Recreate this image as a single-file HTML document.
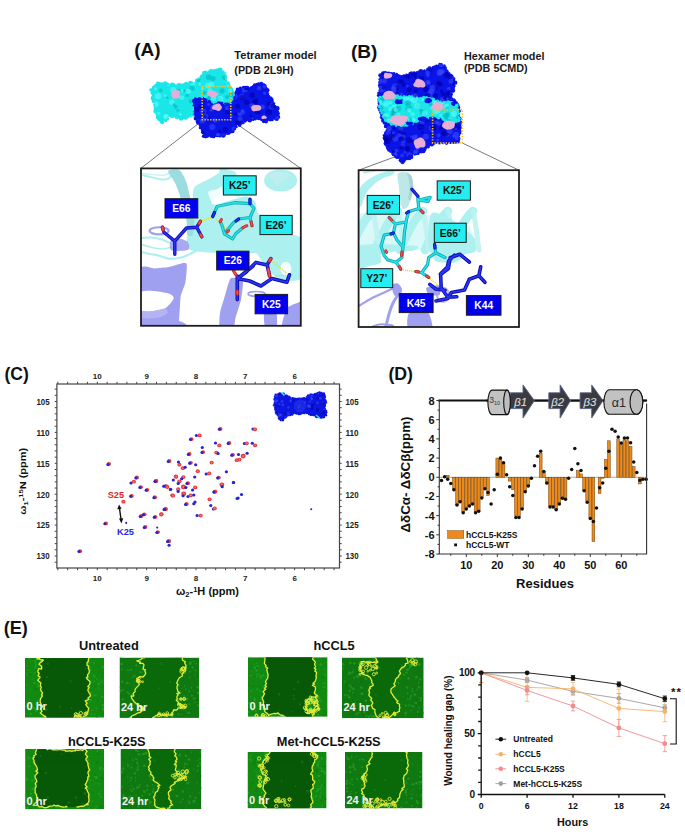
<!DOCTYPE html>
<html><head><meta charset="utf-8"><style>
html,body{margin:0;padding:0;background:#fff;}
body{width:685px;height:832px;overflow:hidden;}
svg{display:block;font-family:"Liberation Sans", sans-serif;}
</style></head><body>
<svg width="685" height="832" viewBox="0 0 685 832">
<text x="134.3" y="56.4" font-size="19" text-anchor="start" fill="#111" font-weight="bold" >(A)</text>
<text x="234.3" y="59.1" font-size="11.1" text-anchor="start" fill="#1a1a1a" font-weight="bold" >Tetramer model</text>
<text x="234.3" y="74.3" font-size="10.8" text-anchor="start" fill="#1a1a1a" font-weight="bold" >(PDB 2L9H)</text>
<text x="351" y="57.6" font-size="19" text-anchor="start" fill="#111" font-weight="bold" >(B)</text>
<text x="464" y="59.7" font-size="10.8" text-anchor="start" fill="#1a1a1a" font-weight="bold" >Hexamer model</text>
<text x="464" y="72.3" font-size="10.8" text-anchor="start" fill="#1a1a1a" font-weight="bold" >(PDB 5CMD)</text>
<path d="M203,120L140.8,168.4M231,120L300.8,168.4" stroke="#555" stroke-width="0.8" fill="none"/>
<path d="M432.6,143L358.6,170.2M462.3,143L518.9,170.2" stroke="#555" stroke-width="0.8" fill="none"/>
<g fill="#1ae6e8"><path d="M151.2,89.8C152.14,87.34 154.04,84.48 157.3,83.4C160.56,82.32 163.82,84 167.5,84.4C171.18,84.8 172.02,85.4 175.7,85.4C179.38,85.4 182.24,85 185.9,84.4C189.56,83.8 190.94,83.82 194,82.4C197.06,80.98 199.14,79.14 201.2,77.3C203.26,75.46 202.06,74.44 204.3,73.2C206.54,71.96 209.14,71.72 212.4,71.1C215.66,70.48 217.94,69.68 220.6,70.1C223.26,70.52 224.88,71.36 225.7,73.2C226.52,75.04 224.08,76.86 224.7,79.3C225.32,81.74 227.16,82.94 228.8,85.4C230.44,87.86 231.88,87.92 232.9,91.6C233.92,95.28 234.72,100.54 233.9,103.8C233.08,107.06 236.36,107.48 228.8,107.9C221.24,108.32 202.84,104.68 196.1,105.9C189.36,107.12 196.74,111.76 195.1,114C193.46,116.24 190.56,116.06 187.9,117.1C185.24,118.14 184.24,119.2 181.8,119.2C179.36,119.2 178.16,117.72 175.7,117.1C173.24,116.48 171.56,115.48 169.5,116.1C167.44,116.72 166.82,118.98 165.4,120.2C163.98,121.42 163.88,122.74 162.4,122.2C160.92,121.66 159.36,119.54 158,117.5C156.64,115.46 156.28,115.14 155.6,112C154.92,108.86 155.2,105.06 154.6,101.8C154,98.54 153.28,98.1 152.6,95.7C151.92,93.3 150.26,92.26 151.2,89.8Z" fill="#1ae6e8"/><circle cx="150.78" cy="89.87" r="1.54"/><circle cx="152.89" cy="88.4" r="1.18"/><circle cx="153.47" cy="87.14" r="1.41"/><circle cx="155.35" cy="85.79" r="1.66"/><circle cx="157.84" cy="83.36" r="1.87"/><circle cx="158.78" cy="83.82" r="2.14"/><circle cx="161.42" cy="84.19" r="1.91"/><circle cx="162.72" cy="84.41" r="1.81"/><circle cx="165.14" cy="83.45" r="2.14"/><circle cx="167.46" cy="84.75" r="2.15"/><circle cx="169.89" cy="85.32" r="1.57"/><circle cx="172.08" cy="84.81" r="2.22"/><circle cx="174.26" cy="84.51" r="1.26"/><circle cx="175.25" cy="86.14" r="1.62"/><circle cx="177.94" cy="84.88" r="1.71"/><circle cx="179.6" cy="84.76" r="1.8"/><circle cx="181.95" cy="85.45" r="1.92"/><circle cx="184.55" cy="85.17" r="2.29"/><circle cx="186.17" cy="83.86" r="2.13"/><circle cx="188.67" cy="84.55" r="1.78"/><circle cx="190.29" cy="82.94" r="2.1"/><circle cx="192.09" cy="82.56" r="1.18"/><circle cx="194.57" cy="83.18" r="1.21"/><circle cx="196.28" cy="80.98" r="1.28"/><circle cx="197.27" cy="80.28" r="2.15"/><circle cx="198.67" cy="78.76" r="1.15"/><circle cx="201.55" cy="77.03" r="2.16"/><circle cx="203.52" cy="75.26" r="2.3"/><circle cx="204" cy="72.52" r="1.82"/><circle cx="205.58" cy="72.19" r="1.59"/><circle cx="208.53" cy="71.6" r="1.15"/><circle cx="210.96" cy="71.33" r="2.25"/><circle cx="213.03" cy="70.9" r="1.65"/><circle cx="214.48" cy="71.08" r="1.81"/><circle cx="216.59" cy="70.79" r="2.23"/><circle cx="218.56" cy="70.24" r="1.96"/><circle cx="220.18" cy="69.78" r="2.27"/><circle cx="223.18" cy="71.73" r="1.11"/><circle cx="225.56" cy="73.33" r="1.12"/><circle cx="225.55" cy="75.44" r="1.17"/><circle cx="225.24" cy="77.21" r="1.92"/><circle cx="224.46" cy="79.63" r="1.99"/><circle cx="225.3" cy="80.63" r="1.91"/><circle cx="228.17" cy="82.97" r="1.65"/><circle cx="228.95" cy="85.11" r="1.54"/><circle cx="229.87" cy="87.26" r="1.81"/><circle cx="231.21" cy="89.34" r="2.03"/><circle cx="232.14" cy="91.71" r="1.98"/><circle cx="232.76" cy="93.19" r="2.06"/><circle cx="232.82" cy="95.17" r="1.62"/><circle cx="233.72" cy="97.06" r="1.49"/><circle cx="233.3" cy="100.27" r="1.63"/><circle cx="234.3" cy="101.24" r="1.5"/><circle cx="234.14" cy="104.42" r="1.64"/><circle cx="231.76" cy="104.56" r="1.74"/><circle cx="230.01" cy="107.02" r="2.11"/><circle cx="228.29" cy="107.55" r="2.07"/><circle cx="226.98" cy="108.27" r="1.51"/><circle cx="224.12" cy="107.32" r="2.05"/><circle cx="222.3" cy="107.28" r="1.6"/><circle cx="220.5" cy="107.26" r="2.2"/><circle cx="218.03" cy="106.48" r="2.23"/><circle cx="217.15" cy="107.93" r="1.62"/><circle cx="215.21" cy="107.71" r="1.37"/><circle cx="212.84" cy="107.44" r="1.9"/><circle cx="210.44" cy="106.44" r="1.51"/><circle cx="207.93" cy="105.96" r="1.81"/><circle cx="205.98" cy="107.02" r="1.15"/><circle cx="204.92" cy="106.71" r="2.21"/><circle cx="202.87" cy="106.91" r="1.79"/><circle cx="199.41" cy="106.54" r="1.31"/><circle cx="197.82" cy="106.29" r="1.73"/><circle cx="195.96" cy="106.6" r="1.83"/><circle cx="195.6" cy="107.53" r="2.13"/><circle cx="195.56" cy="110.4" r="1.52"/><circle cx="194.87" cy="112.03" r="2.08"/><circle cx="194.57" cy="114.47" r="2.21"/><circle cx="193.19" cy="115.55" r="1.11"/><circle cx="190.51" cy="116.65" r="1.16"/><circle cx="187.53" cy="116.73" r="1.73"/><circle cx="185.74" cy="117.76" r="2.03"/><circle cx="183.04" cy="117.79" r="1.25"/><circle cx="181.2" cy="118.51" r="2.27"/><circle cx="180.33" cy="117.84" r="1.7"/><circle cx="177.44" cy="117.5" r="1.52"/><circle cx="175.94" cy="117.24" r="1.53"/><circle cx="173.14" cy="116.49" r="1.25"/><circle cx="171.66" cy="116.78" r="1.56"/><circle cx="168.83" cy="115.59" r="1.55"/><circle cx="167.62" cy="118.6" r="1.56"/><circle cx="165.88" cy="120.4" r="1.62"/><circle cx="162.2" cy="122.19" r="1.94"/><circle cx="160.81" cy="120.94" r="1.65"/><circle cx="159.06" cy="119.12" r="1.93"/><circle cx="157.31" cy="117.38" r="1.61"/><circle cx="157.81" cy="116.37" r="1.55"/><circle cx="157.04" cy="114.3" r="1.41"/><circle cx="155.54" cy="111.4" r="2.08"/><circle cx="155.66" cy="110.58" r="2.05"/><circle cx="155.47" cy="108.29" r="1.78"/><circle cx="154.37" cy="106.02" r="1.11"/><circle cx="154.23" cy="104.28" r="1.15"/><circle cx="153.95" cy="101.16" r="2.16"/><circle cx="153.42" cy="99" r="2.11"/><circle cx="152.66" cy="98.28" r="1.91"/><circle cx="153.14" cy="96.42" r="1.79"/><circle cx="152.61" cy="92.99" r="2.02"/><circle cx="151.68" cy="92.11" r="1.23"/></g>
<clipPath id="cA"><path d="M151.2,89.8C152.14,87.34 154.04,84.48 157.3,83.4C160.56,82.32 163.82,84 167.5,84.4C171.18,84.8 172.02,85.4 175.7,85.4C179.38,85.4 182.24,85 185.9,84.4C189.56,83.8 190.94,83.82 194,82.4C197.06,80.98 199.14,79.14 201.2,77.3C203.26,75.46 202.06,74.44 204.3,73.2C206.54,71.96 209.14,71.72 212.4,71.1C215.66,70.48 217.94,69.68 220.6,70.1C223.26,70.52 224.88,71.36 225.7,73.2C226.52,75.04 224.08,76.86 224.7,79.3C225.32,81.74 227.16,82.94 228.8,85.4C230.44,87.86 231.88,87.92 232.9,91.6C233.92,95.28 234.72,100.54 233.9,103.8C233.08,107.06 236.36,107.48 228.8,107.9C221.24,108.32 202.84,104.68 196.1,105.9C189.36,107.12 196.74,111.76 195.1,114C193.46,116.24 190.56,116.06 187.9,117.1C185.24,118.14 184.24,119.2 181.8,119.2C179.36,119.2 178.16,117.72 175.7,117.1C173.24,116.48 171.56,115.48 169.5,116.1C167.44,116.72 166.82,118.98 165.4,120.2C163.98,121.42 163.88,122.74 162.4,122.2C160.92,121.66 159.36,119.54 158,117.5C156.64,115.46 156.28,115.14 155.6,112C154.92,108.86 155.2,105.06 154.6,101.8C154,98.54 153.28,98.1 152.6,95.7C151.92,93.3 150.26,92.26 151.2,89.8Z"/></clipPath>
<g clip-path="url(#cA)"><circle cx="213.14" cy="118.79" r="1.32" fill="#5afcfc" opacity="0.6"/><circle cx="197.84" cy="113.24" r="1.68" fill="#5afcfc" opacity="0.6"/><circle cx="171.87" cy="102.19" r="2.71" fill="#5afcfc" opacity="0.6"/><circle cx="181.59" cy="90.76" r="1.9" fill="#5afcfc" opacity="0.6"/><circle cx="158.09" cy="96.17" r="3.15" fill="#5afcfc" opacity="0.6"/><circle cx="213.01" cy="78.47" r="2.58" fill="#00b8bc" opacity="0.6"/><circle cx="206.93" cy="97.04" r="2.17" fill="#00b8bc" opacity="0.6"/><circle cx="225.42" cy="77.88" r="1.39" fill="#00b8bc" opacity="0.6"/><circle cx="227" cy="97.05" r="2.09" fill="#00b8bc" opacity="0.6"/><circle cx="166.59" cy="84.03" r="1.6" fill="#00b8bc" opacity="0.6"/><circle cx="177.24" cy="82.2" r="2.58" fill="#00b8bc" opacity="0.6"/><circle cx="175.67" cy="106.85" r="2.03" fill="#00b8bc" opacity="0.6"/><circle cx="199.55" cy="84.02" r="1.64" fill="#5afcfc" opacity="0.6"/><circle cx="190.85" cy="90.04" r="1.54" fill="#5afcfc" opacity="0.6"/><circle cx="177.83" cy="110.44" r="1.49" fill="#00b8bc" opacity="0.6"/><circle cx="190.86" cy="101.31" r="2.14" fill="#00b8bc" opacity="0.6"/><circle cx="219.15" cy="99.13" r="2.16" fill="#00b8bc" opacity="0.6"/><circle cx="222.04" cy="90.95" r="2.67" fill="#00b8bc" opacity="0.6"/><circle cx="189.85" cy="82.06" r="1.67" fill="#00b8bc" opacity="0.6"/><circle cx="207.05" cy="120.05" r="2.91" fill="#5afcfc" opacity="0.6"/><circle cx="166.88" cy="83.57" r="1.57" fill="#00b8bc" opacity="0.6"/><circle cx="222.21" cy="116.98" r="1.71" fill="#00b8bc" opacity="0.6"/><circle cx="177.12" cy="92.15" r="2.66" fill="#5afcfc" opacity="0.6"/><circle cx="158.86" cy="113.55" r="1.78" fill="#5afcfc" opacity="0.6"/><circle cx="199.19" cy="105.29" r="1.21" fill="#5afcfc" opacity="0.6"/><circle cx="187.28" cy="95.42" r="1.62" fill="#00b8bc" opacity="0.6"/><circle cx="230.21" cy="90.47" r="2.29" fill="#5afcfc" opacity="0.6"/><circle cx="173.92" cy="104.77" r="1.43" fill="#00b8bc" opacity="0.6"/><circle cx="226.35" cy="75.15" r="3.08" fill="#5afcfc" opacity="0.6"/><circle cx="215.08" cy="109.56" r="1.79" fill="#00b8bc" opacity="0.6"/><circle cx="205.29" cy="112.1" r="1.73" fill="#00b8bc" opacity="0.6"/><circle cx="230.7" cy="105.15" r="2.27" fill="#5afcfc" opacity="0.6"/><circle cx="192.04" cy="88.45" r="2.64" fill="#00b8bc" opacity="0.6"/><circle cx="198.04" cy="79.58" r="2.49" fill="#00b8bc" opacity="0.6"/><circle cx="166.01" cy="116.46" r="2.51" fill="#5afcfc" opacity="0.6"/><circle cx="228.26" cy="77.47" r="1.86" fill="#00b8bc" opacity="0.6"/><circle cx="200.61" cy="99.01" r="2.49" fill="#5afcfc" opacity="0.6"/><circle cx="177.04" cy="79.29" r="1.34" fill="#00b8bc" opacity="0.6"/><circle cx="213.6" cy="98.4" r="2.68" fill="#5afcfc" opacity="0.6"/><circle cx="173.19" cy="90.07" r="2.95" fill="#5afcfc" opacity="0.6"/><circle cx="192.94" cy="82.98" r="2.74" fill="#5afcfc" opacity="0.6"/><circle cx="178.73" cy="91.11" r="2.28" fill="#00b8bc" opacity="0.6"/><circle cx="180.38" cy="114.22" r="1.42" fill="#5afcfc" opacity="0.6"/><circle cx="159.44" cy="75.97" r="2.76" fill="#00b8bc" opacity="0.6"/><circle cx="166.49" cy="79.96" r="2.03" fill="#00b8bc" opacity="0.6"/><circle cx="218.66" cy="109.11" r="2.38" fill="#5afcfc" opacity="0.6"/><circle cx="184.15" cy="80.19" r="2.26" fill="#00b8bc" opacity="0.6"/><circle cx="167.91" cy="83.13" r="2.76" fill="#5afcfc" opacity="0.6"/><circle cx="217.62" cy="116.53" r="3.1" fill="#5afcfc" opacity="0.6"/><circle cx="196.9" cy="100.48" r="2.47" fill="#00b8bc" opacity="0.6"/><circle cx="207.98" cy="85.7" r="2.92" fill="#5afcfc" opacity="0.6"/><circle cx="200.93" cy="107.97" r="1.2" fill="#00b8bc" opacity="0.6"/><circle cx="205.94" cy="95.73" r="2.25" fill="#5afcfc" opacity="0.6"/><circle cx="167.2" cy="97.69" r="1.27" fill="#00b8bc" opacity="0.6"/><circle cx="204.62" cy="93.24" r="2.33" fill="#00b8bc" opacity="0.6"/><circle cx="224.97" cy="77.16" r="2.78" fill="#00b8bc" opacity="0.6"/><circle cx="155.39" cy="88.85" r="1.67" fill="#5afcfc" opacity="0.6"/><circle cx="195.77" cy="118.54" r="1.85" fill="#00b8bc" opacity="0.6"/><circle cx="208.65" cy="77.1" r="2.92" fill="#00b8bc" opacity="0.6"/><circle cx="227.86" cy="107.4" r="2.68" fill="#5afcfc" opacity="0.6"/><circle cx="217.91" cy="118.64" r="2.92" fill="#5afcfc" opacity="0.6"/><circle cx="213.79" cy="95.37" r="1.42" fill="#5afcfc" opacity="0.6"/><circle cx="157.65" cy="80.54" r="1.52" fill="#5afcfc" opacity="0.6"/><circle cx="209.03" cy="98.1" r="2.04" fill="#00b8bc" opacity="0.6"/><circle cx="176.39" cy="94.3" r="2.71" fill="#5afcfc" opacity="0.6"/><circle cx="166.13" cy="116.96" r="2.64" fill="#5afcfc" opacity="0.6"/><circle cx="181.88" cy="97.68" r="2.39" fill="#5afcfc" opacity="0.6"/><circle cx="151.42" cy="80.99" r="2.77" fill="#5afcfc" opacity="0.6"/><circle cx="189.24" cy="80.28" r="1.62" fill="#5afcfc" opacity="0.6"/><circle cx="184.59" cy="78.87" r="1.25" fill="#5afcfc" opacity="0.6"/><circle cx="165.11" cy="95.64" r="1.32" fill="#5afcfc" opacity="0.6"/><circle cx="188.25" cy="91.34" r="2.61" fill="#5afcfc" opacity="0.6"/><circle cx="184.55" cy="90.76" r="1.25" fill="#00b8bc" opacity="0.6"/><circle cx="169.3" cy="75.01" r="2.15" fill="#5afcfc" opacity="0.6"/><circle cx="202.68" cy="88.15" r="1.45" fill="#5afcfc" opacity="0.6"/><circle cx="211.38" cy="84.43" r="2.78" fill="#5afcfc" opacity="0.6"/><circle cx="228.35" cy="85.76" r="1.7" fill="#5afcfc" opacity="0.6"/><circle cx="218.57" cy="102.88" r="1.89" fill="#5afcfc" opacity="0.6"/><circle cx="207.63" cy="120.6" r="2.38" fill="#5afcfc" opacity="0.6"/><circle cx="153.71" cy="74.82" r="1.54" fill="#5afcfc" opacity="0.6"/><circle cx="155.66" cy="104.19" r="3" fill="#5afcfc" opacity="0.6"/><circle cx="231.74" cy="94.95" r="2.81" fill="#00b8bc" opacity="0.6"/><circle cx="228.95" cy="71.88" r="1.81" fill="#00b8bc" opacity="0.6"/><circle cx="229.48" cy="74.67" r="1.79" fill="#00b8bc" opacity="0.6"/><circle cx="160.68" cy="90.41" r="1.87" fill="#00b8bc" opacity="0.6"/><circle cx="227.99" cy="79.2" r="2.68" fill="#00b8bc" opacity="0.6"/><circle cx="220.31" cy="98.93" r="3.05" fill="#5afcfc" opacity="0.6"/><circle cx="185.5" cy="82.05" r="2.76" fill="#5afcfc" opacity="0.6"/><circle cx="173.48" cy="78.94" r="2.64" fill="#00b8bc" opacity="0.6"/><circle cx="209.97" cy="90.25" r="2.17" fill="#5afcfc" opacity="0.6"/></g>
<g fill="#0a14e6"><path d="M195.1,99.7C196.74,98.06 199.96,97.48 202.2,97.7C204.44,97.92 204.26,99.36 206.3,100.8C208.34,102.24 209.54,104.5 212.4,104.9C215.26,105.3 217.32,102.6 220.6,102.8C223.88,103 225.94,106.52 228.8,105.9C231.66,105.28 233.26,102.98 234.9,99.7C236.54,96.42 235.36,91.94 237,89.5C238.64,87.06 240.24,87.7 243.1,87.5C245.96,87.3 248.04,89.32 251.3,88.5C254.56,87.68 256.54,84.02 259.4,83.4C262.26,82.78 263.96,83.36 265.6,85.4C267.24,87.44 266.38,90.74 267.6,93.6C268.82,96.46 269.66,96.42 271.7,99.7C273.74,102.98 276.36,106.32 277.8,110C279.24,113.68 280.12,116.26 278.9,118.1C277.68,119.94 274.36,118.58 271.7,119.2C269.04,119.82 268.46,121.42 265.6,121.2C262.74,120.98 261.08,118.3 257.4,118.1C253.72,117.9 250.88,118.96 247.2,120.2C243.52,121.44 241.46,122.66 239,124.3C236.54,125.94 236.54,126.78 234.9,128.4C233.26,130.02 233.24,130.98 230.8,132.4C228.36,133.82 226.38,134.68 222.7,135.5C219.02,136.32 216.08,136.5 212.4,136.5C208.72,136.5 206.54,136.72 204.3,135.5C202.06,134.28 202.02,132.64 201.2,130.4C200.38,128.16 201.02,126.14 200.2,124.3C199.38,122.46 198.12,123.26 197.1,121.2C196.08,119.14 195.72,117.06 195.1,114C194.48,110.94 194,108.76 194,105.9C194,103.04 193.46,101.34 195.1,99.7Z" fill="#0a14e6"/><circle cx="195.44" cy="98.94" r="1.66"/><circle cx="197.88" cy="99.32" r="1.22"/><circle cx="199.41" cy="98.92" r="1.87"/><circle cx="202.81" cy="98.3" r="1.64"/><circle cx="204.89" cy="99.62" r="1.5"/><circle cx="206.09" cy="100.12" r="1.58"/><circle cx="209.06" cy="101.53" r="1.78"/><circle cx="209.74" cy="102.86" r="1.88"/><circle cx="211.99" cy="104.18" r="1.28"/><circle cx="214.68" cy="104.51" r="1.11"/><circle cx="216.07" cy="104.6" r="1.36"/><circle cx="218.65" cy="103.2" r="2.04"/><circle cx="220.77" cy="103.26" r="1.74"/><circle cx="222.15" cy="103.06" r="1.19"/><circle cx="225.22" cy="103.73" r="1.13"/><circle cx="227.5" cy="104.64" r="2.17"/><circle cx="228.14" cy="105.84" r="1.37"/><circle cx="230.85" cy="104.53" r="1.87"/><circle cx="232.27" cy="103.39" r="1.52"/><circle cx="233.54" cy="101.16" r="1.23"/><circle cx="235.44" cy="99.85" r="2.08"/><circle cx="234.85" cy="97.72" r="1.66"/><circle cx="236.1" cy="94.94" r="1.52"/><circle cx="236.14" cy="92.89" r="1.76"/><circle cx="236.96" cy="91.42" r="1.88"/><circle cx="237.17" cy="89.04" r="1.52"/><circle cx="239.83" cy="88.57" r="1.62"/><circle cx="240.4" cy="87.72" r="1.3"/><circle cx="243.79" cy="87.86" r="2.15"/><circle cx="245.93" cy="87.93" r="2.22"/><circle cx="247.26" cy="87.87" r="2.24"/><circle cx="249.89" cy="88.97" r="1.68"/><circle cx="251.74" cy="88.35" r="2.3"/><circle cx="254" cy="86.89" r="2.22"/><circle cx="254.85" cy="85.3" r="1.97"/><circle cx="257.05" cy="84.71" r="1.87"/><circle cx="258.66" cy="83.79" r="1.43"/><circle cx="261.36" cy="83.82" r="1.99"/><circle cx="263.93" cy="84.39" r="1.22"/><circle cx="265.28" cy="85.26" r="1.19"/><circle cx="265.55" cy="87.87" r="1.94"/><circle cx="267.36" cy="90.27" r="2.15"/><circle cx="266.9" cy="91.01" r="1.47"/><circle cx="267.54" cy="93.64" r="1.75"/><circle cx="268.74" cy="96.2" r="1.44"/><circle cx="270.27" cy="98.29" r="2.07"/><circle cx="271.38" cy="99.29" r="2.07"/><circle cx="272.14" cy="101.17" r="1.74"/><circle cx="274.2" cy="103.29" r="1.16"/><circle cx="274.89" cy="106.31" r="1.66"/><circle cx="277.35" cy="108.4" r="2.28"/><circle cx="277.06" cy="109.5" r="1.12"/><circle cx="277.97" cy="111.77" r="1.16"/><circle cx="278.42" cy="113.4" r="1.47"/><circle cx="278.22" cy="116.56" r="1.6"/><circle cx="278.52" cy="117.37" r="1.62"/><circle cx="276.7" cy="118.75" r="2.2"/><circle cx="274.59" cy="118.43" r="1.26"/><circle cx="272.11" cy="119.66" r="1.71"/><circle cx="270.2" cy="119.95" r="1.44"/><circle cx="267.1" cy="119.76" r="1.87"/><circle cx="266.24" cy="121.85" r="1.66"/><circle cx="263.81" cy="121.11" r="2.08"/><circle cx="261.66" cy="119.51" r="1.72"/><circle cx="258.92" cy="118.37" r="1.92"/><circle cx="258.19" cy="118.18" r="1.59"/><circle cx="255.12" cy="118.45" r="2.06"/><circle cx="253.24" cy="119.67" r="1.29"/><circle cx="250.98" cy="119.4" r="1.59"/><circle cx="249.8" cy="120.3" r="2.22"/><circle cx="247.38" cy="119.45" r="1.79"/><circle cx="245.23" cy="121.21" r="1.44"/><circle cx="243.44" cy="122.91" r="1.22"/><circle cx="241.32" cy="123.07" r="1.72"/><circle cx="239.63" cy="125.04" r="1.87"/><circle cx="236.46" cy="127.02" r="1.32"/><circle cx="234.71" cy="128.93" r="1.48"/><circle cx="232.48" cy="131.12" r="2.23"/><circle cx="230.51" cy="132.23" r="1.44"/><circle cx="228.19" cy="132.78" r="2.28"/><circle cx="226.08" cy="133.52" r="1.34"/><circle cx="224.05" cy="134.77" r="1.99"/><circle cx="223.24" cy="135.71" r="2.08"/><circle cx="219.85" cy="135.35" r="2.25"/><circle cx="217.89" cy="135.53" r="1.68"/><circle cx="216.15" cy="136.17" r="1.16"/><circle cx="214.04" cy="137.03" r="1.27"/><circle cx="213.05" cy="135.98" r="2.29"/><circle cx="210.65" cy="136.49" r="1.27"/><circle cx="207.64" cy="136.42" r="1.31"/><circle cx="205.83" cy="136.27" r="2.15"/><circle cx="203.58" cy="136.24" r="1.74"/><circle cx="202.56" cy="132.32" r="1.57"/><circle cx="201.98" cy="130.05" r="1.26"/><circle cx="200.3" cy="127.77" r="1.52"/><circle cx="201.2" cy="125.66" r="1.33"/><circle cx="200.9" cy="125.1" r="2.28"/><circle cx="198.24" cy="122.52" r="2.24"/><circle cx="197.08" cy="121.53" r="1.48"/><circle cx="195.67" cy="118.55" r="2"/><circle cx="196.22" cy="116.51" r="1.66"/><circle cx="195.16" cy="113.91" r="1.74"/><circle cx="195.36" cy="111.5" r="1.81"/><circle cx="195.24" cy="110.51" r="1.32"/><circle cx="195.02" cy="108.47" r="1.3"/><circle cx="193.63" cy="105.42" r="1.16"/><circle cx="195.13" cy="103.69" r="2.15"/><circle cx="194.12" cy="100.99" r="2.14"/></g>
<clipPath id="bA"><path d="M195.1,99.7C196.74,98.06 199.96,97.48 202.2,97.7C204.44,97.92 204.26,99.36 206.3,100.8C208.34,102.24 209.54,104.5 212.4,104.9C215.26,105.3 217.32,102.6 220.6,102.8C223.88,103 225.94,106.52 228.8,105.9C231.66,105.28 233.26,102.98 234.9,99.7C236.54,96.42 235.36,91.94 237,89.5C238.64,87.06 240.24,87.7 243.1,87.5C245.96,87.3 248.04,89.32 251.3,88.5C254.56,87.68 256.54,84.02 259.4,83.4C262.26,82.78 263.96,83.36 265.6,85.4C267.24,87.44 266.38,90.74 267.6,93.6C268.82,96.46 269.66,96.42 271.7,99.7C273.74,102.98 276.36,106.32 277.8,110C279.24,113.68 280.12,116.26 278.9,118.1C277.68,119.94 274.36,118.58 271.7,119.2C269.04,119.82 268.46,121.42 265.6,121.2C262.74,120.98 261.08,118.3 257.4,118.1C253.72,117.9 250.88,118.96 247.2,120.2C243.52,121.44 241.46,122.66 239,124.3C236.54,125.94 236.54,126.78 234.9,128.4C233.26,130.02 233.24,130.98 230.8,132.4C228.36,133.82 226.38,134.68 222.7,135.5C219.02,136.32 216.08,136.5 212.4,136.5C208.72,136.5 206.54,136.72 204.3,135.5C202.06,134.28 202.02,132.64 201.2,130.4C200.38,128.16 201.02,126.14 200.2,124.3C199.38,122.46 198.12,123.26 197.1,121.2C196.08,119.14 195.72,117.06 195.1,114C194.48,110.94 194,108.76 194,105.9C194,103.04 193.46,101.34 195.1,99.7Z"/></clipPath>
<g clip-path="url(#bA)"><circle cx="261.41" cy="136.05" r="2.57" fill="#0000a8" opacity="0.6"/><circle cx="259.04" cy="88.31" r="2.28" fill="#3848ff" opacity="0.6"/><circle cx="206.42" cy="115.28" r="1.85" fill="#0000a8" opacity="0.6"/><circle cx="225.71" cy="100.29" r="1.92" fill="#0000a8" opacity="0.6"/><circle cx="277.24" cy="133.11" r="2.92" fill="#0000a8" opacity="0.6"/><circle cx="218.35" cy="135.26" r="1.74" fill="#3848ff" opacity="0.6"/><circle cx="236.52" cy="122.28" r="1.88" fill="#0000a8" opacity="0.6"/><circle cx="217.98" cy="134.74" r="2.11" fill="#3848ff" opacity="0.6"/><circle cx="239.12" cy="129.86" r="3.17" fill="#0000a8" opacity="0.6"/><circle cx="231.49" cy="116.21" r="1.34" fill="#3848ff" opacity="0.6"/><circle cx="265.95" cy="124.68" r="1.32" fill="#0000a8" opacity="0.6"/><circle cx="226.6" cy="135.51" r="1.93" fill="#3848ff" opacity="0.6"/><circle cx="240.59" cy="130.33" r="2.06" fill="#0000a8" opacity="0.6"/><circle cx="254.39" cy="102.6" r="1.8" fill="#0000a8" opacity="0.6"/><circle cx="227.88" cy="103.18" r="2.5" fill="#0000a8" opacity="0.6"/><circle cx="243.62" cy="91.16" r="1.64" fill="#3848ff" opacity="0.6"/><circle cx="246.19" cy="90.81" r="1.36" fill="#3848ff" opacity="0.6"/><circle cx="218.02" cy="84.97" r="2.28" fill="#0000a8" opacity="0.6"/><circle cx="239.37" cy="122.56" r="2.86" fill="#0000a8" opacity="0.6"/><circle cx="271.52" cy="106.84" r="2.56" fill="#3848ff" opacity="0.6"/><circle cx="268.71" cy="103.48" r="2.15" fill="#0000a8" opacity="0.6"/><circle cx="218.35" cy="93.48" r="2.85" fill="#0000a8" opacity="0.6"/><circle cx="201.2" cy="84.89" r="1.9" fill="#3848ff" opacity="0.6"/><circle cx="264.67" cy="93.15" r="1.75" fill="#3848ff" opacity="0.6"/><circle cx="237.44" cy="106.36" r="2.46" fill="#0000a8" opacity="0.6"/><circle cx="231.03" cy="88.55" r="3.16" fill="#0000a8" opacity="0.6"/><circle cx="201.09" cy="106.85" r="2.71" fill="#0000a8" opacity="0.6"/><circle cx="199.6" cy="83.9" r="2.16" fill="#3848ff" opacity="0.6"/><circle cx="269.94" cy="127.29" r="1.86" fill="#3848ff" opacity="0.6"/><circle cx="243.48" cy="130.35" r="1.6" fill="#3848ff" opacity="0.6"/><circle cx="201.51" cy="117.45" r="1.25" fill="#0000a8" opacity="0.6"/><circle cx="238.46" cy="113.87" r="1.37" fill="#3848ff" opacity="0.6"/><circle cx="233.8" cy="128.93" r="2.28" fill="#3848ff" opacity="0.6"/><circle cx="277.38" cy="118.52" r="2.26" fill="#3848ff" opacity="0.6"/><circle cx="219.35" cy="131.18" r="1.47" fill="#0000a8" opacity="0.6"/><circle cx="246.63" cy="102.24" r="2.74" fill="#0000a8" opacity="0.6"/><circle cx="266.81" cy="122.59" r="1.61" fill="#3848ff" opacity="0.6"/><circle cx="230.75" cy="99.97" r="1.59" fill="#0000a8" opacity="0.6"/><circle cx="212.34" cy="127.09" r="3.08" fill="#3848ff" opacity="0.6"/><circle cx="271.56" cy="104.49" r="1.62" fill="#3848ff" opacity="0.6"/><circle cx="197.2" cy="109.88" r="1.97" fill="#0000a8" opacity="0.6"/><circle cx="264.72" cy="86.43" r="2" fill="#3848ff" opacity="0.6"/><circle cx="209.08" cy="96.71" r="1.73" fill="#0000a8" opacity="0.6"/><circle cx="222.88" cy="89.3" r="1.64" fill="#3848ff" opacity="0.6"/><circle cx="241.95" cy="96.44" r="2.6" fill="#3848ff" opacity="0.6"/><circle cx="250.95" cy="115.76" r="1.55" fill="#0000a8" opacity="0.6"/><circle cx="227.47" cy="112.05" r="2.4" fill="#0000a8" opacity="0.6"/><circle cx="231.55" cy="86.37" r="2.77" fill="#0000a8" opacity="0.6"/><circle cx="235.61" cy="114.14" r="1.74" fill="#0000a8" opacity="0.6"/><circle cx="252.21" cy="95.18" r="2.83" fill="#0000a8" opacity="0.6"/><circle cx="223.37" cy="136.26" r="2.17" fill="#3848ff" opacity="0.6"/><circle cx="254.86" cy="101.39" r="2.66" fill="#0000a8" opacity="0.6"/><circle cx="203.14" cy="111.44" r="2.9" fill="#3848ff" opacity="0.6"/><circle cx="239.79" cy="129.23" r="2.09" fill="#3848ff" opacity="0.6"/><circle cx="243.48" cy="127.15" r="1.61" fill="#3848ff" opacity="0.6"/><circle cx="258.63" cy="112.74" r="1.81" fill="#0000a8" opacity="0.6"/><circle cx="269.1" cy="112.15" r="3.18" fill="#0000a8" opacity="0.6"/><circle cx="257.51" cy="98.87" r="1.22" fill="#0000a8" opacity="0.6"/><circle cx="256.41" cy="102.02" r="2.16" fill="#0000a8" opacity="0.6"/><circle cx="215.21" cy="120.44" r="2.33" fill="#3848ff" opacity="0.6"/><circle cx="203.31" cy="112.81" r="1.84" fill="#0000a8" opacity="0.6"/><circle cx="208.65" cy="104.34" r="1.59" fill="#3848ff" opacity="0.6"/><circle cx="242.93" cy="89.08" r="1.31" fill="#3848ff" opacity="0.6"/><circle cx="211.11" cy="110.22" r="1.53" fill="#3848ff" opacity="0.6"/><circle cx="239.64" cy="132.42" r="2.94" fill="#0000a8" opacity="0.6"/><circle cx="227.73" cy="86.91" r="1.75" fill="#3848ff" opacity="0.6"/><circle cx="273.94" cy="89.62" r="3.1" fill="#3848ff" opacity="0.6"/><circle cx="230.85" cy="97.33" r="3.13" fill="#3848ff" opacity="0.6"/><circle cx="242.51" cy="110.52" r="1.6" fill="#3848ff" opacity="0.6"/><circle cx="277.66" cy="125.39" r="2.67" fill="#0000a8" opacity="0.6"/><circle cx="202.37" cy="120.76" r="2.7" fill="#3848ff" opacity="0.6"/><circle cx="232.8" cy="135.14" r="1.85" fill="#0000a8" opacity="0.6"/><circle cx="208.03" cy="118.83" r="1.74" fill="#0000a8" opacity="0.6"/><circle cx="225.61" cy="129.61" r="2.69" fill="#0000a8" opacity="0.6"/><circle cx="252.35" cy="106.11" r="2.81" fill="#3848ff" opacity="0.6"/><circle cx="240.2" cy="114.5" r="1.98" fill="#3848ff" opacity="0.6"/><circle cx="208.43" cy="117.41" r="1.62" fill="#0000a8" opacity="0.6"/><circle cx="236.87" cy="134.01" r="2.9" fill="#0000a8" opacity="0.6"/><circle cx="225.63" cy="85.71" r="2.31" fill="#0000a8" opacity="0.6"/><circle cx="272.2" cy="94.16" r="1.52" fill="#0000a8" opacity="0.6"/><circle cx="256.78" cy="109.13" r="2.68" fill="#3848ff" opacity="0.6"/><circle cx="240.19" cy="118.9" r="2.41" fill="#3848ff" opacity="0.6"/><circle cx="205.61" cy="116.58" r="2.97" fill="#3848ff" opacity="0.6"/><circle cx="194.6" cy="87.8" r="2.77" fill="#3848ff" opacity="0.6"/><circle cx="232.7" cy="136.18" r="2.42" fill="#3848ff" opacity="0.6"/><circle cx="253.51" cy="83.51" r="1.76" fill="#0000a8" opacity="0.6"/><circle cx="208.5" cy="85.14" r="2.24" fill="#3848ff" opacity="0.6"/><circle cx="276.45" cy="88.8" r="2.8" fill="#3848ff" opacity="0.6"/><circle cx="262.38" cy="107.03" r="2.53" fill="#3848ff" opacity="0.6"/><circle cx="213.07" cy="107.42" r="2.8" fill="#3848ff" opacity="0.6"/><circle cx="213.52" cy="105.48" r="1.39" fill="#3848ff" opacity="0.6"/><circle cx="242.63" cy="112.37" r="2.39" fill="#3848ff" opacity="0.6"/><circle cx="196.11" cy="84.81" r="1.88" fill="#3848ff" opacity="0.6"/><circle cx="242.31" cy="97.49" r="2.72" fill="#0000a8" opacity="0.6"/><circle cx="250.23" cy="122.46" r="2.24" fill="#3848ff" opacity="0.6"/><circle cx="220.19" cy="86.74" r="2.79" fill="#0000a8" opacity="0.6"/><circle cx="202.47" cy="132.6" r="2.36" fill="#0000a8" opacity="0.6"/><circle cx="231.24" cy="90.1" r="3.2" fill="#3848ff" opacity="0.6"/><circle cx="225.09" cy="136.46" r="1.44" fill="#3848ff" opacity="0.6"/><circle cx="234.72" cy="96.55" r="3.05" fill="#3848ff" opacity="0.6"/><circle cx="194.98" cy="108.55" r="1.21" fill="#0000a8" opacity="0.6"/><circle cx="267.78" cy="131.49" r="1.3" fill="#0000a8" opacity="0.6"/><circle cx="219.87" cy="108.5" r="1.8" fill="#3848ff" opacity="0.6"/><circle cx="205.27" cy="116.63" r="1.38" fill="#0000a8" opacity="0.6"/><circle cx="197.72" cy="134.59" r="1.58" fill="#3848ff" opacity="0.6"/><circle cx="257.23" cy="111.59" r="2.74" fill="#0000a8" opacity="0.6"/><circle cx="247.53" cy="87.79" r="2.55" fill="#0000a8" opacity="0.6"/><circle cx="275.69" cy="83.73" r="1.34" fill="#0000a8" opacity="0.6"/><circle cx="272.63" cy="105.79" r="2.62" fill="#0000a8" opacity="0.6"/><circle cx="227.19" cy="108.11" r="2.4" fill="#3848ff" opacity="0.6"/></g>
<path d="M179.65,94.8C179.55,96.49 180.36,96.85 179.44,97.82C178.52,98.79 177.86,98.28 176.2,98.44C174.55,98.59 174.43,99.02 173.23,98.39C172.03,97.76 172.17,97.37 171.7,96.06C171.24,94.75 171.13,94.85 171.49,93.47C171.84,92.09 171.72,91.77 173.03,90.89C174.34,90.01 174.58,90 176.4,90.16C178.21,90.32 178.96,90.25 179.83,91.48C180.7,92.72 179.76,93.11 179.65,94.8Z" fill="#e6aed6"/>
<path d="M218.14,94.2C218.15,95.3 217.49,95.36 216.25,96.28C215.01,97.2 215.05,97.51 213.49,97.64C211.94,97.77 211.88,97.38 210.42,96.76C208.96,96.15 208.9,96.38 208.02,95.33C207.14,94.29 206.68,94.07 207.12,92.85C207.55,91.62 207.96,91.23 209.64,90.73C211.33,90.22 211.7,90.56 213.45,90.94C215.2,91.32 214.96,91.28 216.21,92.15C217.46,93.02 218.12,93.1 218.14,94.2Z" fill="#e6aed6"/>
<path d="M221.8,107.2C221.87,108.25 221.85,108.25 221.01,109.25C220.18,110.25 220.11,110.72 218.67,110.94C217.23,111.17 217.33,110.67 215.61,110.09C213.88,109.5 212.91,109.88 212.2,108.75C211.49,107.62 212.07,107.08 212.95,105.86C213.83,104.64 213.98,104.78 215.5,104.17C217.02,103.57 217.24,103.28 218.64,103.59C220.04,103.89 219.91,104.36 220.75,105.32C221.59,106.28 221.72,106.15 221.8,107.2Z" fill="#e6aed6"/>
<path d="M261.18,107.8C261.26,109.07 261.18,109.43 259.91,110.26C258.64,111.09 258.3,110.7 256.41,110.92C254.52,111.14 254.14,111.63 252.82,111.08C251.49,110.52 251.77,109.97 251.44,108.83C251.1,107.69 251.03,107.75 251.56,106.8C252.09,105.85 252.17,105.75 253.44,105.26C254.71,104.76 254.69,104.89 256.34,104.96C257.99,105.02 258.34,104.74 259.63,105.5C260.93,106.26 261.11,106.53 261.18,107.8Z" fill="#e6aed6"/>
<path d="M266.78,117.3C266.92,117.91 266.86,118.21 266.22,118.59C265.57,118.97 265.35,118.59 264.36,118.72C263.38,118.85 263.27,119.28 262.53,119.07C261.79,118.85 261.8,118.53 261.58,117.91C261.36,117.28 261.41,117.3 261.71,116.72C262,116.14 261.97,116.04 262.7,115.74C263.43,115.44 263.64,115.43 264.44,115.59C265.23,115.74 265.07,115.86 265.69,116.32C266.32,116.77 266.64,116.69 266.78,117.3Z" fill="#e6aed6"/>
<rect x="202.2" y="86.5" width="28.6" height="33.3" fill="none" stroke="#f5c820" stroke-width="1.6" stroke-dasharray="1.4,1.4"/>
<g fill="#0a14e6"><path d="M380.44,75.07C381.47,72.89 381.72,73.21 384.45,72.99C387.18,72.76 390.56,73.44 394.09,73.95C397.62,74.46 398.59,75.75 402.12,75.56C405.65,75.36 407.9,73.72 411.75,72.99C415.61,72.25 417.21,72.95 421.39,71.86C425.56,70.77 429.1,69.04 432.63,67.53C436.16,66.02 436.74,64.64 439.05,64.31C441.37,63.99 442.52,64.31 444.19,65.92C445.86,67.53 445.48,69.77 447.4,72.34C449.33,74.91 452.35,76.13 453.83,78.77C455.31,81.4 455.34,82.81 454.79,85.51C454.25,88.21 452.16,89.69 451.1,92.26C450.04,94.83 448.69,96.5 449.49,98.36C450.3,100.22 453.41,100.29 455.11,101.57C456.82,102.86 457.3,101.89 458,104.78C458.71,107.67 458.2,112.49 458.65,116.02C459.1,119.56 460.16,118.59 460.25,122.45C460.35,126.3 459.58,131.44 459.13,135.3C458.68,139.15 460.41,140.18 458,141.72C455.59,143.26 451.19,142.94 447.08,143C442.97,143.07 440.92,141.59 437.45,142.04C433.98,142.49 432.57,143.33 429.74,145.25C426.91,147.18 426.85,149.75 423.32,151.68C419.78,153.6 415.29,153.35 412.07,154.89C408.86,156.43 409.25,157.91 407.26,159.38C405.27,160.86 403.85,162.6 402.12,162.27C400.38,161.95 400.58,159.64 398.59,157.78C396.59,155.92 394.73,155.53 392.16,152.96C389.59,150.39 387.34,148.14 385.74,144.93C384.13,141.72 383.81,140.11 384.13,136.9C384.45,133.69 387.6,132.08 387.34,128.87C387.09,125.66 384.45,125.02 382.85,120.84C381.24,116.67 380.12,112.81 379.31,108C378.51,103.18 378.83,101.57 378.83,96.75C378.83,91.94 378.99,88.24 379.31,83.91C379.64,79.57 379.41,77.26 380.44,75.07Z" fill="#0a14e6"/><circle cx="380.27" cy="75.31" r="1.96"/><circle cx="383.11" cy="73.54" r="2.17"/><circle cx="384.93" cy="73.33" r="2.28"/><circle cx="386.28" cy="73.67" r="2.18"/><circle cx="388.67" cy="73.62" r="2.24"/><circle cx="391.35" cy="74.28" r="2.19"/><circle cx="393.98" cy="73.38" r="1.36"/><circle cx="396.62" cy="74.23" r="1.48"/><circle cx="398.01" cy="75.44" r="1.4"/><circle cx="399.34" cy="75.87" r="1.48"/><circle cx="401.93" cy="76.32" r="1.44"/><circle cx="403.86" cy="75.53" r="1.39"/><circle cx="406.49" cy="74.97" r="1.38"/><circle cx="409.99" cy="73.36" r="1.46"/><circle cx="411.3" cy="73.05" r="1.77"/><circle cx="414" cy="72.72" r="1.46"/><circle cx="417.11" cy="73.12" r="2"/><circle cx="419.49" cy="71.46" r="1.4"/><circle cx="420.92" cy="71.31" r="2.26"/><circle cx="423.91" cy="71.8" r="1.77"/><circle cx="424.52" cy="70.3" r="1.17"/><circle cx="427.66" cy="69.32" r="1.45"/><circle cx="429.6" cy="68.49" r="2.21"/><circle cx="430.45" cy="68.51" r="1.23"/><circle cx="433.27" cy="67.36" r="1.51"/><circle cx="435.02" cy="66.6" r="1.4"/><circle cx="436.31" cy="65.51" r="1.13"/><circle cx="439.65" cy="64.06" r="1.3"/><circle cx="441.35" cy="64.5" r="1.48"/><circle cx="444.26" cy="65.77" r="1.5"/><circle cx="444.93" cy="68.04" r="2.03"/><circle cx="446.23" cy="70.63" r="1.68"/><circle cx="446.8" cy="71.82" r="2.12"/><circle cx="448.98" cy="73.76" r="1.72"/><circle cx="451.17" cy="75.36" r="1.53"/><circle cx="452.01" cy="76.38" r="1.75"/><circle cx="453.8" cy="78.76" r="1.64"/><circle cx="454.11" cy="81.36" r="1.32"/><circle cx="455.24" cy="82.65" r="2.14"/><circle cx="454.27" cy="85.98" r="1.41"/><circle cx="452.89" cy="87.83" r="2.11"/><circle cx="452.88" cy="90.61" r="2.28"/><circle cx="450.38" cy="92.06" r="1.23"/><circle cx="450.97" cy="94.21" r="1.99"/><circle cx="450.5" cy="97.12" r="1.91"/><circle cx="450.09" cy="98.44" r="1.2"/><circle cx="451.99" cy="98.78" r="1.2"/><circle cx="453.77" cy="100.15" r="1.89"/><circle cx="454.36" cy="101.11" r="1.96"/><circle cx="455.82" cy="103.19" r="2.22"/><circle cx="457.55" cy="105.11" r="1.99"/><circle cx="458.32" cy="107.46" r="1.94"/><circle cx="457.48" cy="108.79" r="1.74"/><circle cx="459.14" cy="111.08" r="1.8"/><circle cx="457.92" cy="114.33" r="1.63"/><circle cx="458.68" cy="116.3" r="1.26"/><circle cx="459.55" cy="118.65" r="2.13"/><circle cx="459.37" cy="119.88" r="1.3"/><circle cx="460.89" cy="122.35" r="1.57"/><circle cx="460.1" cy="124.91" r="1.48"/><circle cx="459.62" cy="127.16" r="2.03"/><circle cx="459.36" cy="128.19" r="2.21"/><circle cx="459.87" cy="131.16" r="1.59"/><circle cx="460.05" cy="133.04" r="1.36"/><circle cx="458.49" cy="135.06" r="1.82"/><circle cx="458.54" cy="138.15" r="1.88"/><circle cx="458.31" cy="139.83" r="1.82"/><circle cx="458.19" cy="141.71" r="1.73"/><circle cx="455.81" cy="142.51" r="1.33"/><circle cx="454.09" cy="141.91" r="2.12"/><circle cx="450.77" cy="142.47" r="1.63"/><circle cx="449.61" cy="142.27" r="1.41"/><circle cx="446.5" cy="143.1" r="1.79"/><circle cx="443.88" cy="142.25" r="1.34"/><circle cx="443" cy="142.45" r="1.78"/><circle cx="439.52" cy="142.54" r="2.08"/><circle cx="437.72" cy="141.24" r="1.63"/><circle cx="435.5" cy="142.11" r="2.05"/><circle cx="433.3" cy="143.32" r="1.85"/><circle cx="431.8" cy="144.44" r="2.13"/><circle cx="429.77" cy="145" r="1.18"/><circle cx="428.22" cy="146.64" r="1.74"/><circle cx="426.28" cy="147.67" r="1.15"/><circle cx="424.37" cy="149.42" r="2.12"/><circle cx="423.45" cy="151.26" r="1.95"/><circle cx="421.28" cy="151.62" r="2"/><circle cx="418.39" cy="153.76" r="1.27"/><circle cx="416.23" cy="153.2" r="2.13"/><circle cx="414.83" cy="154.37" r="1.28"/><circle cx="411.96" cy="155.21" r="1.17"/><circle cx="411.14" cy="156.93" r="2.22"/><circle cx="409.18" cy="158.07" r="2.27"/><circle cx="406.88" cy="159.07" r="1.25"/><circle cx="404.18" cy="161.31" r="1.21"/><circle cx="402.51" cy="162.11" r="2.15"/><circle cx="400.77" cy="160.33" r="2.11"/><circle cx="397.85" cy="157.4" r="1.54"/><circle cx="396.87" cy="156.85" r="2.16"/><circle cx="395.76" cy="156.06" r="1.94"/><circle cx="393.54" cy="154.18" r="2"/><circle cx="392.67" cy="152.75" r="1.53"/><circle cx="391.06" cy="150.92" r="2.16"/><circle cx="388.79" cy="149.99" r="1.68"/><circle cx="387.82" cy="148.26" r="1.67"/><circle cx="387.76" cy="147.15" r="1.8"/><circle cx="386.33" cy="145.54" r="1.3"/><circle cx="385.86" cy="143.46" r="2.29"/><circle cx="385.35" cy="140.74" r="1.35"/><circle cx="384.78" cy="138.45" r="2.01"/><circle cx="384.25" cy="137.42" r="1.53"/><circle cx="384.62" cy="135.54" r="1.9"/><circle cx="385.54" cy="132.98" r="1.62"/><circle cx="386.77" cy="130.91" r="1.44"/><circle cx="388.11" cy="129.49" r="2.01"/><circle cx="385.86" cy="126.38" r="1.98"/><circle cx="385.61" cy="125.1" r="1.36"/><circle cx="384.32" cy="122.89" r="1.55"/><circle cx="382.99" cy="120.76" r="1.88"/><circle cx="382.66" cy="119.47" r="1.23"/><circle cx="381.78" cy="117.27" r="1.89"/><circle cx="381.21" cy="114.98" r="1.14"/><circle cx="380.96" cy="112.47" r="1.8"/><circle cx="379.6" cy="110.33" r="1.25"/><circle cx="379.36" cy="107.61" r="2.22"/><circle cx="379.71" cy="105.7" r="2.01"/><circle cx="378.94" cy="103.54" r="1.29"/><circle cx="379.6" cy="101.67" r="2.01"/><circle cx="378.26" cy="99.51" r="1.11"/><circle cx="378.94" cy="96.73" r="1.17"/><circle cx="378.79" cy="95.23" r="1.85"/><circle cx="378.7" cy="92.97" r="1.53"/><circle cx="379.71" cy="90.17" r="1.19"/><circle cx="379.91" cy="87.5" r="1.4"/><circle cx="379.67" cy="85.43" r="1.75"/><circle cx="379.89" cy="84.05" r="1.52"/><circle cx="380.01" cy="82.22" r="1.8"/><circle cx="380.08" cy="79.21" r="1.59"/><circle cx="380.94" cy="78.04" r="1.1"/></g>
<clipPath id="bB1"><path d="M380.44,75.07C381.47,72.89 381.72,73.21 384.45,72.99C387.18,72.76 390.56,73.44 394.09,73.95C397.62,74.46 398.59,75.75 402.12,75.56C405.65,75.36 407.9,73.72 411.75,72.99C415.61,72.25 417.21,72.95 421.39,71.86C425.56,70.77 429.1,69.04 432.63,67.53C436.16,66.02 436.74,64.64 439.05,64.31C441.37,63.99 442.52,64.31 444.19,65.92C445.86,67.53 445.48,69.77 447.4,72.34C449.33,74.91 452.35,76.13 453.83,78.77C455.31,81.4 455.34,82.81 454.79,85.51C454.25,88.21 452.16,89.69 451.1,92.26C450.04,94.83 448.69,96.5 449.49,98.36C450.3,100.22 453.41,100.29 455.11,101.57C456.82,102.86 457.3,101.89 458,104.78C458.71,107.67 458.2,112.49 458.65,116.02C459.1,119.56 460.16,118.59 460.25,122.45C460.35,126.3 459.58,131.44 459.13,135.3C458.68,139.15 460.41,140.18 458,141.72C455.59,143.26 451.19,142.94 447.08,143C442.97,143.07 440.92,141.59 437.45,142.04C433.98,142.49 432.57,143.33 429.74,145.25C426.91,147.18 426.85,149.75 423.32,151.68C419.78,153.6 415.29,153.35 412.07,154.89C408.86,156.43 409.25,157.91 407.26,159.38C405.27,160.86 403.85,162.6 402.12,162.27C400.38,161.95 400.58,159.64 398.59,157.78C396.59,155.92 394.73,155.53 392.16,152.96C389.59,150.39 387.34,148.14 385.74,144.93C384.13,141.72 383.81,140.11 384.13,136.9C384.45,133.69 387.6,132.08 387.34,128.87C387.09,125.66 384.45,125.02 382.85,120.84C381.24,116.67 380.12,112.81 379.31,108C378.51,103.18 378.83,101.57 378.83,96.75C378.83,91.94 378.99,88.24 379.31,83.91C379.64,79.57 379.41,77.26 380.44,75.07Z"/></clipPath>
<g clip-path="url(#bB1)"><circle cx="394.81" cy="86.38" r="2.79" fill="#3848ff" opacity="0.6"/><circle cx="392.62" cy="139.34" r="1.54" fill="#0000a8" opacity="0.6"/><circle cx="415.91" cy="152.34" r="2.84" fill="#3848ff" opacity="0.6"/><circle cx="442.8" cy="104.96" r="1.64" fill="#3848ff" opacity="0.6"/><circle cx="436.09" cy="119.27" r="1.81" fill="#0000a8" opacity="0.6"/><circle cx="394.88" cy="107.88" r="1.37" fill="#3848ff" opacity="0.6"/><circle cx="450.86" cy="113.3" r="1.51" fill="#3848ff" opacity="0.6"/><circle cx="431.29" cy="91.52" r="2.97" fill="#3848ff" opacity="0.6"/><circle cx="449.58" cy="125.24" r="2.84" fill="#3848ff" opacity="0.6"/><circle cx="384.46" cy="81.18" r="2.45" fill="#3848ff" opacity="0.6"/><circle cx="387.8" cy="140.95" r="2.96" fill="#0000a8" opacity="0.6"/><circle cx="447.02" cy="118.69" r="2.95" fill="#0000a8" opacity="0.6"/><circle cx="424.22" cy="106.02" r="1.25" fill="#3848ff" opacity="0.6"/><circle cx="399.16" cy="109.46" r="1.44" fill="#0000a8" opacity="0.6"/><circle cx="425.77" cy="136.84" r="2.99" fill="#3848ff" opacity="0.6"/><circle cx="450.98" cy="158.17" r="1.73" fill="#3848ff" opacity="0.6"/><circle cx="443.97" cy="151.48" r="2.8" fill="#3848ff" opacity="0.6"/><circle cx="427.86" cy="75.47" r="1.67" fill="#3848ff" opacity="0.6"/><circle cx="439.47" cy="73.01" r="3.06" fill="#3848ff" opacity="0.6"/><circle cx="457.78" cy="87.53" r="2.84" fill="#0000a8" opacity="0.6"/><circle cx="456.54" cy="110.37" r="2.6" fill="#3848ff" opacity="0.6"/><circle cx="446.64" cy="74.98" r="2.97" fill="#0000a8" opacity="0.6"/><circle cx="383.87" cy="156.53" r="1.83" fill="#3848ff" opacity="0.6"/><circle cx="399.92" cy="66.99" r="1.76" fill="#0000a8" opacity="0.6"/><circle cx="459.32" cy="126.16" r="2.91" fill="#0000a8" opacity="0.6"/><circle cx="437.02" cy="101.97" r="1.7" fill="#3848ff" opacity="0.6"/><circle cx="423.37" cy="84.31" r="2.68" fill="#3848ff" opacity="0.6"/><circle cx="426" cy="117.85" r="2.46" fill="#3848ff" opacity="0.6"/><circle cx="399.7" cy="131.78" r="1.63" fill="#0000a8" opacity="0.6"/><circle cx="457.41" cy="102.43" r="3.12" fill="#0000a8" opacity="0.6"/><circle cx="455.72" cy="115.86" r="2.71" fill="#0000a8" opacity="0.6"/><circle cx="394.73" cy="115.05" r="2.36" fill="#3848ff" opacity="0.6"/><circle cx="432.57" cy="153.37" r="2.79" fill="#0000a8" opacity="0.6"/><circle cx="390.51" cy="133.2" r="2.45" fill="#0000a8" opacity="0.6"/><circle cx="379.04" cy="81.21" r="3.15" fill="#3848ff" opacity="0.6"/><circle cx="436.28" cy="122.28" r="2" fill="#3848ff" opacity="0.6"/><circle cx="424.6" cy="160.83" r="2.27" fill="#0000a8" opacity="0.6"/><circle cx="403.54" cy="134.04" r="2.41" fill="#0000a8" opacity="0.6"/><circle cx="450.44" cy="72.13" r="3.13" fill="#0000a8" opacity="0.6"/><circle cx="399.98" cy="109.8" r="1.39" fill="#3848ff" opacity="0.6"/><circle cx="447.04" cy="133.98" r="2.93" fill="#3848ff" opacity="0.6"/><circle cx="387.64" cy="101.48" r="2.19" fill="#0000a8" opacity="0.6"/><circle cx="403.12" cy="136.54" r="2.37" fill="#3848ff" opacity="0.6"/><circle cx="442.97" cy="71.53" r="2.38" fill="#3848ff" opacity="0.6"/><circle cx="382.3" cy="111.17" r="2.24" fill="#0000a8" opacity="0.6"/><circle cx="409.38" cy="155.37" r="2.77" fill="#3848ff" opacity="0.6"/><circle cx="379.22" cy="158.41" r="2.02" fill="#3848ff" opacity="0.6"/><circle cx="393.3" cy="132.9" r="1.55" fill="#3848ff" opacity="0.6"/><circle cx="433.94" cy="98.83" r="2.51" fill="#0000a8" opacity="0.6"/><circle cx="443.39" cy="125.85" r="2.45" fill="#3848ff" opacity="0.6"/><circle cx="430.97" cy="127.9" r="2.37" fill="#3848ff" opacity="0.6"/><circle cx="440.02" cy="84.34" r="2.63" fill="#0000a8" opacity="0.6"/><circle cx="381.76" cy="89.01" r="3.17" fill="#3848ff" opacity="0.6"/><circle cx="445.42" cy="121.23" r="1.34" fill="#0000a8" opacity="0.6"/><circle cx="379.45" cy="147.51" r="1.8" fill="#0000a8" opacity="0.6"/><circle cx="451.92" cy="77.69" r="2.01" fill="#3848ff" opacity="0.6"/><circle cx="440.53" cy="73.66" r="1.35" fill="#3848ff" opacity="0.6"/><circle cx="448.75" cy="88.52" r="1.85" fill="#3848ff" opacity="0.6"/><circle cx="423.76" cy="104.79" r="3.09" fill="#3848ff" opacity="0.6"/><circle cx="417.58" cy="148.77" r="1.69" fill="#3848ff" opacity="0.6"/><circle cx="446.92" cy="95.26" r="2.98" fill="#0000a8" opacity="0.6"/><circle cx="409.2" cy="96.92" r="1.4" fill="#0000a8" opacity="0.6"/><circle cx="414.86" cy="97.83" r="1.55" fill="#3848ff" opacity="0.6"/><circle cx="449.98" cy="77.11" r="2.31" fill="#0000a8" opacity="0.6"/><circle cx="421.2" cy="113.53" r="1.99" fill="#3848ff" opacity="0.6"/><circle cx="445.68" cy="152.17" r="2.33" fill="#3848ff" opacity="0.6"/><circle cx="453.11" cy="84.08" r="1.54" fill="#0000a8" opacity="0.6"/><circle cx="446.53" cy="120.37" r="1.42" fill="#0000a8" opacity="0.6"/><circle cx="391.55" cy="97.98" r="3.18" fill="#0000a8" opacity="0.6"/><circle cx="440.37" cy="71.74" r="2.9" fill="#3848ff" opacity="0.6"/><circle cx="379.7" cy="141.62" r="3.06" fill="#3848ff" opacity="0.6"/><circle cx="415.81" cy="152.63" r="1.86" fill="#3848ff" opacity="0.6"/><circle cx="442.25" cy="107.54" r="3.2" fill="#0000a8" opacity="0.6"/><circle cx="448.74" cy="133.57" r="1.59" fill="#0000a8" opacity="0.6"/><circle cx="425.94" cy="111.61" r="2.33" fill="#3848ff" opacity="0.6"/><circle cx="394.94" cy="153.67" r="1.93" fill="#3848ff" opacity="0.6"/><circle cx="458.33" cy="114.35" r="2.55" fill="#3848ff" opacity="0.6"/><circle cx="390.96" cy="96.88" r="2.87" fill="#3848ff" opacity="0.6"/><circle cx="453.11" cy="94.13" r="2.99" fill="#3848ff" opacity="0.6"/><circle cx="414.96" cy="76.94" r="1.5" fill="#0000a8" opacity="0.6"/><circle cx="408.55" cy="116.97" r="1.63" fill="#3848ff" opacity="0.6"/><circle cx="405.04" cy="152.31" r="1.36" fill="#3848ff" opacity="0.6"/><circle cx="448.4" cy="120.36" r="1.71" fill="#0000a8" opacity="0.6"/><circle cx="387.66" cy="77.73" r="1.23" fill="#3848ff" opacity="0.6"/><circle cx="448.75" cy="91.97" r="1.77" fill="#0000a8" opacity="0.6"/><circle cx="385.15" cy="66.01" r="2.53" fill="#3848ff" opacity="0.6"/><circle cx="421.77" cy="78.49" r="2.4" fill="#0000a8" opacity="0.6"/><circle cx="415.72" cy="91.09" r="2.45" fill="#0000a8" opacity="0.6"/><circle cx="383.47" cy="87.81" r="1.95" fill="#0000a8" opacity="0.6"/><circle cx="401.11" cy="128.79" r="1.71" fill="#0000a8" opacity="0.6"/><circle cx="407.47" cy="86.02" r="1.36" fill="#3848ff" opacity="0.6"/><circle cx="396.38" cy="150.78" r="2.03" fill="#3848ff" opacity="0.6"/><circle cx="456.97" cy="159" r="2.73" fill="#3848ff" opacity="0.6"/><circle cx="405.49" cy="113.79" r="1.72" fill="#3848ff" opacity="0.6"/><circle cx="396.14" cy="87.94" r="2.7" fill="#0000a8" opacity="0.6"/><circle cx="415.11" cy="110.52" r="2.43" fill="#0000a8" opacity="0.6"/><circle cx="380.69" cy="146.93" r="2.13" fill="#3848ff" opacity="0.6"/><circle cx="456.88" cy="138.44" r="1.9" fill="#3848ff" opacity="0.6"/><circle cx="414.43" cy="107.39" r="1.95" fill="#3848ff" opacity="0.6"/><circle cx="425.79" cy="89.27" r="2.72" fill="#0000a8" opacity="0.6"/><circle cx="402.67" cy="145.24" r="2.1" fill="#3848ff" opacity="0.6"/><circle cx="401.62" cy="69.47" r="2.06" fill="#0000a8" opacity="0.6"/><circle cx="455.4" cy="128.18" r="1.51" fill="#3848ff" opacity="0.6"/><circle cx="395.38" cy="100.83" r="2.48" fill="#3848ff" opacity="0.6"/><circle cx="418.68" cy="106.01" r="2.52" fill="#0000a8" opacity="0.6"/><circle cx="411.14" cy="123.36" r="1.74" fill="#3848ff" opacity="0.6"/><circle cx="430.54" cy="69.44" r="2.23" fill="#0000a8" opacity="0.6"/><circle cx="393.78" cy="88.68" r="2.85" fill="#3848ff" opacity="0.6"/><circle cx="394.5" cy="92.2" r="2.24" fill="#3848ff" opacity="0.6"/><circle cx="407.42" cy="95.92" r="1.63" fill="#0000a8" opacity="0.6"/><circle cx="427.68" cy="73.04" r="2.38" fill="#3848ff" opacity="0.6"/><circle cx="458.51" cy="156.2" r="1.46" fill="#0000a8" opacity="0.6"/><circle cx="406.94" cy="75.21" r="2.95" fill="#0000a8" opacity="0.6"/><circle cx="442.89" cy="126.68" r="3.16" fill="#0000a8" opacity="0.6"/><circle cx="433.87" cy="128.25" r="2.92" fill="#0000a8" opacity="0.6"/><circle cx="403.61" cy="84.67" r="2.29" fill="#0000a8" opacity="0.6"/><circle cx="407.59" cy="148.63" r="2.9" fill="#0000a8" opacity="0.6"/><circle cx="422.42" cy="132.43" r="1.59" fill="#0000a8" opacity="0.6"/><circle cx="389.19" cy="152.82" r="2.45" fill="#3848ff" opacity="0.6"/><circle cx="394.34" cy="123.07" r="2.13" fill="#0000a8" opacity="0.6"/><circle cx="386.8" cy="150.06" r="2.06" fill="#3848ff" opacity="0.6"/><circle cx="438.96" cy="123.71" r="2.09" fill="#3848ff" opacity="0.6"/><circle cx="416.76" cy="67.38" r="1.71" fill="#0000a8" opacity="0.6"/><circle cx="388.61" cy="72.74" r="2.9" fill="#3848ff" opacity="0.6"/><circle cx="421.98" cy="121.86" r="2.64" fill="#3848ff" opacity="0.6"/><circle cx="441.53" cy="64.37" r="2.89" fill="#3848ff" opacity="0.6"/><circle cx="429.75" cy="94.06" r="2.7" fill="#3848ff" opacity="0.6"/><circle cx="427.87" cy="95.73" r="2.86" fill="#0000a8" opacity="0.6"/><circle cx="395.21" cy="138.41" r="3.08" fill="#3848ff" opacity="0.6"/><circle cx="394.34" cy="155.52" r="3.13" fill="#3848ff" opacity="0.6"/><circle cx="441.98" cy="155.42" r="1.73" fill="#0000a8" opacity="0.6"/><circle cx="403.04" cy="141.43" r="2.22" fill="#3848ff" opacity="0.6"/><circle cx="388.99" cy="128.23" r="2.6" fill="#3848ff" opacity="0.6"/><circle cx="382.49" cy="73.18" r="1.72" fill="#0000a8" opacity="0.6"/><circle cx="439.39" cy="152.09" r="2.7" fill="#3848ff" opacity="0.6"/><circle cx="410.25" cy="157.37" r="2.9" fill="#0000a8" opacity="0.6"/><circle cx="445.59" cy="133.96" r="2.73" fill="#0000a8" opacity="0.6"/><circle cx="413.78" cy="67.58" r="1.82" fill="#3848ff" opacity="0.6"/><circle cx="401.03" cy="122.1" r="1.75" fill="#3848ff" opacity="0.6"/><circle cx="386.54" cy="99.4" r="2.23" fill="#0000a8" opacity="0.6"/><circle cx="455.61" cy="71.21" r="1.71" fill="#3848ff" opacity="0.6"/><circle cx="454.57" cy="126.22" r="2.51" fill="#0000a8" opacity="0.6"/><circle cx="379.04" cy="152.81" r="1.86" fill="#0000a8" opacity="0.6"/><circle cx="411.72" cy="137.36" r="1.8" fill="#3848ff" opacity="0.6"/><circle cx="399.17" cy="135.31" r="2.11" fill="#3848ff" opacity="0.6"/><circle cx="407.76" cy="119.95" r="1.94" fill="#0000a8" opacity="0.6"/><circle cx="447.47" cy="127.03" r="2.8" fill="#3848ff" opacity="0.6"/><circle cx="449.63" cy="156.47" r="2.26" fill="#3848ff" opacity="0.6"/><circle cx="385.83" cy="138.5" r="2.93" fill="#0000a8" opacity="0.6"/><circle cx="420.18" cy="117.23" r="1.43" fill="#0000a8" opacity="0.6"/><circle cx="460.25" cy="84.45" r="2.42" fill="#0000a8" opacity="0.6"/><circle cx="431.76" cy="98.66" r="1.68" fill="#0000a8" opacity="0.6"/><circle cx="454.35" cy="150.3" r="2" fill="#0000a8" opacity="0.6"/><circle cx="444.9" cy="101.09" r="2.71" fill="#3848ff" opacity="0.6"/><circle cx="395.16" cy="64.35" r="2.65" fill="#0000a8" opacity="0.6"/><circle cx="382.32" cy="70.39" r="1.84" fill="#3848ff" opacity="0.6"/><circle cx="438.41" cy="82.92" r="2.37" fill="#0000a8" opacity="0.6"/><circle cx="407.23" cy="148.05" r="2.07" fill="#0000a8" opacity="0.6"/><circle cx="433.07" cy="103.94" r="1.57" fill="#0000a8" opacity="0.6"/><circle cx="440.04" cy="117.75" r="2.19" fill="#0000a8" opacity="0.6"/><circle cx="402.86" cy="71.44" r="2.29" fill="#0000a8" opacity="0.6"/><circle cx="386.88" cy="160.42" r="1.95" fill="#0000a8" opacity="0.6"/><circle cx="441.48" cy="90.98" r="1.63" fill="#0000a8" opacity="0.6"/><circle cx="458.59" cy="143.18" r="2.37" fill="#0000a8" opacity="0.6"/><circle cx="442.53" cy="144.9" r="2.87" fill="#3848ff" opacity="0.6"/><circle cx="446.18" cy="157.72" r="2.35" fill="#3848ff" opacity="0.6"/><circle cx="394.18" cy="128.09" r="2.05" fill="#0000a8" opacity="0.6"/><circle cx="431.08" cy="132.83" r="1.5" fill="#0000a8" opacity="0.6"/><circle cx="436.67" cy="154.11" r="3" fill="#3848ff" opacity="0.6"/><circle cx="419.69" cy="160.21" r="1.38" fill="#3848ff" opacity="0.6"/><circle cx="393.62" cy="135.97" r="1.85" fill="#0000a8" opacity="0.6"/><circle cx="446.19" cy="143.5" r="1.28" fill="#0000a8" opacity="0.6"/><circle cx="443.82" cy="133.15" r="2.93" fill="#0000a8" opacity="0.6"/><circle cx="428.8" cy="149.15" r="2.29" fill="#3848ff" opacity="0.6"/><circle cx="402.04" cy="155.67" r="1.87" fill="#3848ff" opacity="0.6"/><circle cx="449.92" cy="131.46" r="2.78" fill="#3848ff" opacity="0.6"/><circle cx="420.18" cy="71.87" r="1.6" fill="#3848ff" opacity="0.6"/><circle cx="422.57" cy="115.87" r="1.34" fill="#0000a8" opacity="0.6"/><circle cx="387.1" cy="102.1" r="1.25" fill="#3848ff" opacity="0.6"/><circle cx="390.62" cy="156.44" r="1.92" fill="#0000a8" opacity="0.6"/><circle cx="414.84" cy="96.36" r="2.88" fill="#3848ff" opacity="0.6"/><circle cx="420.76" cy="126.94" r="3.19" fill="#0000a8" opacity="0.6"/><circle cx="383.02" cy="108.98" r="3.1" fill="#0000a8" opacity="0.6"/><circle cx="408.87" cy="76.89" r="1.74" fill="#0000a8" opacity="0.6"/><circle cx="393.52" cy="151.68" r="1.73" fill="#0000a8" opacity="0.6"/><circle cx="435.32" cy="88.05" r="2.24" fill="#0000a8" opacity="0.6"/><circle cx="400.75" cy="116.43" r="2.46" fill="#0000a8" opacity="0.6"/><circle cx="401.96" cy="81.34" r="2.21" fill="#0000a8" opacity="0.6"/><circle cx="418.5" cy="153.74" r="1.6" fill="#0000a8" opacity="0.6"/><circle cx="417.21" cy="83.72" r="2.11" fill="#3848ff" opacity="0.6"/><circle cx="409.4" cy="140.06" r="3.17" fill="#0000a8" opacity="0.6"/><circle cx="396.59" cy="100.75" r="3.1" fill="#3848ff" opacity="0.6"/><circle cx="386.12" cy="70.66" r="3.12" fill="#0000a8" opacity="0.6"/><circle cx="414.1" cy="73.95" r="2.97" fill="#0000a8" opacity="0.6"/><circle cx="434.83" cy="153.68" r="2.34" fill="#3848ff" opacity="0.6"/><circle cx="393.44" cy="94.07" r="1.5" fill="#3848ff" opacity="0.6"/><circle cx="382.69" cy="68.3" r="2.99" fill="#0000a8" opacity="0.6"/><circle cx="445.17" cy="98.79" r="2.1" fill="#0000a8" opacity="0.6"/><circle cx="442.94" cy="94.05" r="2.22" fill="#0000a8" opacity="0.6"/><circle cx="447.31" cy="98.53" r="1.21" fill="#3848ff" opacity="0.6"/><circle cx="450.79" cy="81.44" r="2.45" fill="#3848ff" opacity="0.6"/><circle cx="400.91" cy="125.51" r="1.41" fill="#3848ff" opacity="0.6"/><circle cx="426.61" cy="102.33" r="2.71" fill="#0000a8" opacity="0.6"/><circle cx="401.56" cy="138.84" r="2.71" fill="#0000a8" opacity="0.6"/><circle cx="426.97" cy="119.93" r="2.68" fill="#0000a8" opacity="0.6"/><circle cx="400.9" cy="127.99" r="2.62" fill="#3848ff" opacity="0.6"/><circle cx="451.79" cy="95.12" r="2.3" fill="#0000a8" opacity="0.6"/><circle cx="427.96" cy="82.34" r="2.54" fill="#3848ff" opacity="0.6"/><circle cx="422.25" cy="108.5" r="2.59" fill="#0000a8" opacity="0.6"/><circle cx="458.98" cy="86.81" r="3.02" fill="#3848ff" opacity="0.6"/><circle cx="419.9" cy="68.31" r="2.92" fill="#3848ff" opacity="0.6"/><circle cx="401.42" cy="94.21" r="1.67" fill="#3848ff" opacity="0.6"/><circle cx="402.29" cy="116.52" r="1.92" fill="#0000a8" opacity="0.6"/><circle cx="454.78" cy="155.6" r="1.95" fill="#0000a8" opacity="0.6"/><circle cx="438.48" cy="135.31" r="2" fill="#3848ff" opacity="0.6"/><circle cx="440.54" cy="128.6" r="1.9" fill="#0000a8" opacity="0.6"/><circle cx="384.3" cy="141.09" r="3" fill="#0000a8" opacity="0.6"/><circle cx="388.12" cy="132.03" r="2.76" fill="#3848ff" opacity="0.6"/><circle cx="428.5" cy="82.88" r="1.64" fill="#3848ff" opacity="0.6"/><circle cx="401.72" cy="147.53" r="2.37" fill="#0000a8" opacity="0.6"/><circle cx="457.85" cy="79.15" r="2.89" fill="#0000a8" opacity="0.6"/><circle cx="431.68" cy="97.01" r="1.55" fill="#3848ff" opacity="0.6"/><circle cx="409.16" cy="89.83" r="2.55" fill="#0000a8" opacity="0.6"/><circle cx="399.87" cy="81.22" r="2.2" fill="#0000a8" opacity="0.6"/><circle cx="433.01" cy="127.1" r="2.99" fill="#0000a8" opacity="0.6"/><circle cx="414.84" cy="137.37" r="2.53" fill="#3848ff" opacity="0.6"/><circle cx="392.45" cy="101.29" r="2.64" fill="#0000a8" opacity="0.6"/><circle cx="403.59" cy="117.37" r="1.35" fill="#0000a8" opacity="0.6"/><circle cx="415.39" cy="139.53" r="2.92" fill="#3848ff" opacity="0.6"/><circle cx="457.41" cy="81.13" r="3.13" fill="#0000a8" opacity="0.6"/><circle cx="396.9" cy="92.89" r="1.49" fill="#0000a8" opacity="0.6"/><circle cx="440.44" cy="158.97" r="2.81" fill="#3848ff" opacity="0.6"/><circle cx="441.85" cy="99.21" r="1.86" fill="#3848ff" opacity="0.6"/><circle cx="435.84" cy="95.31" r="2.32" fill="#0000a8" opacity="0.6"/><circle cx="443.52" cy="110.37" r="2.04" fill="#0000a8" opacity="0.6"/><circle cx="416.35" cy="135.97" r="1.41" fill="#3848ff" opacity="0.6"/><circle cx="381.96" cy="104.78" r="2.9" fill="#0000a8" opacity="0.6"/><circle cx="430.64" cy="155.96" r="2.84" fill="#3848ff" opacity="0.6"/><circle cx="396.92" cy="116.98" r="1.66" fill="#0000a8" opacity="0.6"/><circle cx="385.28" cy="102.6" r="2.64" fill="#3848ff" opacity="0.6"/><circle cx="390.98" cy="137.64" r="1.59" fill="#0000a8" opacity="0.6"/><circle cx="428.75" cy="151.39" r="2.26" fill="#3848ff" opacity="0.6"/><circle cx="399.83" cy="70" r="3.11" fill="#3848ff" opacity="0.6"/><circle cx="385.43" cy="155.66" r="2.27" fill="#0000a8" opacity="0.6"/><circle cx="453.66" cy="136.03" r="1.72" fill="#3848ff" opacity="0.6"/><circle cx="432.27" cy="130.97" r="1.65" fill="#3848ff" opacity="0.6"/><circle cx="420.28" cy="70.14" r="2.81" fill="#0000a8" opacity="0.6"/><circle cx="391.12" cy="121.09" r="2.38" fill="#3848ff" opacity="0.6"/><circle cx="413.83" cy="141.89" r="2.11" fill="#0000a8" opacity="0.6"/><circle cx="397.85" cy="162.1" r="2.54" fill="#0000a8" opacity="0.6"/><circle cx="379.73" cy="99.17" r="1.2" fill="#3848ff" opacity="0.6"/><circle cx="393.25" cy="88.26" r="1.81" fill="#3848ff" opacity="0.6"/><circle cx="401.91" cy="113.67" r="1.47" fill="#0000a8" opacity="0.6"/><circle cx="456.11" cy="134.96" r="3.11" fill="#3848ff" opacity="0.6"/><circle cx="432.64" cy="87.92" r="3.07" fill="#3848ff" opacity="0.6"/><circle cx="437.63" cy="140.34" r="1.47" fill="#3848ff" opacity="0.6"/><circle cx="444.83" cy="144.54" r="2.07" fill="#3848ff" opacity="0.6"/><circle cx="380.81" cy="142.78" r="2.59" fill="#3848ff" opacity="0.6"/><circle cx="434.01" cy="143.46" r="1.21" fill="#0000a8" opacity="0.6"/><circle cx="458.47" cy="149.46" r="2.97" fill="#3848ff" opacity="0.6"/></g>
<g fill="#1ae6e8"><path d="M379.96,98.36C381.11,96.43 383.55,97.52 386.06,97.07C388.56,96.63 389.27,96.11 392.48,96.11C395.69,96.11 398.59,96.88 402.12,97.07C405.65,97.27 406.94,96.82 410.15,97.07C413.36,97.33 414.97,98.23 418.18,98.36C421.39,98.49 423.32,97.33 426.21,97.72C429.1,98.1 430.06,99.45 432.63,100.29C435.2,101.12 436.48,101.44 439.05,101.89C441.62,102.34 443.23,102.47 445.48,102.53C447.73,102.6 448.05,101.7 450.3,102.21C452.54,102.73 455.24,103.31 456.72,105.1C458.2,106.9 457.43,109.02 457.68,111.21C457.94,113.39 457.81,114.03 458,116.02C458.2,118.02 459.55,119.75 458.65,121.16C457.75,122.58 455.5,123.09 453.51,123.09C451.52,123.09 450.62,122.06 448.69,121.16C446.76,120.26 445.8,119.43 443.87,118.59C441.94,117.76 440.98,117.63 439.05,116.99C437.13,116.35 436.16,115.45 434.24,115.38C432.31,115.32 431.67,116.09 429.42,116.67C427.17,117.25 425.24,117.44 423,118.27C420.75,119.11 420.43,119.94 418.18,120.84C415.93,121.74 414,121.93 411.75,122.77C409.51,123.6 408.86,124.44 406.94,125.02C405.01,125.6 404.69,125.79 402.12,125.66C399.55,125.53 396.98,125.21 394.09,124.38C391.2,123.54 389.78,123.22 387.67,121.48C385.55,119.75 384.97,118.66 383.49,115.7C382.01,112.75 380.98,110.18 380.28,106.71C379.57,103.24 378.8,100.29 379.96,98.36Z" fill="#1ae6e8"/><circle cx="380.13" cy="97.74" r="1.95"/><circle cx="382.25" cy="97.78" r="1.06"/><circle cx="383.51" cy="97.35" r="2.11"/><circle cx="386.01" cy="97.66" r="1.22"/><circle cx="387.81" cy="96.33" r="1.34"/><circle cx="390.81" cy="96.22" r="1.38"/><circle cx="392.77" cy="96.03" r="2.05"/><circle cx="395.2" cy="96.88" r="1.51"/><circle cx="397.13" cy="96.52" r="2.19"/><circle cx="400.42" cy="96.94" r="1.59"/><circle cx="401.43" cy="97.65" r="1.73"/><circle cx="403.98" cy="96.54" r="1.56"/><circle cx="406.47" cy="96.7" r="1.32"/><circle cx="408.16" cy="97.07" r="1.01"/><circle cx="409.45" cy="96.87" r="1.85"/><circle cx="411.97" cy="96.62" r="1.29"/><circle cx="413.67" cy="98.14" r="1.27"/><circle cx="416.94" cy="97.7" r="1.22"/><circle cx="417.41" cy="98.35" r="1.62"/><circle cx="420.63" cy="98.47" r="1.65"/><circle cx="421.48" cy="98.72" r="1.3"/><circle cx="423.77" cy="97.36" r="1.71"/><circle cx="426.45" cy="97.42" r="1.31"/><circle cx="427.57" cy="98.72" r="1.85"/><circle cx="429.88" cy="99.02" r="1.9"/><circle cx="432.97" cy="99.71" r="2.19"/><circle cx="435.12" cy="101.17" r="1.39"/><circle cx="437.66" cy="101.26" r="1.76"/><circle cx="439.83" cy="102.43" r="1.21"/><circle cx="440.6" cy="101.64" r="1.14"/><circle cx="443.95" cy="102.39" r="1.57"/><circle cx="445.27" cy="102.53" r="1.52"/><circle cx="448.25" cy="102.24" r="2.04"/><circle cx="450.85" cy="102.8" r="1.9"/><circle cx="451.91" cy="103.05" r="2.01"/><circle cx="454.35" cy="104.26" r="1.25"/><circle cx="457.24" cy="104.84" r="1.43"/><circle cx="457.55" cy="106.48" r="1.01"/><circle cx="457.24" cy="109.08" r="1.14"/><circle cx="457.51" cy="111.64" r="2.06"/><circle cx="458.52" cy="114.09" r="1.09"/><circle cx="457.79" cy="115.94" r="1.03"/><circle cx="458.77" cy="118.24" r="1.94"/><circle cx="458.93" cy="120.79" r="1.41"/><circle cx="456" cy="121.64" r="1.01"/><circle cx="453.38" cy="122.66" r="1.31"/><circle cx="451.56" cy="122.52" r="1.49"/><circle cx="447.93" cy="121.59" r="1.32"/><circle cx="445.64" cy="120.28" r="2.09"/><circle cx="443.48" cy="118.67" r="2.07"/><circle cx="441.49" cy="117.55" r="1.19"/><circle cx="438.3" cy="117.61" r="1.97"/><circle cx="436.14" cy="116.42" r="1.23"/><circle cx="434.63" cy="115.18" r="1.84"/><circle cx="431.88" cy="115.36" r="1.68"/><circle cx="429.67" cy="115.94" r="1.04"/><circle cx="426.91" cy="117.56" r="2.17"/><circle cx="425.05" cy="118.31" r="1.85"/><circle cx="422.63" cy="118.19" r="2.01"/><circle cx="420.56" cy="119.57" r="1.87"/><circle cx="417.61" cy="120.78" r="1.62"/><circle cx="416.14" cy="121.79" r="1.33"/><circle cx="413.85" cy="122.06" r="1.12"/><circle cx="412.21" cy="123.5" r="1.67"/><circle cx="409.2" cy="123.68" r="1.54"/><circle cx="406.73" cy="124.65" r="2.14"/><circle cx="404.31" cy="124.88" r="1.79"/><circle cx="401.33" cy="125.43" r="1.67"/><circle cx="400.62" cy="125.02" r="1.06"/><circle cx="398.85" cy="124.24" r="1.5"/><circle cx="396.11" cy="125.48" r="1.43"/><circle cx="393.68" cy="124.03" r="1.45"/><circle cx="391.38" cy="124.05" r="1.62"/><circle cx="390.18" cy="122.09" r="1.8"/><circle cx="388.32" cy="121.05" r="2.15"/><circle cx="385.93" cy="119.91" r="2.13"/><circle cx="384.82" cy="118.32" r="1.47"/><circle cx="383.39" cy="116.38" r="1.72"/><circle cx="381.97" cy="112.89" r="1.64"/><circle cx="381.63" cy="110.5" r="1.98"/><circle cx="380.8" cy="109.6" r="1.44"/><circle cx="379.77" cy="106.59" r="1.99"/><circle cx="380.84" cy="104.72" r="1.3"/><circle cx="380.16" cy="102.15" r="1.43"/><circle cx="379.25" cy="99.68" r="2.12"/></g>
<clipPath id="cB"><path d="M379.96,98.36C381.11,96.43 383.55,97.52 386.06,97.07C388.56,96.63 389.27,96.11 392.48,96.11C395.69,96.11 398.59,96.88 402.12,97.07C405.65,97.27 406.94,96.82 410.15,97.07C413.36,97.33 414.97,98.23 418.18,98.36C421.39,98.49 423.32,97.33 426.21,97.72C429.1,98.1 430.06,99.45 432.63,100.29C435.2,101.12 436.48,101.44 439.05,101.89C441.62,102.34 443.23,102.47 445.48,102.53C447.73,102.6 448.05,101.7 450.3,102.21C452.54,102.73 455.24,103.31 456.72,105.1C458.2,106.9 457.43,109.02 457.68,111.21C457.94,113.39 457.81,114.03 458,116.02C458.2,118.02 459.55,119.75 458.65,121.16C457.75,122.58 455.5,123.09 453.51,123.09C451.52,123.09 450.62,122.06 448.69,121.16C446.76,120.26 445.8,119.43 443.87,118.59C441.94,117.76 440.98,117.63 439.05,116.99C437.13,116.35 436.16,115.45 434.24,115.38C432.31,115.32 431.67,116.09 429.42,116.67C427.17,117.25 425.24,117.44 423,118.27C420.75,119.11 420.43,119.94 418.18,120.84C415.93,121.74 414,121.93 411.75,122.77C409.51,123.6 408.86,124.44 406.94,125.02C405.01,125.6 404.69,125.79 402.12,125.66C399.55,125.53 396.98,125.21 394.09,124.38C391.2,123.54 389.78,123.22 387.67,121.48C385.55,119.75 384.97,118.66 383.49,115.7C382.01,112.75 380.98,110.18 380.28,106.71C379.57,103.24 378.8,100.29 379.96,98.36Z"/></clipPath>
<g clip-path="url(#cB)"><circle cx="440.33" cy="103.31" r="2.43" fill="#5afcfc" opacity="0.6"/><circle cx="445.15" cy="114.22" r="2.64" fill="#5afcfc" opacity="0.6"/><circle cx="414.16" cy="120.22" r="1.84" fill="#5afcfc" opacity="0.6"/><circle cx="389.02" cy="123.22" r="1.76" fill="#5afcfc" opacity="0.6"/><circle cx="424.46" cy="99.94" r="2.05" fill="#00b8bc" opacity="0.6"/><circle cx="398.33" cy="108.58" r="3.06" fill="#00b8bc" opacity="0.6"/><circle cx="448.3" cy="97.19" r="3.15" fill="#00b8bc" opacity="0.6"/><circle cx="391.76" cy="125.24" r="1.45" fill="#00b8bc" opacity="0.6"/><circle cx="382.39" cy="98.42" r="2.15" fill="#00b8bc" opacity="0.6"/><circle cx="426.02" cy="120.26" r="1.42" fill="#00b8bc" opacity="0.6"/><circle cx="405.2" cy="124.32" r="2.45" fill="#00b8bc" opacity="0.6"/><circle cx="390.37" cy="123.12" r="1.78" fill="#5afcfc" opacity="0.6"/><circle cx="413.05" cy="119.22" r="1.85" fill="#5afcfc" opacity="0.6"/><circle cx="427.51" cy="103.41" r="1.44" fill="#5afcfc" opacity="0.6"/><circle cx="436.04" cy="116.15" r="1.62" fill="#00b8bc" opacity="0.6"/><circle cx="445.76" cy="116.9" r="1.57" fill="#5afcfc" opacity="0.6"/><circle cx="457.52" cy="117.08" r="1.75" fill="#00b8bc" opacity="0.6"/><circle cx="425.62" cy="114.73" r="1.92" fill="#00b8bc" opacity="0.6"/><circle cx="410.05" cy="107.47" r="1.85" fill="#00b8bc" opacity="0.6"/><circle cx="447.65" cy="104.73" r="1.35" fill="#5afcfc" opacity="0.6"/><circle cx="439.45" cy="106.63" r="1.22" fill="#00b8bc" opacity="0.6"/><circle cx="414.13" cy="98.1" r="2.69" fill="#00b8bc" opacity="0.6"/><circle cx="446.66" cy="120.78" r="2.85" fill="#00b8bc" opacity="0.6"/><circle cx="410.18" cy="120.01" r="2.19" fill="#00b8bc" opacity="0.6"/><circle cx="397.04" cy="114.59" r="1.35" fill="#00b8bc" opacity="0.6"/><circle cx="393.99" cy="112.94" r="2.88" fill="#00b8bc" opacity="0.6"/><circle cx="447.27" cy="108.68" r="1.34" fill="#00b8bc" opacity="0.6"/><circle cx="403.98" cy="121.66" r="2.02" fill="#5afcfc" opacity="0.6"/><circle cx="422.59" cy="112.23" r="2.76" fill="#00b8bc" opacity="0.6"/><circle cx="393.13" cy="111.84" r="1.39" fill="#00b8bc" opacity="0.6"/><circle cx="393.8" cy="106.88" r="2.38" fill="#5afcfc" opacity="0.6"/><circle cx="450.35" cy="119.53" r="1.87" fill="#5afcfc" opacity="0.6"/><circle cx="438.04" cy="111.2" r="2.47" fill="#5afcfc" opacity="0.6"/><circle cx="424.75" cy="113.61" r="3" fill="#5afcfc" opacity="0.6"/><circle cx="442.94" cy="102.44" r="1.78" fill="#5afcfc" opacity="0.6"/><circle cx="453.05" cy="98.93" r="1.78" fill="#5afcfc" opacity="0.6"/><circle cx="435.84" cy="115.66" r="1.44" fill="#5afcfc" opacity="0.6"/><circle cx="436.62" cy="100.34" r="1.44" fill="#00b8bc" opacity="0.6"/><circle cx="379.98" cy="98.46" r="1.58" fill="#00b8bc" opacity="0.6"/><circle cx="407.37" cy="108.8" r="2.28" fill="#00b8bc" opacity="0.6"/><circle cx="383.14" cy="101.83" r="2" fill="#00b8bc" opacity="0.6"/><circle cx="390.42" cy="108.97" r="2.34" fill="#5afcfc" opacity="0.6"/><circle cx="406.06" cy="97.91" r="3.02" fill="#5afcfc" opacity="0.6"/><circle cx="392.5" cy="114.23" r="1.66" fill="#00b8bc" opacity="0.6"/><circle cx="406.81" cy="125.38" r="2.34" fill="#5afcfc" opacity="0.6"/><circle cx="394.16" cy="110.32" r="2.75" fill="#00b8bc" opacity="0.6"/><circle cx="435.46" cy="111.37" r="3.07" fill="#5afcfc" opacity="0.6"/><circle cx="423" cy="124.34" r="2.78" fill="#5afcfc" opacity="0.6"/><circle cx="442.54" cy="118.89" r="1.79" fill="#5afcfc" opacity="0.6"/><circle cx="439.54" cy="107.16" r="1.9" fill="#00b8bc" opacity="0.6"/><circle cx="385.95" cy="103.84" r="3.17" fill="#5afcfc" opacity="0.6"/><circle cx="443.44" cy="96.28" r="1.81" fill="#00b8bc" opacity="0.6"/><circle cx="404.58" cy="123.99" r="3.12" fill="#5afcfc" opacity="0.6"/><circle cx="390.76" cy="123.31" r="2.79" fill="#00b8bc" opacity="0.6"/><circle cx="384.57" cy="96.4" r="2.58" fill="#00b8bc" opacity="0.6"/><circle cx="416.63" cy="105.96" r="1.75" fill="#5afcfc" opacity="0.6"/><circle cx="412.87" cy="114.2" r="2.03" fill="#5afcfc" opacity="0.6"/><circle cx="397.66" cy="115.63" r="3.07" fill="#5afcfc" opacity="0.6"/><circle cx="440.71" cy="115.21" r="1.66" fill="#5afcfc" opacity="0.6"/><circle cx="445.76" cy="100.5" r="1.44" fill="#5afcfc" opacity="0.6"/><circle cx="444.04" cy="107.3" r="1.2" fill="#5afcfc" opacity="0.6"/><circle cx="420.79" cy="110.14" r="1.49" fill="#00b8bc" opacity="0.6"/><circle cx="434.74" cy="104.2" r="1.84" fill="#5afcfc" opacity="0.6"/><circle cx="381.65" cy="114.13" r="1.75" fill="#00b8bc" opacity="0.6"/><circle cx="445.89" cy="105.58" r="1.77" fill="#5afcfc" opacity="0.6"/><circle cx="417.39" cy="97.5" r="1.98" fill="#5afcfc" opacity="0.6"/><circle cx="388.7" cy="120.75" r="2.59" fill="#5afcfc" opacity="0.6"/><circle cx="385.73" cy="117.61" r="1.96" fill="#00b8bc" opacity="0.6"/><circle cx="430.86" cy="103.2" r="2.7" fill="#00b8bc" opacity="0.6"/><circle cx="407.84" cy="119.61" r="1.86" fill="#5afcfc" opacity="0.6"/><circle cx="383.37" cy="114.23" r="1.75" fill="#5afcfc" opacity="0.6"/><circle cx="383.71" cy="118.96" r="1.76" fill="#00b8bc" opacity="0.6"/><circle cx="450.25" cy="120.29" r="1.65" fill="#00b8bc" opacity="0.6"/><circle cx="428.98" cy="121.13" r="3.02" fill="#5afcfc" opacity="0.6"/><circle cx="409.48" cy="122.61" r="1.78" fill="#5afcfc" opacity="0.6"/><circle cx="382.95" cy="112.55" r="1.81" fill="#00b8bc" opacity="0.6"/><circle cx="380.78" cy="107.87" r="2.62" fill="#00b8bc" opacity="0.6"/><circle cx="445.52" cy="115.32" r="2.94" fill="#00b8bc" opacity="0.6"/><circle cx="447.8" cy="113.92" r="2" fill="#00b8bc" opacity="0.6"/><circle cx="397.28" cy="103.64" r="2.24" fill="#5afcfc" opacity="0.6"/><circle cx="410.49" cy="98.63" r="3.16" fill="#5afcfc" opacity="0.6"/><circle cx="417.73" cy="106.41" r="2.31" fill="#00b8bc" opacity="0.6"/><circle cx="453.78" cy="113.94" r="3.08" fill="#5afcfc" opacity="0.6"/><circle cx="417.18" cy="106.1" r="3.13" fill="#5afcfc" opacity="0.6"/><circle cx="397.66" cy="118.8" r="1.68" fill="#5afcfc" opacity="0.6"/><circle cx="408.96" cy="109.83" r="2.11" fill="#5afcfc" opacity="0.6"/><circle cx="407.32" cy="104.6" r="1.55" fill="#00b8bc" opacity="0.6"/><circle cx="397.89" cy="101.78" r="3.06" fill="#00b8bc" opacity="0.6"/><circle cx="409.84" cy="111.76" r="1.39" fill="#5afcfc" opacity="0.6"/><circle cx="420.34" cy="124.04" r="1.36" fill="#5afcfc" opacity="0.6"/><circle cx="442.38" cy="96.42" r="2.37" fill="#5afcfc" opacity="0.6"/><circle cx="439.3" cy="120.43" r="2.97" fill="#00b8bc" opacity="0.6"/><circle cx="386.82" cy="115.53" r="2.32" fill="#5afcfc" opacity="0.6"/><circle cx="395.77" cy="110.07" r="2.04" fill="#5afcfc" opacity="0.6"/><circle cx="454.96" cy="102.92" r="2.91" fill="#5afcfc" opacity="0.6"/><circle cx="434.25" cy="109.21" r="1.99" fill="#5afcfc" opacity="0.6"/><circle cx="390.43" cy="102.62" r="2.02" fill="#5afcfc" opacity="0.6"/><circle cx="446.47" cy="116.53" r="2.46" fill="#00b8bc" opacity="0.6"/><circle cx="392.75" cy="96.42" r="1.36" fill="#00b8bc" opacity="0.6"/><circle cx="418.32" cy="124.88" r="1.85" fill="#5afcfc" opacity="0.6"/><circle cx="431.01" cy="121.14" r="2.06" fill="#5afcfc" opacity="0.6"/><circle cx="407.94" cy="103.15" r="3.01" fill="#00b8bc" opacity="0.6"/><circle cx="414.3" cy="100.22" r="2.94" fill="#5afcfc" opacity="0.6"/><circle cx="438.75" cy="108.43" r="1.36" fill="#00b8bc" opacity="0.6"/><circle cx="388.29" cy="123.81" r="1.54" fill="#5afcfc" opacity="0.6"/><circle cx="380.23" cy="102.6" r="2.5" fill="#5afcfc" opacity="0.6"/><circle cx="388.9" cy="97.9" r="1.23" fill="#00b8bc" opacity="0.6"/><circle cx="397.7" cy="118.35" r="2.56" fill="#00b8bc" opacity="0.6"/><circle cx="452.99" cy="124.77" r="1.82" fill="#00b8bc" opacity="0.6"/><circle cx="434.56" cy="101.64" r="2.77" fill="#5afcfc" opacity="0.6"/><circle cx="432.93" cy="122.87" r="2.5" fill="#00b8bc" opacity="0.6"/><circle cx="431.81" cy="108.25" r="1.42" fill="#5afcfc" opacity="0.6"/><circle cx="404.45" cy="120.12" r="2.96" fill="#00b8bc" opacity="0.6"/><circle cx="406.15" cy="122.52" r="3.01" fill="#5afcfc" opacity="0.6"/><circle cx="423.02" cy="98.93" r="1.36" fill="#5afcfc" opacity="0.6"/><circle cx="435.47" cy="101.4" r="1.84" fill="#5afcfc" opacity="0.6"/><circle cx="422.81" cy="99.76" r="1.55" fill="#5afcfc" opacity="0.6"/><circle cx="405.26" cy="125.3" r="1.57" fill="#00b8bc" opacity="0.6"/><circle cx="430.97" cy="121.52" r="2.81" fill="#5afcfc" opacity="0.6"/><circle cx="405.9" cy="120.74" r="2.49" fill="#00b8bc" opacity="0.6"/></g>
<path d="M402.11,101.57C402.06,102.62 403.32,102.86 402.65,103.5C401.98,104.14 401.23,103.81 399.59,103.97C397.96,104.13 397.79,104.51 396.52,104.12C395.25,103.72 395.15,103.38 394.82,102.49C394.49,101.59 394.74,101.6 395.27,100.76C395.79,99.91 395.67,99.61 396.79,99.32C397.91,99.02 397.86,99.58 399.46,99.64C401.06,99.71 402.1,99.05 402.8,99.56C403.51,100.07 402.15,100.52 402.11,101.57Z" fill="#0a14e6"/>
<path d="M432.01,100.77C431.93,101.64 431.66,101.69 430.72,102.32C429.78,102.95 429.77,102.98 428.47,103.15C427.17,103.31 426.87,103.38 425.84,102.95C424.8,102.51 424.84,102.27 424.59,101.51C424.35,100.75 424.57,100.86 424.92,100.1C425.27,99.34 424.94,99.23 425.91,98.68C426.89,98.12 427.21,97.92 428.57,98.02C429.94,98.12 430.1,98.32 431.02,99.06C431.93,99.79 432.09,99.9 432.01,100.77Z" fill="#0a14e6"/>
<path d="M428.16,119.24C428.04,120.03 427.05,120 425.86,120.61C424.67,121.22 425,121.37 423.7,121.53C422.4,121.69 422.35,121.59 420.99,121.22C419.64,120.85 419.45,120.95 418.63,120.14C417.81,119.33 417.4,119.05 417.92,118.18C418.45,117.31 419.04,117.3 420.61,116.88C422.18,116.45 422.29,116.39 423.81,116.6C425.33,116.8 425.15,116.94 426.31,117.64C427.47,118.35 428.28,118.45 428.16,119.24Z" fill="#0a14e6"/>
<path d="M413.38,123.25C413.47,123.79 413.39,123.72 412.75,124.34C412.11,124.97 412.29,125.36 410.98,125.61C409.66,125.85 409.09,125.7 407.83,125.26C406.57,124.82 406.69,124.69 406.25,123.96C405.81,123.23 405.59,123.1 406.19,122.53C406.78,121.96 407.29,122 408.48,121.81C409.68,121.62 409.61,121.67 410.66,121.81C411.7,121.94 411.67,121.92 412.4,122.31C413.12,122.69 413.28,122.71 413.38,123.25Z" fill="#0a14e6"/>
<path d="M455.7,103.18C455.72,103.82 455.81,103.68 455.39,104.41C454.97,105.14 455.03,105.71 454.13,105.92C453.23,106.14 452.8,105.76 452.01,105.2C451.22,104.64 451.35,104.54 451.17,103.84C450.99,103.14 451.02,103.14 451.35,102.57C451.68,102 451.73,101.98 452.41,101.7C453.09,101.42 453.11,101.42 453.89,101.5C454.66,101.58 454.83,101.55 455.32,102C455.8,102.44 455.68,102.53 455.7,103.18Z" fill="#0a14e6"/>
<path d="M392.09,75.88C391.86,76.81 391.71,76.76 390.72,77.42C389.73,78.07 389.89,78.04 388.39,78.34C386.89,78.64 386.28,78.98 385.11,78.54C383.93,78.1 384.28,77.61 383.98,76.68C383.67,75.76 383.71,76.04 383.96,75.07C384.22,74.1 383.74,73.49 384.93,73.03C386.11,72.57 386.63,73.11 388.41,73.34C390.19,73.57 390.61,73.22 391.59,73.9C392.57,74.57 392.32,74.94 392.09,75.88Z" fill="#e6aed6"/>
<path d="M424.94,83.59C425.29,85.16 425.82,86.03 424.65,86.99C423.47,87.94 422.52,87.09 420.54,87.17C418.56,87.24 419.14,87.71 417.22,87.28C415.31,86.84 413.98,86.91 413.36,85.53C412.74,84.15 414.02,83.82 414.91,82.11C415.8,80.4 415.17,79.82 416.7,79.13C418.22,78.44 418.87,79 420.64,79.53C422.41,80.05 422.19,80.01 423.34,81.1C424.49,82.18 424.59,82.01 424.94,83.59Z" fill="#e6aed6"/>
<path d="M395.76,95.95C395.8,97.33 395.82,97.74 394.33,98.58C392.84,99.42 392.43,98.83 390.17,99.11C387.91,99.38 387.72,100.09 385.85,99.62C383.99,99.14 383.84,98.66 383.18,97.32C382.52,95.99 382.77,96.08 383.38,94.62C383.99,93.17 383.52,92.82 385.46,91.87C387.41,90.91 388.34,90.63 390.67,91.04C393,91.45 392.84,92.08 394.2,93.39C395.56,94.7 395.73,94.57 395.76,95.95Z" fill="#e6aed6"/>
<path d="M442.66,106.39C442.61,107.92 443.56,108.06 442.48,109.2C441.39,110.34 440.7,110.53 438.58,110.68C436.47,110.82 436.37,110.52 434.54,109.75C432.71,108.98 432.26,109 431.71,107.78C431.15,106.56 431.77,106.54 432.45,105.18C433.12,103.81 432.62,103.4 434.23,102.68C435.84,101.95 436.24,102.23 438.49,102.44C440.74,102.66 441.56,102.42 442.67,103.47C443.78,104.52 442.72,104.86 442.66,106.39Z" fill="#e6aed6"/>
<path d="M407.23,120.04C406.55,121.66 406.27,120.97 404.72,122.47C403.17,123.96 403.92,125.14 401.42,125.65C398.93,126.16 398.22,125.38 395.35,124.39C392.49,123.4 391.87,123.59 390.68,121.94C389.49,120.28 389.75,119.96 390.9,118.19C392.04,116.42 392.26,115.98 394.97,115.3C397.68,114.62 397.78,115.34 401.06,115.63C404.34,115.91 405.63,115.2 407.27,116.38C408.92,117.55 407.91,118.42 407.23,120.04Z" fill="#e6aed6"/>
<path d="M454.69,125.66C454.32,127.46 454.14,127.56 452.58,128.61C451.01,129.67 450.75,129.52 448.82,129.62C446.88,129.72 446.97,129.66 445.32,128.99C443.68,128.31 443.45,128.37 442.66,127.09C441.88,125.8 441.78,125.56 442.39,124.16C443,122.76 443.17,122.78 444.95,121.84C446.73,120.9 446.67,120.63 449.07,120.63C451.47,120.63 452.44,120.51 453.94,121.85C455.44,123.19 455.05,123.86 454.69,125.66Z" fill="#e6aed6"/>
<path d="M425.42,143.33C425.5,145.28 425.62,146.04 424.31,147.12C423,148.21 422.51,147.01 420.5,147.39C418.49,147.76 418.37,149.09 416.79,148.52C415.2,147.94 415.32,147.18 414.56,145.22C413.81,143.27 413.22,142.87 413.94,141.2C414.66,139.53 415.43,139.92 417.26,138.95C419.09,137.98 419,137.34 420.8,137.56C422.59,137.79 422.76,138.26 423.99,139.8C425.22,141.33 425.33,141.37 425.42,143.33Z" fill="#e6aed6"/>
<rect x="432.6" y="109.6" width="29.7" height="33.4" fill="none" stroke="#f5c020" stroke-width="1.6" stroke-dasharray="1.4,1.4"/>
<clipPath id="insA"><rect x="141" y="168.4" width="159.8" height="157.4"/></clipPath>
<g clip-path="url(#insA)">
<path d="M142.39,175.18C143.99,175.54 148.78,176.62 151.97,177.34C155.16,178.06 158.75,179.29 161.55,179.49C164.34,179.69 166.73,179.45 168.73,178.53C170.72,177.62 172.32,175.3 173.52,173.99C174.71,172.67 175.51,171.19 175.91,170.63" fill="none" stroke="#acf0f0" stroke-width="1.9" stroke-linecap="round"/>
<path d="M142.39,173.75C144.19,173.89 149.58,174.3 153.17,174.58C156.76,174.86 161.15,175.72 163.94,175.42C166.73,175.12 168.93,173.23 169.93,172.79" fill="none" stroke="#c8f4f4" stroke-width="1.4" stroke-linecap="round"/>
<path d="M193.87,188.35C195.14,185.48 199.85,183.8 202.25,182.36C204.64,180.93 209.19,179.01 211.82,177.58C214.46,176.14 219.44,172.55 222,171.59C224.55,170.63 229.14,170.23 230.97,170.39C232.81,170.55 234.8,171.19 235.76,172.79C236.72,174.38 238.79,180.29 238.16,182.36C237.52,184.44 232.89,186.91 230.97,188.35C229.06,189.79 225.71,192.02 223.79,193.14C221.88,194.25 218.21,195.29 216.61,196.73C215.01,198.17 211.1,203.11 211.82,203.91C212.54,204.71 218.49,203.51 222,202.71C225.51,201.92 234.73,198.72 238.16,197.93C241.59,197.13 245.18,195.93 247.73,196.73C250.29,197.53 255.71,201.04 257.31,203.91C258.91,206.78 259.38,212.13 259.7,218.28C260.02,224.42 268.96,245.77 259.7,250C250.45,254.23 199.37,253.75 190.28,250C181.18,246.25 191.15,228.01 191.47,221.87C191.79,215.72 192.35,208.38 192.67,203.91C192.99,199.44 192.59,191.22 193.87,188.35Z" fill="#acf0f0"/>
<path d="M208.23,191.94C208.71,190.03 214.77,190.18 216.61,189.55C218.45,188.91 221.28,185.24 222,187.15C222.71,189.07 223.19,201.68 222,203.91C220.8,206.15 214.85,205.51 213.02,203.91C211.18,202.31 207.75,193.86 208.23,191.94Z" fill="#ffffff" opacity="0.85"/>
<path d="M168.13,170.99C168.77,169.36 177.11,168.8 179.5,170.15C181.9,171.51 184.73,177.78 186.09,181.17C187.44,184.55 188.72,192.02 189.68,195.53C190.63,199.04 192.63,203.99 193.27,207.5C193.91,211.01 194.54,218.2 194.46,221.87C194.39,225.54 193.63,233.28 192.67,235.03C191.71,236.79 188.08,236.79 187.28,235.03C186.48,233.28 187.24,225.54 186.68,221.87C186.13,218.2 184.05,211.17 183.09,207.5C182.14,203.83 180.62,197.69 179.5,194.33C178.38,190.98 176.23,185.48 174.71,182.36C173.2,179.25 167.49,172.62 168.13,170.99Z" fill="#9cdcde"/>
<ellipse cx="280.6" cy="180.4" rx="16.5" ry="11" fill="#acf0f0"/>
<path d="M268,174 Q280,169 292,175 Q284,180 276,186Z" fill="#c4eeee" opacity="0.8"/>
<path d="M220,168C220.96,166.56 226.38,166.72 227.18,168C227.98,169.28 226.94,176.14 225.99,177.58C225.03,179.01 220.8,180.05 220,178.77C219.2,177.5 219.04,169.44 220,168Z" fill="#acf0f0"/>
<path d="M255.91,191.94C257.83,190.26 266.13,191.34 270.28,191.34C274.43,191.34 283.52,191.54 287.03,191.94C290.55,192.34 295.01,192.74 296.61,194.33C298.21,195.93 298.68,201.04 299,203.91C299.32,206.78 300.6,213.97 299,215.88C297.41,217.8 290.86,218.12 287.03,218.28C283.2,218.43 274.11,217.72 270.28,217.08C266.44,216.44 260.22,215.24 258.31,213.49C256.39,211.73 256.23,206.78 255.91,203.91C255.59,201.04 254,193.62 255.91,191.94Z" fill="#ffffff"/>
<path d="M220,235.03C223.19,232.48 237.56,232.64 243.94,232.64C250.32,232.64 261.18,234.71 267.88,235.03C274.58,235.35 289.67,234.4 294.22,235.03C298.76,235.67 300.96,237.59 302,239.82C303.03,242.06 312.93,250.2 302,251.79C291.06,253.39 230.93,254.03 220,251.79C209.07,249.56 216.81,237.59 220,235.03Z" fill="#acf0f0"/>
<path d="M255.91,246C261.74,244.72 295.85,242.01 302,246C308.14,249.99 303.03,271.3 302,275.93C300.96,280.55 296.85,280.24 294.22,280.71C291.58,281.19 285.12,280.31 282.25,279.52C279.37,278.72 274.9,276.48 272.67,274.73C270.43,272.97 267.4,268.9 265.49,266.35C263.57,263.8 259.58,258.29 258.31,255.58C257.03,252.86 250.09,247.28 255.91,246Z" fill="#acf0f0"/>
<ellipse cx="285.84" cy="268.74" rx="5.5" ry="7" fill="#ffffff" opacity="0.9"/>
<path d="M141.5,252C142.92,252.33 147.05,253.37 150,254C152.95,254.63 156.07,255.02 159.2,255.8C162.33,256.58 165.27,258.38 168.8,258.7C172.33,259.02 176.87,258.48 180.4,257.7C183.93,256.92 187.12,255.28 190,254C192.88,252.72 196.42,250.67 197.7,250" fill="none" stroke="#acf0f0" stroke-width="2.2" stroke-linecap="round"/>
<path d="M141.5,244.5C143.25,245 148.58,246.75 152,247.5C155.42,248.25 158.67,249.08 162,249C165.33,248.92 170.33,247.33 172,247" fill="none" stroke="#acf0f0" stroke-width="1.6" stroke-linecap="round"/>
<path d="M140,269.46C141.44,263.51 151.49,268.74 154.36,268.5C157.24,268.26 166.21,267.52 168.73,267.07C171.24,266.61 177.71,264.27 179.5,263.96C181.3,263.64 186.09,262.16 186.68,263.96C187.28,265.75 186.09,278.68 185.49,281.91C184.89,285.14 181.3,293.16 180.7,296.28C180.1,299.39 179.98,309.86 179.5,313.03C179.02,316.21 179.86,326.5 175.91,328C171.96,329.49 143.59,333.85 140,328C136.41,322.14 138.56,275.41 140,269.46Z" fill="#a0a0f0"/>
<path d="M140,292.68C141.92,290.05 150.37,290.73 154.36,290.89C158.35,291.05 167.37,292.84 169.93,293.88C172.48,294.92 174.16,296.75 173.52,298.67C172.88,300.58 168.01,306.57 165.14,308.25C162.26,309.92 155.32,310.92 151.97,311.24C148.62,311.56 141.6,313.11 140,310.64C138.4,308.17 138.08,295.32 140,292.68Z" fill="#ffffff"/>
<path d="M140,311.24C141.6,310.36 148.62,311.56 151.97,311.24C155.32,310.92 163.06,308.6 165.14,308.84C167.21,309.08 168.49,311.84 167.53,313.03C166.57,314.23 161.63,317.18 157.96,317.82C154.28,318.46 142.39,318.7 140,317.82C137.61,316.94 138.4,312.12 140,311.24Z" fill="#b4b4f4"/>
<ellipse cx="159.15" cy="230.84" rx="9.5" ry="3.6" fill="none" stroke="#a0a0f0" stroke-width="2.2"/>
<path d="M141.5,238C143.25,237.92 148.58,237.25 152,237.5C155.42,237.75 159,238.58 162,239.5C165,240.42 168.67,242.42 170,243" fill="none" stroke="#acf0f0" stroke-width="2.0" stroke-linecap="round"/>
<path d="M171.12,239.82C172.24,238.31 177.27,238.31 179.5,238.62C181.74,238.94 186.76,240.7 187.88,242.22C189,243.73 190.12,248.96 187.88,250C185.65,251.03 173.36,251.35 171.12,250C168.89,248.64 170.01,241.34 171.12,239.82Z" fill="#a0a0f0" opacity="0.9"/>
<path d="M230.77,278.32C232.57,276.76 241.73,278.56 242.74,280.71C243.76,282.87 241.67,296.16 240.95,299.87C240.23,303.58 236.34,315.01 235.56,317.82C234.78,320.63 234.72,326.98 233.17,328C231.61,329.01 221.32,329.49 220,328C218.68,326.5 219.52,316.21 220,313.03C220.48,309.86 223.71,299.75 224.79,296.28C225.87,292.8 228.98,279.88 230.77,278.32Z" fill="#a0a0f0"/>
<path d="M264.29,313.03C265.37,311.54 275.06,311.54 276.26,313.03C277.46,314.53 277.34,326.5 276.26,328C275.18,329.49 266.68,329.49 265.49,328C264.29,326.5 263.21,314.53 264.29,313.03Z" fill="#a0a0f0"/>
<path d="M287.03,308.25C288.71,305.67 297.33,302.98 299,302.26C300.68,301.54 303.31,298.49 303.79,301.06C304.27,303.64 305.95,325.3 303.79,328C301.64,330.69 283.92,329.97 282.25,328C280.57,326.02 285.36,310.82 287.03,308.25Z" fill="#a0a0f0"/>
<path d="M157.96,322.61C159.75,321.65 173.16,320.1 175.91,320.22C178.66,320.34 184.53,322.85 185.49,323.81C186.44,324.76 188.24,329.19 185.49,329.79C182.73,330.39 160.71,330.51 157.96,329.79C155.2,329.07 156.16,323.57 157.96,322.61Z" fill="#a0a0f0"/>
<ellipse cx="256.51" cy="293.88" rx="8.5" ry="2.4" fill="none" stroke="#a0a0f0" stroke-width="1.6"/>
</g>
<path d="M201.8,220.8 L212.8,217.2M216.2,219.6 L228.5,230.8M272,261.1 L286.9,273.5M274.5,276 L286.9,275.4" fill="none" stroke="#e6de38" stroke-width="1.6" stroke-dasharray="1.2,0.9"/>
<path d="M212.7,216.5 L217.3,206.2 L234.6,202.7 L250,203.7 L254,208.3 L250,217.5 L238.7,219 L233.6,222.6 L224.4,233.8 L232.6,239 L235.7,233.8 L242.8,227.7M250,203.7 L250,199.5M220.3,221.6 L222.4,226.7 L224.4,233.8M250,217.5 L252,225.7" fill="none" stroke="#12aab4" stroke-width="3.2" stroke-linecap="round" stroke-linejoin="round"/>
<path d="M212.7,216.5 L217.3,206.2 L234.6,202.7 L250,203.7 L254,208.3 L250,217.5 L238.7,219 L233.6,222.6 L224.4,233.8 L232.6,239 L235.7,233.8 L242.8,227.7M250,203.7 L250,199.5M220.3,221.6 L222.4,226.7 L224.4,233.8M250,217.5 L252,225.7" fill="none" stroke="#26e4ec" stroke-width="1.44" stroke-linecap="round" stroke-linejoin="round"/>
<path d="M212.7,216.5 L214.5,212.5M250,203.7 L250,199.1M238.7,219 L236,221" fill="none" stroke="#0c0cb8" stroke-width="3.2" stroke-linecap="round" stroke-linejoin="round"/>
<path d="M212.7,216.5 L214.5,212.5M250,203.7 L250,199.1M238.7,219 L236,221" fill="none" stroke="#2a36ee" stroke-width="1.44" stroke-linecap="round" stroke-linejoin="round"/>
<path d="M242.8,227.7 L246.9,225.7M251.2,222 L252,225.7M221.4,219.5 L220.3,221.6M228.5,230.8 L227,232" fill="none" stroke="#c82828" stroke-width="3" stroke-linecap="round" stroke-linejoin="round"/>
<path d="M242.8,227.7 L246.9,225.7M251.2,222 L252,225.7M221.4,219.5 L220.3,221.6M228.5,230.8 L227,232" fill="none" stroke="#f05050" stroke-width="1.35" stroke-linecap="round" stroke-linejoin="round"/>
<path d="M162.4,227.2 L163.9,232.3 L174.8,241.1 L174.8,254.2M174.8,241.1 L186.5,228 L196.7,227.2 L200.4,221.4M196.7,227.2 L201.8,236.7" fill="none" stroke="#0c0cb8" stroke-width="3.4" stroke-linecap="round" stroke-linejoin="round"/>
<path d="M162.4,227.2 L163.9,232.3 L174.8,241.1 L174.8,254.2M174.8,241.1 L186.5,228 L196.7,227.2 L200.4,221.4M196.7,227.2 L201.8,236.7" fill="none" stroke="#2a36ee" stroke-width="1.53" stroke-linecap="round" stroke-linejoin="round"/>
<path d="M162.4,227.2 L163.2,230M199,223.5 L200.4,221.4M200.5,234.5 L201.8,236.7" fill="none" stroke="#c82828" stroke-width="3.2" stroke-linecap="round" stroke-linejoin="round"/>
<path d="M162.4,227.2 L163.2,230M199,223.5 L200.4,221.4M200.5,234.5 L201.8,236.7" fill="none" stroke="#f05050" stroke-width="1.44" stroke-linecap="round" stroke-linejoin="round"/>
<path d="M237.3,276 L237.3,299.6M237.3,278.5 L246,272.3 L255.9,262.4 L267.1,264.9 L270.8,258.6M267.1,264.9 L269.6,276M237.3,278.5 L249.7,281 L260.9,286 L272,278.5 L286.9,282.2 L289.4,274.8M240,276.5 L253,266" fill="none" stroke="#0c0cb8" stroke-width="3.6" stroke-linecap="round" stroke-linejoin="round"/>
<path d="M237.3,276 L237.3,299.6M237.3,278.5 L246,272.3 L255.9,262.4 L267.1,264.9 L270.8,258.6M267.1,264.9 L269.6,276M237.3,278.5 L249.7,281 L260.9,286 L272,278.5 L286.9,282.2 L289.4,274.8M240,276.5 L253,266" fill="none" stroke="#2a36ee" stroke-width="1.62" stroke-linecap="round" stroke-linejoin="round"/>
<path d="M269.5,261 L270.8,258.6M268.2,269 L269.6,276M233.6,271 L236,274.8M237.3,291 L237.3,294" fill="none" stroke="#c82828" stroke-width="3.2" stroke-linecap="round" stroke-linejoin="round"/>
<path d="M269.5,261 L270.8,258.6M268.2,269 L269.6,276M233.6,271 L236,274.8M237.3,291 L237.3,294" fill="none" stroke="#f05050" stroke-width="1.44" stroke-linecap="round" stroke-linejoin="round"/>
<rect x="141" y="168.4" width="159.8" height="157.4" fill="none" stroke="#1e1e1e" stroke-width="1.8"/>
<rect x="223.4" y="175.8" width="32.8" height="19.2" fill="#26eef0" stroke="#1a1a1a" stroke-width="1"/>
<text x="239.8" y="189.1" font-size="10.3" text-anchor="middle" fill="#111111" font-weight="bold" >K25&#8217;</text>
<rect x="165" y="198.7" width="32.8" height="19.3" fill="#0000ee" stroke="#1a1a1a" stroke-width="1"/>
<text x="181.4" y="212.05" font-size="10.3" text-anchor="middle" fill="#ffffff" font-weight="bold" >E66</text>
<rect x="260" y="215.4" width="32.2" height="19.2" fill="#26eef0" stroke="#1a1a1a" stroke-width="1"/>
<text x="276.1" y="228.7" font-size="10.3" text-anchor="middle" fill="#111111" font-weight="bold" >E26&#8217;</text>
<rect x="216.7" y="251.2" width="32.3" height="18.8" fill="#0000ee" stroke="#1a1a1a" stroke-width="1"/>
<text x="232.85" y="264.3" font-size="10.3" text-anchor="middle" fill="#ffffff" font-weight="bold" >E26</text>
<rect x="255.1" y="294.4" width="32.5" height="19.4" fill="#0000ee" stroke="#1a1a1a" stroke-width="1"/>
<text x="271.35" y="307.8" font-size="10.3" text-anchor="middle" fill="#ffffff" font-weight="bold" >K25</text>
<clipPath id="insB"><rect x="358.6" y="170.2" width="160.4" height="156.8"/></clipPath>
<g clip-path="url(#insB)">
<path d="M364.18,172.59C365.98,172.29 370.57,171.23 374.96,170.8C379.34,170.36 387.92,170.1 390.52,169.96" fill="none" stroke="#acf0f0" stroke-width="2.0" stroke-linecap="round"/>
<path d="M358.2,196.53C358.52,193.82 359.31,189.19 360.59,186.96C361.87,184.72 365.54,181.45 367.77,179.77C370.01,178.1 374.8,175.54 377.35,174.39C379.9,173.24 384.69,171.68 386.93,171.15C389.16,170.63 393.31,169.96 394.11,170.44C394.91,170.92 394.19,173.79 392.91,174.75C391.63,175.7 386.77,176.6 384.53,177.62C382.3,178.64 378.23,180.81 376.15,182.41C374.08,184 370.57,187.55 368.97,189.59C367.37,191.63 365.14,195.69 364.18,197.73C363.22,199.77 362.59,203.63 361.79,204.91C360.99,206.19 358.68,208.42 358.2,207.31C357.72,206.19 357.88,199.24 358.2,196.53Z" fill="#acf0f0"/>
<path d="M397.7,173.79C398.66,171.87 404.24,172.27 406.08,172.59C407.91,172.91 410.51,174.27 411.46,176.18C412.42,178.1 413.34,183.92 413.26,186.96C413.18,189.99 411.66,196.21 410.87,198.93C410.07,201.64 408.39,206.03 407.28,207.31C406.16,208.58 403.44,209.62 402.49,208.5C401.53,207.38 400.57,201.8 400.09,198.93C399.61,196.05 399.22,190.31 398.9,186.96C398.58,183.6 396.74,175.7 397.7,173.79Z" fill="#bce8e8"/>
<path d="M406.08,172.59C406.48,172.43 410.51,174.27 411.46,176.18C412.42,178.1 413.34,183.92 413.26,186.96C413.18,189.99 411.5,197.33 410.87,198.93C410.23,200.52 408.63,200.52 408.47,198.93C408.31,197.33 409.67,189.83 409.67,186.96C409.67,184.08 408.95,179.29 408.47,177.38C407.99,175.46 405.68,172.75 406.08,172.59Z" fill="#a6d4d6"/>
<path d="M359,214 C390,208 430,212 470,226 L476,248 C440,252 400,250 359,248 Z" fill="#acf0f0" opacity="0.45"/>
<path d="M350,250 C355,238 363,220 373,211M375,250 C380,238 388,220 398,211M400,250 C405,238 413,220 423,211M425,250 C430,238 438,220 448,211M450,250 C455,238 463,220 473,211" fill="none" stroke="#acf0f0" stroke-width="8.5" stroke-linecap="round"/>
<path d="M373,211 C376,222 377,238 379,250M398,211 C401,222 402,238 404,250M423,211 C426,222 427,238 429,250M448,211 C451,222 452,238 454,250M473,211 C476,222 477,238 479,250" fill="none" stroke="#bdf2f2" stroke-width="5" stroke-linecap="round" opacity="0.9"/>
<path d="M431.01,214.49C433.09,209.7 442.59,215.29 446.58,216.88C450.57,218.48 457.43,223.9 460.94,226.46C464.45,229.01 471,233.96 472.91,236.03C474.83,238.11 475.31,239.78 475.31,242.02C475.31,244.25 478.82,251.36 472.91,252.79C467.01,254.23 436.6,257.9 431.01,252.79C425.43,247.68 428.94,219.28 431.01,214.49Z" fill="#acf0f0"/>
<path d="M357,245.8C364.66,242.93 406.96,245.16 414.46,245.8C421.96,246.44 416.13,249.79 413.26,250.59C410.39,251.39 397.22,251.31 392.91,251.79C388.6,252.27 382.54,252.75 380.94,254.18C379.34,255.62 382.54,260.97 380.94,262.56C379.34,264.16 372.16,265.51 368.97,266.15C365.78,266.79 358.6,270.06 357,267.35C355.4,264.64 349.34,248.68 357,245.8Z" fill="#acf0f0"/>
<path d="M359.39,305.65C361.39,304.46 366.78,300.87 371.36,298.47C375.95,296.08 382.94,293.19 386.93,291.29C390.92,289.39 393.91,287.8 395.31,287.1" fill="none" stroke="#a0a0f0" stroke-width="2.2" stroke-linecap="round"/>
<path d="M391.71,285.31C392.19,283.79 396.34,283.03 397.7,283.51C399.06,283.99 401.57,287.22 401.89,288.9C402.21,290.57 401.13,295.28 400.09,296.08C399.06,296.88 395.23,296.32 394.11,294.88C392.99,293.44 391.24,286.82 391.71,285.31Z" fill="#a0a0f0"/>
<path d="M397.7,294.88C396.9,296.28 394.31,300.27 392.91,303.26C391.51,306.25 390.52,308.85 389.32,312.84C388.12,316.83 386.33,324.81 385.73,327.2" fill="none" stroke="#a0a0f0" stroke-width="3.0" stroke-linecap="round"/>
<path d="M408.47,314.03C409.55,312.3 417.21,311.1 419.25,311.04C421.28,310.98 427.56,311.7 428.82,313.44C430.08,315.17 433.85,326.9 431.81,328.4C429.78,329.89 410.81,329.83 408.47,328.4C406.14,326.96 407.4,315.77 408.47,314.03Z" fill="#a0a0f0"/>
<path d="M426.43,287.7C427.51,286.74 438.28,284.59 439.6,285.31C440.91,286.02 440.67,293.92 439.6,294.88C438.52,295.84 430.14,295.6 428.82,294.88C427.51,294.16 425.35,288.66 426.43,287.7Z" fill="#a0a0f0"/>
<path d="M372.56,326.6C373.96,326.2 377.55,324.41 380.94,324.21C384.33,324.01 390.92,325.21 392.91,325.41" fill="none" stroke="#a0a0f0" stroke-width="2.0" stroke-linecap="round"/>
<path d="M434.61,245.8C438.6,243.89 460.7,244.37 464.53,245.8C468.36,247.24 464.61,254.34 463.33,256.58C462.06,258.81 457.51,261.76 454.96,262.56C452.4,263.36 446.9,262.88 444.18,262.56C441.47,262.24 435.88,262.4 434.61,260.17C433.33,257.93 430.62,247.72 434.61,245.8Z" fill="#acf0f0"/>
<ellipse cx="442.99" cy="294.88" rx="6" ry="7" fill="none" stroke="#a8a8d8" stroke-width="2.2" opacity="0.8"/>
</g>
<path d="M400.7,269.8 L415.9,271.5M429.9,278.5 L438.1,285.5" fill="none" stroke="#e6de38" stroke-width="1.6" stroke-dasharray="1.2,0.9"/>
<path d="M417.9,196.2 L417.9,200.3 L430.2,197.3 L428.1,201.3 L420,200.5M417.9,200.3 L418.9,208.5 L423,212.6M418.9,208.5 L408.7,211.6 L406.7,218.7 L404.6,231 L403.6,243.2 L401.6,255.5M406.2,222 L395.4,223.8 L389.3,217.7M395.4,223.8 L393.4,233 L384.2,235.1 L381.1,246.3 L384.2,255.5 L387.8,259.9 L396,262.2 L400.7,269.2M393.4,233 L397,240 L402,246M396,262.2 L401.9,257.5 L403,247" fill="none" stroke="#12aab4" stroke-width="3.2" stroke-linecap="round" stroke-linejoin="round"/>
<path d="M417.9,196.2 L417.9,200.3 L430.2,197.3 L428.1,201.3 L420,200.5M417.9,200.3 L418.9,208.5 L423,212.6M418.9,208.5 L408.7,211.6 L406.7,218.7 L404.6,231 L403.6,243.2 L401.6,255.5M406.2,222 L395.4,223.8 L389.3,217.7M395.4,223.8 L393.4,233 L384.2,235.1 L381.1,246.3 L384.2,255.5 L387.8,259.9 L396,262.2 L400.7,269.2M393.4,233 L397,240 L402,246M396,262.2 L401.9,257.5 L403,247" fill="none" stroke="#26e4ec" stroke-width="1.44" stroke-linecap="round" stroke-linejoin="round"/>
<path d="M434.6,244.7 L435.7,252.8 L428.7,257.5 L427.6,264.5 L421.7,272.7 L415.9,271.5M421.7,272.7 L428.7,277.4M435.7,252.8 L445,257.5" fill="none" stroke="#12aab4" stroke-width="3.2" stroke-linecap="round" stroke-linejoin="round"/>
<path d="M434.6,244.7 L435.7,252.8 L428.7,257.5 L427.6,264.5 L421.7,272.7 L415.9,271.5M421.7,272.7 L428.7,277.4M435.7,252.8 L445,257.5" fill="none" stroke="#26e4ec" stroke-width="1.44" stroke-linecap="round" stroke-linejoin="round"/>
<path d="M411.8,189.1 L417.9,196.2M408.7,211.6 L406.5,213M393.4,233 L391,234M434.6,244.7 L435,248" fill="none" stroke="#0c0cb8" stroke-width="3.2" stroke-linecap="round" stroke-linejoin="round"/>
<path d="M411.8,189.1 L417.9,196.2M408.7,211.6 L406.5,213M393.4,233 L391,234M434.6,244.7 L435,248" fill="none" stroke="#2a36ee" stroke-width="1.44" stroke-linecap="round" stroke-linejoin="round"/>
<path d="M423,212.6 L421,210.5M389.3,217.7 L391.5,220M401.6,255.5 L402,252M400.7,269.2 L399.5,266.5M415.9,271.5 L418.5,271.8M428.7,277.4 L426.5,276M385.8,250.8 L386.6,252.4" fill="none" stroke="#c82828" stroke-width="3" stroke-linecap="round" stroke-linejoin="round"/>
<path d="M423,212.6 L421,210.5M389.3,217.7 L391.5,220M401.6,255.5 L402,252M400.7,269.2 L399.5,266.5M415.9,271.5 L418.5,271.8M428.7,277.4 L426.5,276M385.8,250.8 L386.6,252.4" fill="none" stroke="#f05050" stroke-width="1.35" stroke-linecap="round" stroke-linejoin="round"/>
<path d="M469.3,262 L459.7,254.2 L450.2,257.8 L448.4,268.5 L440.6,274.5 L441.2,287.7 L447.8,297.3 L456.8,296.7M436,301 L447.8,298.5 L451.4,292.5 L464.5,290.1 L469.3,279.3 L478.9,275.7 L480.7,266.8M478.9,275.7 L484.9,282.3M454.4,255.2 L448.6,261 L447.4,266.9 L440.4,273.9M429.9,284.4 L435.7,289 L445,290.2" fill="none" stroke="#0c0cb8" stroke-width="3.6" stroke-linecap="round" stroke-linejoin="round"/>
<path d="M469.3,262 L459.7,254.2 L450.2,257.8 L448.4,268.5 L440.6,274.5 L441.2,287.7 L447.8,297.3 L456.8,296.7M436,301 L447.8,298.5 L451.4,292.5 L464.5,290.1 L469.3,279.3 L478.9,275.7 L480.7,266.8M478.9,275.7 L484.9,282.3M454.4,255.2 L448.6,261 L447.4,266.9 L440.4,273.9M429.9,284.4 L435.7,289 L445,290.2" fill="none" stroke="#2a36ee" stroke-width="1.62" stroke-linecap="round" stroke-linejoin="round"/>
<rect x="358.6" y="170.2" width="160.4" height="156.8" fill="none" stroke="#1e1e1e" stroke-width="1.8"/>
<rect x="437.2" y="180.9" width="33.2" height="19.3" fill="#26eef0" stroke="#1a1a1a" stroke-width="1"/>
<text x="453.8" y="194.25" font-size="10.3" text-anchor="middle" fill="#111111" font-weight="bold" >K25&#8217;</text>
<rect x="367.2" y="195.4" width="32.3" height="18.8" fill="#26eef0" stroke="#1a1a1a" stroke-width="1"/>
<text x="383.35" y="208.5" font-size="10.3" text-anchor="middle" fill="#111111" font-weight="bold" >E26&#8217;</text>
<rect x="434.3" y="223.2" width="31.9" height="19.2" fill="#26eef0" stroke="#1a1a1a" stroke-width="1"/>
<text x="450.25" y="236.5" font-size="10.3" text-anchor="middle" fill="#111111" font-weight="bold" >E66&#8217;</text>
<rect x="360.8" y="268.7" width="31.9" height="18.9" fill="#26eef0" stroke="#1a1a1a" stroke-width="1"/>
<text x="376.75" y="281.85" font-size="10.3" text-anchor="middle" fill="#111111" font-weight="bold" >Y27&#8217;</text>
<rect x="399.2" y="293.6" width="33.9" height="19" fill="#0000ee" stroke="#1a1a1a" stroke-width="1"/>
<text x="416.15" y="306.8" font-size="10.3" text-anchor="middle" fill="#ffffff" font-weight="bold" >K45</text>
<rect x="466.4" y="295.6" width="34.6" height="19.6" fill="#0000ee" stroke="#1a1a1a" stroke-width="1"/>
<text x="483.7" y="309.1" font-size="10.3" text-anchor="middle" fill="#ffffff" font-weight="bold" >K44</text>
<g fill="#0c16e0"><path d="M275.5,395C276.48,393.76 277.8,393.9 279.5,393.8C281.2,393.7 282.1,393.86 284,394.5C285.9,395.14 286.8,396.1 289,397C291.2,397.9 292.8,398.5 295,399C297.2,399.5 298,399.7 300,399.5C302,399.3 303,398.9 305,398C307,397.1 307.8,395.9 310,395C312.2,394.1 313.8,393.94 316,393.5C318.2,393.06 319.5,392.7 321,392.8C322.5,392.9 322.74,393.06 323.5,394C324.26,394.94 324.4,395.9 324.8,397.5C325.2,399.1 325.46,400.1 325.5,402C325.54,403.9 324.9,405.2 325,407C325.1,408.8 325.9,409.3 326,411C326.1,412.7 326.3,414.2 325.5,415.5C324.7,416.8 323.7,417.2 322,417.5C320.3,417.8 319,417.5 317,417C315,416.5 314.2,415.76 312,415C309.8,414.24 308.4,413.48 306,413.2C303.6,412.92 302.2,413.6 300,413.6C297.8,413.6 297,412.92 295,413.2C293,413.48 292,414.24 290,415C288,415.76 286.5,415.96 285,417C283.5,418.04 283.6,419.6 282.5,420.2C281.4,420.8 280.3,420.74 279.5,420C278.7,419.26 279.2,418 278.5,416.5C277.8,415 276.78,414.4 276,412.5C275.22,410.6 274.88,409.5 274.6,407C274.32,404.5 274.42,402.4 274.6,400C274.78,397.6 274.52,396.24 275.5,395Z" fill="#0c16e0"/><circle cx="275.78" cy="394.93" r="1.38"/><circle cx="277.87" cy="394.43" r="1.15"/><circle cx="279.71" cy="393.82" r="1.48"/><circle cx="281.43" cy="394.03" r="1.28"/><circle cx="282.11" cy="394.67" r="1.23"/><circle cx="283.53" cy="394.01" r="1.39"/><circle cx="285.95" cy="395.45" r="1.08"/><circle cx="287.08" cy="396.15" r="1.44"/><circle cx="289.13" cy="396.54" r="0.94"/><circle cx="290.08" cy="397.87" r="1.39"/><circle cx="292.43" cy="397.93" r="1.02"/><circle cx="293.06" cy="398.25" r="1.04"/><circle cx="294.89" cy="398.84" r="1.31"/><circle cx="297.03" cy="399.05" r="1.37"/><circle cx="298.13" cy="399.1" r="1.36"/><circle cx="299.59" cy="399.08" r="1.49"/><circle cx="301.64" cy="398.91" r="1.34"/><circle cx="303.72" cy="398.37" r="1.36"/><circle cx="304.63" cy="398.39" r="1.09"/><circle cx="306.55" cy="396.52" r="0.85"/><circle cx="308.22" cy="395.61" r="1.26"/><circle cx="310.5" cy="394.79" r="1.33"/><circle cx="311.58" cy="394.74" r="1.34"/><circle cx="312.98" cy="394.58" r="0.91"/><circle cx="314.68" cy="393.9" r="0.94"/><circle cx="315.73" cy="393.95" r="1.25"/><circle cx="317.66" cy="393.27" r="1.39"/><circle cx="319.47" cy="392.76" r="1.46"/><circle cx="321.35" cy="393.08" r="1.3"/><circle cx="323.67" cy="393.82" r="1.48"/><circle cx="324.36" cy="395.41" r="1.37"/><circle cx="324.73" cy="397.06" r="1.42"/><circle cx="324.76" cy="398.92" r="0.87"/><circle cx="325.29" cy="400.54" r="1.38"/><circle cx="325.95" cy="402.39" r="1.27"/><circle cx="325.23" cy="404.11" r="0.96"/><circle cx="324.98" cy="405.4" r="1.06"/><circle cx="325.07" cy="406.62" r="0.97"/><circle cx="325.02" cy="408.93" r="0.97"/><circle cx="326.32" cy="410.76" r="0.93"/><circle cx="326.05" cy="412.19" r="1.39"/><circle cx="325.7" cy="413.64" r="1.29"/><circle cx="326" cy="415.31" r="1.19"/><circle cx="323.8" cy="416.95" r="1.49"/><circle cx="321.56" cy="417.38" r="1.37"/><circle cx="320.25" cy="417.34" r="1.2"/><circle cx="318.18" cy="416.7" r="1.43"/><circle cx="316.9" cy="416.94" r="1.19"/><circle cx="315.58" cy="416.73" r="0.86"/><circle cx="313.8" cy="415.17" r="1.18"/><circle cx="312.32" cy="414.98" r="1.06"/><circle cx="310.86" cy="414.74" r="1.44"/><circle cx="309.04" cy="413.91" r="1.29"/><circle cx="307.49" cy="413.15" r="0.89"/><circle cx="306.46" cy="413.35" r="0.82"/><circle cx="304.75" cy="413.56" r="0.83"/><circle cx="303.49" cy="413.07" r="1.15"/><circle cx="301.71" cy="413.49" r="1.04"/><circle cx="299.98" cy="413.73" r="1.47"/><circle cx="298.71" cy="413.96" r="1.36"/><circle cx="296.64" cy="413.19" r="1.44"/><circle cx="295.42" cy="413" r="1.35"/><circle cx="293.18" cy="413.36" r="1.13"/><circle cx="292.07" cy="414.43" r="1.37"/><circle cx="290.34" cy="415.3" r="1.01"/><circle cx="288.74" cy="415.25" r="1.15"/><circle cx="286.25" cy="416.22" r="1.42"/><circle cx="285.31" cy="417.49" r="1.19"/><circle cx="283.77" cy="418.27" r="1.14"/><circle cx="282.91" cy="420.04" r="1.4"/><circle cx="280.8" cy="420.4" r="0.93"/><circle cx="279.96" cy="419.62" r="0.86"/><circle cx="279.07" cy="418.53" r="1.3"/><circle cx="278.41" cy="416.71" r="0.94"/><circle cx="277.49" cy="414.96" r="0.96"/><circle cx="276.38" cy="413.55" r="1.18"/><circle cx="276.11" cy="412.33" r="1.23"/><circle cx="275.36" cy="410.98" r="0.81"/><circle cx="275.34" cy="409.23" r="1.21"/><circle cx="274.74" cy="407.48" r="0.9"/><circle cx="274.19" cy="405.26" r="1.31"/><circle cx="274.64" cy="403.48" r="1.1"/><circle cx="274.56" cy="402.13" r="0.85"/><circle cx="274.76" cy="399.59" r="1.39"/><circle cx="274.66" cy="398.63" r="1.02"/><circle cx="275.33" cy="396.68" r="1.47"/></g>
<clipPath id="dimC"><path d="M275.5,395C276.48,393.76 277.8,393.9 279.5,393.8C281.2,393.7 282.1,393.86 284,394.5C285.9,395.14 286.8,396.1 289,397C291.2,397.9 292.8,398.5 295,399C297.2,399.5 298,399.7 300,399.5C302,399.3 303,398.9 305,398C307,397.1 307.8,395.9 310,395C312.2,394.1 313.8,393.94 316,393.5C318.2,393.06 319.5,392.7 321,392.8C322.5,392.9 322.74,393.06 323.5,394C324.26,394.94 324.4,395.9 324.8,397.5C325.2,399.1 325.46,400.1 325.5,402C325.54,403.9 324.9,405.2 325,407C325.1,408.8 325.9,409.3 326,411C326.1,412.7 326.3,414.2 325.5,415.5C324.7,416.8 323.7,417.2 322,417.5C320.3,417.8 319,417.5 317,417C315,416.5 314.2,415.76 312,415C309.8,414.24 308.4,413.48 306,413.2C303.6,412.92 302.2,413.6 300,413.6C297.8,413.6 297,412.92 295,413.2C293,413.48 292,414.24 290,415C288,415.76 286.5,415.96 285,417C283.5,418.04 283.6,419.6 282.5,420.2C281.4,420.8 280.3,420.74 279.5,420C278.7,419.26 279.2,418 278.5,416.5C277.8,415 276.78,414.4 276,412.5C275.22,410.6 274.88,409.5 274.6,407C274.32,404.5 274.42,402.4 274.6,400C274.78,397.6 274.52,396.24 275.5,395Z"/></clipPath>
<g clip-path="url(#dimC)"><circle cx="298.89" cy="406.83" r="1.25" fill="#3a4cf4" opacity="0.6"/><circle cx="322.97" cy="402.18" r="0.87" fill="#3a4cf4" opacity="0.6"/><circle cx="311.56" cy="417.54" r="1.35" fill="#0008b0" opacity="0.6"/><circle cx="286.12" cy="417.07" r="1.54" fill="#3a4cf4" opacity="0.6"/><circle cx="279.35" cy="404.39" r="1.16" fill="#3a4cf4" opacity="0.6"/><circle cx="311.67" cy="399.06" r="0.98" fill="#3a4cf4" opacity="0.6"/><circle cx="282.89" cy="404.89" r="1.36" fill="#3a4cf4" opacity="0.6"/><circle cx="281.61" cy="412.8" r="0.8" fill="#0008b0" opacity="0.6"/><circle cx="306.2" cy="399.01" r="0.71" fill="#0008b0" opacity="0.6"/><circle cx="275.74" cy="413.46" r="1.29" fill="#0008b0" opacity="0.6"/><circle cx="284.92" cy="412.82" r="0.98" fill="#0008b0" opacity="0.6"/><circle cx="324.19" cy="409.14" r="0.88" fill="#3a4cf4" opacity="0.6"/><circle cx="295.57" cy="415.54" r="1.58" fill="#3a4cf4" opacity="0.6"/><circle cx="304.77" cy="402.51" r="1.24" fill="#3a4cf4" opacity="0.6"/><circle cx="323.19" cy="403.01" r="1.05" fill="#0008b0" opacity="0.6"/><circle cx="285.9" cy="395.87" r="1.19" fill="#0008b0" opacity="0.6"/><circle cx="293.47" cy="400.55" r="1.02" fill="#0008b0" opacity="0.6"/><circle cx="288.44" cy="407.41" r="1.26" fill="#3a4cf4" opacity="0.6"/><circle cx="291.16" cy="415.3" r="0.93" fill="#0008b0" opacity="0.6"/><circle cx="278.49" cy="406.19" r="1.16" fill="#0008b0" opacity="0.6"/><circle cx="274.83" cy="396.15" r="1.14" fill="#0008b0" opacity="0.6"/><circle cx="300.4" cy="416.4" r="1.28" fill="#0008b0" opacity="0.6"/><circle cx="278.6" cy="416.61" r="0.98" fill="#3a4cf4" opacity="0.6"/><circle cx="301.66" cy="404.26" r="1.79" fill="#0008b0" opacity="0.6"/><circle cx="311.81" cy="399.55" r="0.96" fill="#3a4cf4" opacity="0.6"/><circle cx="291.1" cy="398.81" r="0.93" fill="#3a4cf4" opacity="0.6"/><circle cx="289.94" cy="395.82" r="1.04" fill="#0008b0" opacity="0.6"/><circle cx="317.63" cy="409.72" r="1.75" fill="#0008b0" opacity="0.6"/><circle cx="279.35" cy="394.09" r="1.07" fill="#0008b0" opacity="0.6"/><circle cx="325.88" cy="393.54" r="1.47" fill="#0008b0" opacity="0.6"/><circle cx="288.09" cy="413.82" r="1.65" fill="#3a4cf4" opacity="0.6"/><circle cx="308.42" cy="405.76" r="1.55" fill="#3a4cf4" opacity="0.6"/><circle cx="308.67" cy="393.12" r="0.74" fill="#3a4cf4" opacity="0.6"/><circle cx="292.42" cy="404.64" r="0.93" fill="#0008b0" opacity="0.6"/><circle cx="295.91" cy="406.44" r="1.09" fill="#0008b0" opacity="0.6"/><circle cx="283.11" cy="418.32" r="0.91" fill="#0008b0" opacity="0.6"/><circle cx="296.56" cy="409.22" r="0.96" fill="#0008b0" opacity="0.6"/><circle cx="285.97" cy="414.34" r="1.42" fill="#0008b0" opacity="0.6"/><circle cx="325.43" cy="414.77" r="0.89" fill="#0008b0" opacity="0.6"/><circle cx="279.84" cy="415.01" r="1.71" fill="#3a4cf4" opacity="0.6"/><circle cx="276.66" cy="415.01" r="1.09" fill="#0008b0" opacity="0.6"/><circle cx="316.69" cy="418.6" r="1.27" fill="#0008b0" opacity="0.6"/><circle cx="321.43" cy="413.93" r="1.11" fill="#0008b0" opacity="0.6"/><circle cx="296.23" cy="417.5" r="1.12" fill="#3a4cf4" opacity="0.6"/><circle cx="276.42" cy="395.7" r="1.72" fill="#3a4cf4" opacity="0.6"/><circle cx="312.12" cy="405.79" r="1.5" fill="#0008b0" opacity="0.6"/><circle cx="281.98" cy="401.44" r="1.4" fill="#3a4cf4" opacity="0.6"/><circle cx="323.04" cy="394.46" r="1.32" fill="#0008b0" opacity="0.6"/><circle cx="312.2" cy="396.79" r="0.82" fill="#0008b0" opacity="0.6"/><circle cx="295.63" cy="395.48" r="0.84" fill="#0008b0" opacity="0.6"/><circle cx="275.9" cy="400.72" r="1.74" fill="#3a4cf4" opacity="0.6"/><circle cx="318.34" cy="393.51" r="0.92" fill="#3a4cf4" opacity="0.6"/><circle cx="312.16" cy="408.34" r="1.54" fill="#0008b0" opacity="0.6"/><circle cx="311.73" cy="395.75" r="1.2" fill="#3a4cf4" opacity="0.6"/><circle cx="315.58" cy="403.1" r="1.21" fill="#0008b0" opacity="0.6"/><circle cx="325.54" cy="409.36" r="1.13" fill="#0008b0" opacity="0.6"/><circle cx="318" cy="398.68" r="1.2" fill="#0008b0" opacity="0.6"/><circle cx="325.19" cy="417.85" r="1.24" fill="#3a4cf4" opacity="0.6"/><circle cx="320.4" cy="398.42" r="1.36" fill="#3a4cf4" opacity="0.6"/><circle cx="318.15" cy="402.85" r="1.12" fill="#0008b0" opacity="0.6"/><circle cx="311.92" cy="420.16" r="0.83" fill="#3a4cf4" opacity="0.6"/><circle cx="309.38" cy="406.42" r="1.68" fill="#3a4cf4" opacity="0.6"/><circle cx="277.04" cy="405.84" r="0.97" fill="#0008b0" opacity="0.6"/><circle cx="316.16" cy="416.47" r="0.82" fill="#0008b0" opacity="0.6"/><circle cx="284.8" cy="419.6" r="0.86" fill="#0008b0" opacity="0.6"/><circle cx="311.48" cy="398.31" r="1.34" fill="#3a4cf4" opacity="0.6"/><circle cx="277.33" cy="400.57" r="0.79" fill="#3a4cf4" opacity="0.6"/><circle cx="309.49" cy="418.15" r="0.99" fill="#3a4cf4" opacity="0.6"/><circle cx="310.04" cy="401.44" r="1.04" fill="#3a4cf4" opacity="0.6"/><circle cx="317.47" cy="402.71" r="1.55" fill="#3a4cf4" opacity="0.6"/><circle cx="290.46" cy="400.77" r="0.95" fill="#3a4cf4" opacity="0.6"/><circle cx="294.93" cy="415.11" r="1.43" fill="#0008b0" opacity="0.6"/><circle cx="290.83" cy="401.14" r="0.97" fill="#3a4cf4" opacity="0.6"/><circle cx="280.96" cy="414.82" r="1.17" fill="#3a4cf4" opacity="0.6"/><circle cx="300.59" cy="404.56" r="0.91" fill="#3a4cf4" opacity="0.6"/><circle cx="309.03" cy="420.16" r="1.36" fill="#3a4cf4" opacity="0.6"/><circle cx="276.27" cy="401.7" r="0.96" fill="#3a4cf4" opacity="0.6"/><circle cx="297.71" cy="400.47" r="0.88" fill="#0008b0" opacity="0.6"/><circle cx="323.34" cy="412.65" r="1.72" fill="#0008b0" opacity="0.6"/><circle cx="312.7" cy="404.89" r="1.43" fill="#0008b0" opacity="0.6"/></g>
<ellipse cx="300" cy="406" rx="6" ry="6.5" fill="#3040ee" opacity="0.45"/>
<path d="M281.5,392.6 L284.5,395.5 M316,415 L319.5,418" stroke="#30e0e8" stroke-width="1.6" fill="none"/>
<g><ellipse cx="220.4" cy="428.9" rx="2.1" ry="1.9" fill="#e83a3a"/><ellipse cx="219.4" cy="429.3" rx="1.6" ry="1.5" fill="#2424d8"/><ellipse cx="253" cy="429.1" rx="1.6" ry="1.5" fill="#2424d8"/><ellipse cx="255" cy="429.3" rx="2.1" ry="1.9" fill="#e83a3a"/><ellipse cx="255" cy="429.3" rx="1.0" ry="0.8" fill="#f27a7a"/><ellipse cx="196.4" cy="435.4" rx="1.6" ry="1.5" fill="#2424d8"/><ellipse cx="199.6" cy="435.4" rx="2.1" ry="1.9" fill="#e83a3a"/><ellipse cx="199.6" cy="435.4" rx="1.0" ry="0.8" fill="#f27a7a"/><ellipse cx="191.5" cy="439.1" rx="2.1" ry="1.9" fill="#e83a3a"/><ellipse cx="190.5" cy="439.5" rx="1.6" ry="1.5" fill="#2424d8"/><ellipse cx="215.5" cy="443" rx="1.6" ry="1.5" fill="#2424d8"/><ellipse cx="219.3" cy="445.3" rx="2.1" ry="1.9" fill="#e83a3a"/><ellipse cx="219.3" cy="445.3" rx="1.0" ry="0.8" fill="#f27a7a"/><ellipse cx="229.2" cy="443" rx="2.1" ry="1.9" fill="#e83a3a"/><ellipse cx="228.2" cy="443.4" rx="1.6" ry="1.5" fill="#2424d8"/><ellipse cx="244.4" cy="443.6" rx="1.6" ry="1.5" fill="#2424d8"/><ellipse cx="246.7" cy="443.3" rx="2.1" ry="1.9" fill="#e83a3a"/><ellipse cx="246.7" cy="443.3" rx="1.0" ry="0.8" fill="#f27a7a"/><ellipse cx="252.3" cy="443.3" rx="1.6" ry="1.5" fill="#2424d8"/><ellipse cx="255.1" cy="445.3" rx="2.1" ry="1.9" fill="#e83a3a"/><ellipse cx="255.1" cy="445.3" rx="1.0" ry="0.8" fill="#f27a7a"/><ellipse cx="202.3" cy="447.4" rx="1.6" ry="1.5" fill="#2424d8"/><ellipse cx="203" cy="452.1" rx="2.1" ry="1.9" fill="#e83a3a"/><ellipse cx="202" cy="452.5" rx="1.6" ry="1.5" fill="#2424d8"/><ellipse cx="189.4" cy="454" rx="2.1" ry="1.9" fill="#e83a3a"/><ellipse cx="188.4" cy="454.4" rx="1.6" ry="1.5" fill="#2424d8"/><ellipse cx="216.4" cy="452.6" rx="2.1" ry="1.9" fill="#e83a3a"/><ellipse cx="216.4" cy="452.6" rx="1.0" ry="0.8" fill="#f27a7a"/><ellipse cx="218.1" cy="453.6" rx="1.6" ry="1.5" fill="#2424d8"/><ellipse cx="232.8" cy="454.8" rx="2.1" ry="1.9" fill="#e83a3a"/><ellipse cx="231.8" cy="455.2" rx="1.6" ry="1.5" fill="#2424d8"/><ellipse cx="238.5" cy="454.6" rx="1.6" ry="1.5" fill="#2424d8"/><ellipse cx="243.2" cy="456.1" rx="2.5" ry="2.3" fill="#e83a3a"/><ellipse cx="243.2" cy="456.1" rx="1.1" ry="0.9" fill="#f27a7a"/><ellipse cx="247.1" cy="453.2" rx="1.6" ry="1.5" fill="#2424d8"/><ellipse cx="239.5" cy="459.6" rx="2.1" ry="1.9" fill="#e83a3a"/><ellipse cx="239.5" cy="459.6" rx="1.0" ry="0.8" fill="#f27a7a"/><ellipse cx="236.8" cy="460.2" rx="2.1" ry="1.9" fill="#e83a3a"/><ellipse cx="236.8" cy="460.2" rx="1.0" ry="0.8" fill="#f27a7a"/><ellipse cx="169.3" cy="461" rx="2.1" ry="1.9" fill="#e83a3a"/><ellipse cx="168.3" cy="461.4" rx="1.6" ry="1.5" fill="#2424d8"/><ellipse cx="178.5" cy="462" rx="1.6" ry="1.5" fill="#2424d8"/><ellipse cx="179.4" cy="464.7" rx="2.1" ry="1.9" fill="#e83a3a"/><ellipse cx="179.4" cy="464.7" rx="1.0" ry="0.8" fill="#f27a7a"/><ellipse cx="182.9" cy="468.2" rx="2.1" ry="1.9" fill="#e83a3a"/><ellipse cx="182.9" cy="468.2" rx="1.0" ry="0.8" fill="#f27a7a"/><ellipse cx="185.2" cy="467.3" rx="1.6" ry="1.5" fill="#2424d8"/><ellipse cx="190.7" cy="462.8" rx="2.1" ry="1.9" fill="#e83a3a"/><ellipse cx="189.7" cy="463.2" rx="1.6" ry="1.5" fill="#2424d8"/><ellipse cx="195.7" cy="464.7" rx="1.6" ry="1.5" fill="#2424d8"/><ellipse cx="211.7" cy="462.6" rx="2.1" ry="1.9" fill="#e83a3a"/><ellipse cx="211.7" cy="462.6" rx="1.0" ry="0.8" fill="#f27a7a"/><ellipse cx="197.8" cy="471.2" rx="2.1" ry="1.9" fill="#e83a3a"/><ellipse cx="197.8" cy="471.2" rx="1.0" ry="0.8" fill="#f27a7a"/><ellipse cx="206.2" cy="474" rx="1.6" ry="1.5" fill="#2424d8"/><ellipse cx="209.2" cy="473.4" rx="2.1" ry="1.9" fill="#e83a3a"/><ellipse cx="209.2" cy="473.4" rx="1.0" ry="0.8" fill="#f27a7a"/><ellipse cx="226.4" cy="471.7" rx="1.6" ry="1.5" fill="#2424d8"/><ellipse cx="175.9" cy="476.4" rx="2.1" ry="1.9" fill="#e83a3a"/><ellipse cx="175.9" cy="476.4" rx="1.0" ry="0.8" fill="#f27a7a"/><ellipse cx="183.4" cy="477.1" rx="2.1" ry="1.9" fill="#e83a3a"/><ellipse cx="183.4" cy="477.1" rx="1.0" ry="0.8" fill="#f27a7a"/><ellipse cx="181.7" cy="478.7" rx="1.6" ry="1.5" fill="#2424d8"/><ellipse cx="194.7" cy="477" rx="1.6" ry="1.5" fill="#2424d8"/><ellipse cx="218.7" cy="477.6" rx="2.1" ry="1.9" fill="#e83a3a"/><ellipse cx="217.7" cy="478" rx="1.6" ry="1.5" fill="#2424d8"/><ellipse cx="173.3" cy="480" rx="1.6" ry="1.5" fill="#2424d8"/><ellipse cx="179.4" cy="481.3" rx="2.1" ry="1.9" fill="#e83a3a"/><ellipse cx="179.4" cy="481.3" rx="1.0" ry="0.8" fill="#f27a7a"/><ellipse cx="156.1" cy="480.8" rx="2.1" ry="1.9" fill="#e83a3a"/><ellipse cx="155.1" cy="481.2" rx="1.6" ry="1.5" fill="#2424d8"/><ellipse cx="233.4" cy="482.5" rx="1.6" ry="1.5" fill="#2424d8"/><ellipse cx="163.7" cy="486.2" rx="1.6" ry="1.5" fill="#2424d8"/><ellipse cx="166.3" cy="486.2" rx="2.1" ry="1.9" fill="#e83a3a"/><ellipse cx="166.3" cy="486.2" rx="1.0" ry="0.8" fill="#f27a7a"/><ellipse cx="178.2" cy="483.4" rx="1.6" ry="1.5" fill="#2424d8"/><ellipse cx="188" cy="483.2" rx="2.1" ry="1.9" fill="#e83a3a"/><ellipse cx="187" cy="483.6" rx="1.6" ry="1.5" fill="#2424d8"/><ellipse cx="183.4" cy="486.9" rx="2.5" ry="2.3" fill="#e83a3a"/><ellipse cx="183.4" cy="486.9" rx="1.1" ry="0.9" fill="#f27a7a"/><ellipse cx="185.9" cy="487.4" rx="1.6" ry="1.5" fill="#2424d8"/><ellipse cx="195.2" cy="487.4" rx="2.1" ry="1.9" fill="#e83a3a"/><ellipse cx="195.2" cy="487.4" rx="1.0" ry="0.8" fill="#f27a7a"/><ellipse cx="222.2" cy="484.6" rx="2.1" ry="1.9" fill="#e83a3a"/><ellipse cx="221.2" cy="485" rx="1.6" ry="1.5" fill="#2424d8"/><ellipse cx="170.7" cy="489.2" rx="1.6" ry="1.5" fill="#2424d8"/><ellipse cx="178.2" cy="489.2" rx="2.1" ry="1.9" fill="#e83a3a"/><ellipse cx="178.2" cy="489.2" rx="1.0" ry="0.8" fill="#f27a7a"/><ellipse cx="192.6" cy="490" rx="1.6" ry="1.5" fill="#2424d8"/><ellipse cx="140.9" cy="487.1" rx="2.1" ry="1.9" fill="#e83a3a"/><ellipse cx="139.9" cy="487.5" rx="1.6" ry="1.5" fill="#2424d8"/><ellipse cx="147.2" cy="489.8" rx="2.1" ry="1.9" fill="#e83a3a"/><ellipse cx="146.2" cy="490.2" rx="1.6" ry="1.5" fill="#2424d8"/><ellipse cx="215.2" cy="491.6" rx="2.1" ry="1.9" fill="#e83a3a"/><ellipse cx="214.2" cy="492" rx="1.6" ry="1.5" fill="#2424d8"/><ellipse cx="183.7" cy="493.7" rx="2.5" ry="2.3" fill="#e83a3a"/><ellipse cx="183.7" cy="493.7" rx="1.1" ry="0.9" fill="#f27a7a"/><ellipse cx="172.4" cy="495.3" rx="2.1" ry="1.9" fill="#e83a3a"/><ellipse cx="172.4" cy="495.3" rx="1.0" ry="0.8" fill="#f27a7a"/><ellipse cx="154.4" cy="497" rx="1.6" ry="1.5" fill="#2424d8"/><ellipse cx="188" cy="496.6" rx="1.6" ry="1.5" fill="#2424d8"/><ellipse cx="190.7" cy="495.4" rx="2.1" ry="1.9" fill="#e83a3a"/><ellipse cx="190.7" cy="495.4" rx="1.0" ry="0.8" fill="#f27a7a"/><ellipse cx="193.8" cy="494.9" rx="1.6" ry="1.5" fill="#2424d8"/><ellipse cx="221.7" cy="484.4" rx="2.1" ry="1.9" fill="#e83a3a"/><ellipse cx="221.7" cy="484.4" rx="1.0" ry="0.8" fill="#f27a7a"/><ellipse cx="222.2" cy="486.7" rx="1.6" ry="1.5" fill="#2424d8"/><ellipse cx="233.6" cy="482.6" rx="1.6" ry="1.5" fill="#2424d8"/><ellipse cx="241.5" cy="494.5" rx="1.6" ry="1.5" fill="#2424d8"/><ellipse cx="238.1" cy="498" rx="1.6" ry="1.5" fill="#2424d8"/><ellipse cx="237.1" cy="498.4" rx="1.6" ry="1.5" fill="#2424d8"/><ellipse cx="209.6" cy="499.3" rx="2.1" ry="1.9" fill="#e83a3a"/><ellipse cx="209.6" cy="499.3" rx="1.0" ry="0.8" fill="#f27a7a"/><ellipse cx="210.8" cy="505.4" rx="1.6" ry="1.5" fill="#2424d8"/><ellipse cx="186.6" cy="504" rx="2.1" ry="1.9" fill="#e83a3a"/><ellipse cx="185.6" cy="504.4" rx="1.6" ry="1.5" fill="#2424d8"/><ellipse cx="193.8" cy="503.7" rx="1.6" ry="1.5" fill="#2424d8"/><ellipse cx="195" cy="501.9" rx="1.6" ry="1.5" fill="#2424d8"/><ellipse cx="213.4" cy="508.9" rx="1.6" ry="1.5" fill="#2424d8"/><ellipse cx="214.7" cy="508.4" rx="2.1" ry="1.9" fill="#e83a3a"/><ellipse cx="214.7" cy="508.4" rx="1.0" ry="0.8" fill="#f27a7a"/><ellipse cx="215" cy="491.7" rx="2.1" ry="1.9" fill="#e83a3a"/><ellipse cx="214" cy="492.1" rx="1.6" ry="1.5" fill="#2424d8"/><ellipse cx="165.1" cy="509.2" rx="2.1" ry="1.9" fill="#e83a3a"/><ellipse cx="164.1" cy="509.6" rx="1.6" ry="1.5" fill="#2424d8"/><ellipse cx="161.4" cy="514.2" rx="2.1" ry="1.9" fill="#e83a3a"/><ellipse cx="161.4" cy="514.2" rx="1.0" ry="0.8" fill="#f27a7a"/><ellipse cx="197.1" cy="515.6" rx="1.6" ry="1.5" fill="#2424d8"/><ellipse cx="200.6" cy="515.6" rx="2.1" ry="1.9" fill="#e83a3a"/><ellipse cx="200.6" cy="515.6" rx="1.0" ry="0.8" fill="#f27a7a"/><ellipse cx="168.9" cy="541.1" rx="2.1" ry="1.9" fill="#e83a3a"/><ellipse cx="167.9" cy="541.5" rx="1.6" ry="1.5" fill="#2424d8"/><ellipse cx="169.1" cy="545.2" rx="1.6" ry="1.5" fill="#2424d8"/><ellipse cx="108.9" cy="464" rx="2.1" ry="1.9" fill="#e83a3a"/><ellipse cx="107.9" cy="464.4" rx="1.6" ry="1.5" fill="#2424d8"/><ellipse cx="136.9" cy="477.5" rx="2.1" ry="1.9" fill="#e83a3a"/><ellipse cx="135.9" cy="477.9" rx="1.6" ry="1.5" fill="#2424d8"/><ellipse cx="131" cy="482.9" rx="1.6" ry="1.5" fill="#2424d8"/><ellipse cx="133.9" cy="481.7" rx="2.1" ry="1.9" fill="#e83a3a"/><ellipse cx="133.9" cy="481.7" rx="1.0" ry="0.8" fill="#f27a7a"/><ellipse cx="156.2" cy="481" rx="2.1" ry="1.9" fill="#e83a3a"/><ellipse cx="155.2" cy="481.4" rx="1.6" ry="1.5" fill="#2424d8"/><ellipse cx="165.1" cy="485.9" rx="1.6" ry="1.5" fill="#2424d8"/><ellipse cx="167.2" cy="487" rx="2.1" ry="1.9" fill="#e83a3a"/><ellipse cx="167.2" cy="487" rx="1.0" ry="0.8" fill="#f27a7a"/><ellipse cx="170.4" cy="489.4" rx="1.6" ry="1.5" fill="#2424d8"/><ellipse cx="173" cy="495.7" rx="2.1" ry="1.9" fill="#e83a3a"/><ellipse cx="173" cy="495.7" rx="1.0" ry="0.8" fill="#f27a7a"/><ellipse cx="176.2" cy="476.8" rx="2.1" ry="1.9" fill="#e83a3a"/><ellipse cx="176.2" cy="476.8" rx="1.0" ry="0.8" fill="#f27a7a"/><ellipse cx="131.7" cy="495.9" rx="2.1" ry="1.9" fill="#e83a3a"/><ellipse cx="130.7" cy="496.3" rx="1.6" ry="1.5" fill="#2424d8"/><ellipse cx="155" cy="497.3" rx="2.1" ry="1.9" fill="#e83a3a"/><ellipse cx="154" cy="497.7" rx="1.6" ry="1.5" fill="#2424d8"/><ellipse cx="123.4" cy="501.7" rx="2.1" ry="1.9" fill="#e83a3a"/><ellipse cx="123.4" cy="501.7" rx="1.0" ry="0.8" fill="#f27a7a"/><circle cx="126.2" cy="522.9" r="1.05" fill="#2424d8"/><ellipse cx="105.9" cy="523.4" rx="2.1" ry="1.9" fill="#e83a3a"/><ellipse cx="104.9" cy="523.8" rx="1.6" ry="1.5" fill="#2424d8"/><ellipse cx="141.3" cy="516" rx="2.1" ry="1.9" fill="#e83a3a"/><ellipse cx="140.3" cy="516.4" rx="1.6" ry="1.5" fill="#2424d8"/><ellipse cx="144.4" cy="514.3" rx="2.1" ry="1.9" fill="#e83a3a"/><ellipse cx="143.4" cy="514.7" rx="1.6" ry="1.5" fill="#2424d8"/><ellipse cx="155.3" cy="516.9" rx="2.1" ry="1.9" fill="#e83a3a"/><ellipse cx="154.3" cy="517.3" rx="1.6" ry="1.5" fill="#2424d8"/><ellipse cx="161.3" cy="514.5" rx="2.1" ry="1.9" fill="#e83a3a"/><ellipse cx="161.3" cy="514.5" rx="1.0" ry="0.8" fill="#f27a7a"/><ellipse cx="165.8" cy="509" rx="2.1" ry="1.9" fill="#e83a3a"/><ellipse cx="164.8" cy="509.4" rx="1.6" ry="1.5" fill="#2424d8"/><ellipse cx="145.3" cy="527" rx="2.1" ry="1.9" fill="#e83a3a"/><ellipse cx="144.3" cy="527.4" rx="1.6" ry="1.5" fill="#2424d8"/><circle cx="157.2" cy="527.6" r="1.05" fill="#2424d8"/><ellipse cx="157.9" cy="532.1" rx="2.1" ry="1.9" fill="#e83a3a"/><ellipse cx="156.9" cy="532.5" rx="1.6" ry="1.5" fill="#2424d8"/><ellipse cx="168.8" cy="541.1" rx="2.1" ry="1.9" fill="#e83a3a"/><ellipse cx="167.8" cy="541.5" rx="1.6" ry="1.5" fill="#2424d8"/><ellipse cx="80" cy="551.2" rx="2.1" ry="1.9" fill="#e83a3a"/><ellipse cx="79" cy="551.6" rx="1.6" ry="1.5" fill="#2424d8"/><circle cx="311.2" cy="509.2" r="1.05" fill="#2424d8"/><ellipse cx="178.1" cy="491.5" rx="1.6" ry="1.5" fill="#2424d8"/><ellipse cx="183.1" cy="495.8" rx="1.6" ry="1.5" fill="#2424d8"/></g>
<rect x="56.9" y="384" width="282.6" height="184" fill="none" stroke="#444" stroke-width="1.2"/>
<path d="M57.84,384v-2.2M57.84,568v2.2M67.7,384v-2.2M67.7,568v2.2M77.57,384v-2.2M77.57,568v2.2M87.43,384v-2.2M87.43,568v2.2M97.3,384v-2.2M97.3,568v2.2M107.17,384v-2.2M107.17,568v2.2M117.03,384v-2.2M117.03,568v2.2M126.9,384v-2.2M126.9,568v2.2M136.76,384v-2.2M136.76,568v2.2M146.63,384v-2.2M146.63,568v2.2M156.5,384v-2.2M156.5,568v2.2M166.36,384v-2.2M166.36,568v2.2M176.23,384v-2.2M176.23,568v2.2M186.09,384v-2.2M186.09,568v2.2M195.96,384v-2.2M195.96,568v2.2M205.83,384v-2.2M205.83,568v2.2M215.69,384v-2.2M215.69,568v2.2M225.56,384v-2.2M225.56,568v2.2M235.42,384v-2.2M235.42,568v2.2M245.29,384v-2.2M245.29,568v2.2M255.16,384v-2.2M255.16,568v2.2M265.02,384v-2.2M265.02,568v2.2M274.89,384v-2.2M274.89,568v2.2M284.75,384v-2.2M284.75,568v2.2M294.62,384v-2.2M294.62,568v2.2M304.49,384v-2.2M304.49,568v2.2M314.35,384v-2.2M314.35,568v2.2M324.22,384v-2.2M324.22,568v2.2M334.08,384v-2.2M334.08,568v2.2M56.9,389.14h-2.2M339.5,389.14h2.2M56.9,395.32h-2.2M339.5,395.32h2.2M56.9,401.5h-2.2M339.5,401.5h2.2M56.9,407.68h-2.2M339.5,407.68h2.2M56.9,413.86h-2.2M339.5,413.86h2.2M56.9,420.04h-2.2M339.5,420.04h2.2M56.9,426.22h-2.2M339.5,426.22h2.2M56.9,432.4h-2.2M339.5,432.4h2.2M56.9,438.58h-2.2M339.5,438.58h2.2M56.9,444.76h-2.2M339.5,444.76h2.2M56.9,450.94h-2.2M339.5,450.94h2.2M56.9,457.12h-2.2M339.5,457.12h2.2M56.9,463.3h-2.2M339.5,463.3h2.2M56.9,469.48h-2.2M339.5,469.48h2.2M56.9,475.66h-2.2M339.5,475.66h2.2M56.9,481.84h-2.2M339.5,481.84h2.2M56.9,488.02h-2.2M339.5,488.02h2.2M56.9,494.2h-2.2M339.5,494.2h2.2M56.9,500.38h-2.2M339.5,500.38h2.2M56.9,506.56h-2.2M339.5,506.56h2.2M56.9,512.74h-2.2M339.5,512.74h2.2M56.9,518.92h-2.2M339.5,518.92h2.2M56.9,525.1h-2.2M339.5,525.1h2.2M56.9,531.28h-2.2M339.5,531.28h2.2M56.9,537.46h-2.2M339.5,537.46h2.2M56.9,543.64h-2.2M339.5,543.64h2.2M56.9,549.82h-2.2M339.5,549.82h2.2M56.9,556h-2.2M339.5,556h2.2M56.9,562.18h-2.2M339.5,562.18h2.2" stroke="#444" stroke-width="1" fill="none"/>
<text x="97.3" y="378.8" font-size="8" text-anchor="middle" fill="#222" font-weight="bold" >10</text>
<text x="97.3" y="581.3" font-size="8" text-anchor="middle" fill="#222" font-weight="bold" >10</text>
<text x="146.63" y="378.8" font-size="8" text-anchor="middle" fill="#222" font-weight="bold" >9</text>
<text x="146.63" y="581.3" font-size="8" text-anchor="middle" fill="#222" font-weight="bold" >9</text>
<text x="195.96" y="378.8" font-size="8" text-anchor="middle" fill="#222" font-weight="bold" >8</text>
<text x="195.96" y="581.3" font-size="8" text-anchor="middle" fill="#222" font-weight="bold" >8</text>
<text x="245.29" y="378.8" font-size="8" text-anchor="middle" fill="#222" font-weight="bold" >7</text>
<text x="245.29" y="581.3" font-size="8" text-anchor="middle" fill="#222" font-weight="bold" >7</text>
<text x="294.62" y="378.8" font-size="8" text-anchor="middle" fill="#222" font-weight="bold" >6</text>
<text x="294.62" y="581.3" font-size="8" text-anchor="middle" fill="#222" font-weight="bold" >6</text>
<text x="49.6" y="404.8" font-size="8.6" text-anchor="end" fill="#222" font-weight="bold" textLength="13.2" lengthAdjust="spacingAndGlyphs">105</text>
<text x="345.4" y="404.8" font-size="8.6" text-anchor="start" fill="#222" font-weight="bold" textLength="13.2" lengthAdjust="spacingAndGlyphs">105</text>
<text x="49.6" y="435.7" font-size="8.6" text-anchor="end" fill="#222" font-weight="bold" textLength="13.2" lengthAdjust="spacingAndGlyphs">110</text>
<text x="345.4" y="435.7" font-size="8.6" text-anchor="start" fill="#222" font-weight="bold" textLength="13.2" lengthAdjust="spacingAndGlyphs">110</text>
<text x="49.6" y="466.6" font-size="8.6" text-anchor="end" fill="#222" font-weight="bold" textLength="13.2" lengthAdjust="spacingAndGlyphs">115</text>
<text x="345.4" y="466.6" font-size="8.6" text-anchor="start" fill="#222" font-weight="bold" textLength="13.2" lengthAdjust="spacingAndGlyphs">115</text>
<text x="49.6" y="497.5" font-size="8.6" text-anchor="end" fill="#222" font-weight="bold" textLength="13.2" lengthAdjust="spacingAndGlyphs">120</text>
<text x="345.4" y="497.5" font-size="8.6" text-anchor="start" fill="#222" font-weight="bold" textLength="13.2" lengthAdjust="spacingAndGlyphs">120</text>
<text x="49.6" y="528.4" font-size="8.6" text-anchor="end" fill="#222" font-weight="bold" textLength="13.2" lengthAdjust="spacingAndGlyphs">125</text>
<text x="345.4" y="528.4" font-size="8.6" text-anchor="start" fill="#222" font-weight="bold" textLength="13.2" lengthAdjust="spacingAndGlyphs">125</text>
<text x="49.6" y="559.3" font-size="8.6" text-anchor="end" fill="#222" font-weight="bold" textLength="13.2" lengthAdjust="spacingAndGlyphs">130</text>
<text x="345.4" y="559.3" font-size="8.6" text-anchor="start" fill="#222" font-weight="bold" textLength="13.2" lengthAdjust="spacingAndGlyphs">130</text>
<text x="207.5" y="595.2" font-size="11" text-anchor="middle" textLength="63" lengthAdjust="spacingAndGlyphs" font-weight="bold" fill="#111">&#969;<tspan font-size="7.5" dy="2">2</tspan><tspan dy="-2">-</tspan><tspan font-size="7.5" dy="-3.5">1</tspan><tspan dy="3.5">H (ppm)</tspan></text>
<text transform="translate(25.9,481.3) scale(0.8,1) rotate(-90)" x="0" y="0" font-size="11" text-anchor="middle" font-weight="bold" fill="#111">&#969;<tspan font-size="7.5" dy="2">1</tspan><tspan dy="-2">-</tspan><tspan font-size="7.5" dy="-3.5">15</tspan><tspan dy="3.5">N (ppm)</tspan></text>
<text x="4.5" y="379.9" font-size="19" text-anchor="start" fill="#111" font-weight="bold" textLength="24.4" lengthAdjust="spacingAndGlyphs">(C)</text>
<text x="115.9" y="497.8" font-size="9.2" text-anchor="middle" fill="#e02828" font-weight="bold" >S25</text>
<text x="125.5" y="534.6" font-size="9.2" text-anchor="middle" fill="#2828e0" font-weight="bold" >K25</text>
<path d="M119.4,507.5 L121.1,520" stroke="#111" stroke-width="1.4"/>
<path d="M117.2,509.2 L119.1,504.4 L121.5,508.8Z M119.0,518.6 L121.4,523.4 L123.3,518.3Z" fill="#111"/>
<path d="M439.3,477.25H646.6" stroke="#999" stroke-width="0.8"/>
<g fill="#ee8a1c" stroke="#5a3a10" stroke-width="0.45"><rect x="443.2" y="476.29" width="2.8" height="0.96"/><rect x="446.3" y="475.33" width="2.8" height="1.92"/><rect x="452.5" y="477.25" width="2.8" height="11.99"/><rect x="455.6" y="477.25" width="2.8" height="27.82"/><rect x="458.7" y="477.25" width="2.8" height="23.98"/><rect x="461.8" y="477.25" width="2.8" height="35.02"/><rect x="464.9" y="477.25" width="2.8" height="31.18"/><rect x="468" y="477.25" width="2.8" height="28.78"/><rect x="471.1" y="477.25" width="2.8" height="26.86"/><rect x="474.2" y="477.25" width="2.8" height="35.5"/><rect x="477.3" y="477.25" width="2.8" height="33.58"/><rect x="480.4" y="477.25" width="2.8" height="20.15"/><rect x="483.5" y="477.25" width="2.8" height="11.51"/><rect x="486.6" y="477.25" width="2.8" height="18.23"/><rect x="495.9" y="458.06" width="2.8" height="19.19"/><rect x="499" y="459.02" width="2.8" height="18.23"/><rect x="502.1" y="462.86" width="2.8" height="14.39"/><rect x="508.3" y="477.25" width="2.8" height="3.84"/><rect x="511.4" y="477.25" width="2.8" height="12.47"/><rect x="514.5" y="477.25" width="2.8" height="38.38"/><rect x="517.6" y="477.25" width="2.8" height="39.33"/><rect x="520.7" y="477.25" width="2.8" height="31.66"/><rect x="523.8" y="477.25" width="2.8" height="14.39"/><rect x="526.9" y="477.25" width="2.8" height="8.63"/><rect x="539.3" y="453.27" width="2.8" height="23.98"/><rect x="542.4" y="471.49" width="2.8" height="5.76"/><rect x="545.5" y="477.25" width="2.8" height="6.72"/><rect x="548.6" y="477.25" width="2.8" height="28.78"/><rect x="551.7" y="477.25" width="2.8" height="28.78"/><rect x="554.8" y="477.25" width="2.8" height="32.62"/><rect x="557.9" y="477.25" width="2.8" height="26.86"/><rect x="561" y="477.25" width="2.8" height="21.11"/><rect x="564.1" y="477.25" width="2.8" height="22.07"/><rect x="576.5" y="470.53" width="2.8" height="6.72"/><rect x="579.6" y="473.89" width="2.8" height="3.36"/><rect x="582.7" y="477.25" width="2.8" height="12.95"/><rect x="585.8" y="477.25" width="2.8" height="23.98"/><rect x="588.9" y="477.25" width="2.8" height="41.25"/><rect x="592" y="477.25" width="2.8" height="64.28"/><rect x="598.2" y="477.25" width="2.8" height="16.31"/><rect x="601.3" y="477.25" width="2.8" height="0.96"/><rect x="604.4" y="459.41" width="2.8" height="17.84"/><rect x="607.5" y="440.79" width="2.8" height="36.46"/><rect x="616.8" y="438.88" width="2.8" height="38.38"/><rect x="619.9" y="444.63" width="2.8" height="32.62"/><rect x="623" y="439.83" width="2.8" height="37.42"/><rect x="626.1" y="440.79" width="2.8" height="36.46"/><rect x="629.2" y="446.55" width="2.8" height="30.7"/><rect x="632.3" y="466.7" width="2.8" height="10.55"/><rect x="638.5" y="477.25" width="2.8" height="6.72"/></g>
<g fill="#111"><circle cx="441.5" cy="480.61" r="1.75"/><circle cx="444.6" cy="476.77" r="1.75"/><circle cx="447.7" cy="479.17" r="1.75"/><circle cx="450.8" cy="483.49" r="1.75"/><circle cx="453.9" cy="489.72" r="1.75"/><circle cx="457" cy="505.07" r="1.75"/><circle cx="460.1" cy="501.71" r="1.75"/><circle cx="463.2" cy="512.75" r="1.75"/><circle cx="466.3" cy="508.91" r="1.75"/><circle cx="469.4" cy="506.03" r="1.75"/><circle cx="472.5" cy="504.11" r="1.75"/><circle cx="475.6" cy="512.75" r="1.75"/><circle cx="478.7" cy="511.31" r="1.75"/><circle cx="481.8" cy="497.88" r="1.75"/><circle cx="484.9" cy="488.76" r="1.75"/><circle cx="488" cy="492.6" r="1.75"/><circle cx="491.1" cy="504.11" r="1.75"/><circle cx="494.2" cy="489.72" r="1.75"/><circle cx="497.3" cy="474.37" r="1.75"/><circle cx="500.4" cy="458.06" r="1.75"/><circle cx="503.5" cy="462.86" r="1.75"/><circle cx="506.6" cy="474.85" r="1.75"/><circle cx="509.7" cy="486.84" r="1.75"/><circle cx="512.8" cy="495.48" r="1.75"/><circle cx="515.9" cy="517.54" r="1.75"/><circle cx="519" cy="517.54" r="1.75"/><circle cx="522.1" cy="508.91" r="1.75"/><circle cx="525.2" cy="491.64" r="1.75"/><circle cx="528.3" cy="485.88" r="1.75"/><circle cx="531.4" cy="478.21" r="1.75"/><circle cx="534.5" cy="465.74" r="1.75"/><circle cx="537.6" cy="456.14" r="1.75"/><circle cx="540.7" cy="451.35" r="1.75"/><circle cx="543.8" cy="471.49" r="1.75"/><circle cx="546.9" cy="483.01" r="1.75"/><circle cx="550" cy="506.99" r="1.75"/><circle cx="553.1" cy="506.99" r="1.75"/><circle cx="556.2" cy="509.87" r="1.75"/><circle cx="559.3" cy="504.11" r="1.75"/><circle cx="562.4" cy="498.36" r="1.75"/><circle cx="565.5" cy="499.32" r="1.75"/><circle cx="568.6" cy="478.21" r="1.75"/><circle cx="571.7" cy="469.57" r="1.75"/><circle cx="574.8" cy="448.47" r="1.75"/><circle cx="577.9" cy="463.82" r="1.75"/><circle cx="581" cy="470.53" r="1.75"/><circle cx="584.1" cy="490.68" r="1.75"/><circle cx="587.2" cy="502.19" r="1.75"/><circle cx="590.3" cy="518.5" r="1.75"/><circle cx="593.4" cy="521.38" r="1.75"/><circle cx="596.5" cy="507.95" r="1.75"/><circle cx="599.6" cy="487.8" r="1.75"/><circle cx="602.7" cy="483.01" r="1.75"/><circle cx="605.8" cy="468.33" r="1.75"/><circle cx="608.9" cy="451.35" r="1.75"/><circle cx="612" cy="429.28" r="1.75"/><circle cx="615.1" cy="431.2" r="1.75"/><circle cx="618.2" cy="436.96" r="1.75"/><circle cx="621.3" cy="443.1" r="1.75"/><circle cx="624.4" cy="437.92" r="1.75"/><circle cx="627.5" cy="437.92" r="1.75"/><circle cx="630.6" cy="442.71" r="1.75"/><circle cx="633.7" cy="461.9" r="1.75"/><circle cx="636.8" cy="472.45" r="1.75"/><circle cx="639.9" cy="480.13" r="1.75"/><circle cx="643" cy="479.17" r="1.75"/><circle cx="646.1" cy="479.17" r="1.75"/></g>
<path d="M439.3,400.5V554H646.6V403.5" stroke="#333" stroke-width="1.1" fill="none"/>
<path d="M438.3,400.5H647.1" stroke="#111" stroke-width="2"/>
<path d="M439.3,554h-3M439.3,544.41h-1.8M439.3,534.81h-3M439.3,525.22h-1.8M439.3,515.62h-3M439.3,506.03h-1.8M439.3,496.44h-3M439.3,486.84h-1.8M439.3,477.25h-3M439.3,467.66h-1.8M439.3,458.06h-3M439.3,448.47h-1.8M439.3,438.88h-3M439.3,429.28h-1.8M439.3,419.69h-3M439.3,410.09h-1.8M439.3,400.5h-3M450.8,554v1.8M466.3,554v3M481.8,554v1.8M497.3,554v3M512.8,554v1.8M528.3,554v3M543.8,554v1.8M559.3,554v3M574.8,554v1.8M590.3,554v3M605.8,554v1.8M621.3,554v3M636.8,554v1.8" stroke="#333" stroke-width="1" fill="none"/>
<text x="434.6" y="558" font-size="11" text-anchor="end" fill="#111" font-weight="bold" >-8</text>
<text x="434.6" y="538.81" font-size="11" text-anchor="end" fill="#111" font-weight="bold" >-6</text>
<text x="434.6" y="519.62" font-size="11" text-anchor="end" fill="#111" font-weight="bold" >-4</text>
<text x="434.6" y="500.44" font-size="11" text-anchor="end" fill="#111" font-weight="bold" >-2</text>
<text x="434.6" y="481.25" font-size="11" text-anchor="end" fill="#111" font-weight="bold" >0</text>
<text x="434.6" y="462.06" font-size="11" text-anchor="end" fill="#111" font-weight="bold" >2</text>
<text x="434.6" y="442.88" font-size="11" text-anchor="end" fill="#111" font-weight="bold" >4</text>
<text x="434.6" y="423.69" font-size="11" text-anchor="end" fill="#111" font-weight="bold" >6</text>
<text x="434.6" y="404.5" font-size="11" text-anchor="end" fill="#111" font-weight="bold" >8</text>
<text x="466.3" y="568.6" font-size="11" text-anchor="middle" fill="#111" font-weight="bold" >10</text>
<text x="497.3" y="568.6" font-size="11" text-anchor="middle" fill="#111" font-weight="bold" >20</text>
<text x="528.3" y="568.6" font-size="11" text-anchor="middle" fill="#111" font-weight="bold" >30</text>
<text x="559.3" y="568.6" font-size="11" text-anchor="middle" fill="#111" font-weight="bold" >40</text>
<text x="590.3" y="568.6" font-size="11" text-anchor="middle" fill="#111" font-weight="bold" >50</text>
<text x="621.3" y="568.6" font-size="11" text-anchor="middle" fill="#111" font-weight="bold" >60</text>
<text x="545" y="588.2" font-size="13" text-anchor="middle" fill="#111" font-weight="bold" >Residues</text>
<text transform="translate(409.6,474.5) rotate(-90)" font-size="13.4" text-anchor="middle" font-weight="bold" fill="#111">&#916;&#948;C&#945;- &#916;&#948;C&#946;(ppm)</text>
<text x="388.4" y="379.5" font-size="19" text-anchor="start" fill="#111" font-weight="bold" textLength="24.6" lengthAdjust="spacingAndGlyphs">(D)</text>
<rect x="447.6" y="530.6" width="16.2" height="7.8" fill="#ee8a1c" stroke="#5a3a10" stroke-width="0.4"/>
<text x="466" y="538" font-size="8.5" text-anchor="start" fill="#111" font-weight="bold" >hCCL5-K25S</text>
<rect x="454.2" y="543.5" width="2.8" height="2.8" fill="#111"/>
<text x="466" y="548.3" font-size="8.5" text-anchor="start" fill="#111" font-weight="bold" >hCCL5-WT</text>
<path d="M486,400.6H646.6" stroke="#111" stroke-width="1.9"/>
<path d="M510.3,392.8 H523 V384.9 L534.4,400.6 L523,418 V408.6 H510.3 Z" fill="#3b3b3f" stroke="#56648a" stroke-width="0.9"/><path d="M548.8,392.8 H560.1 V384.9 L570.5,400.6 L560.1,418 V408.6 H548.8 Z" fill="#3b3b3f" stroke="#56648a" stroke-width="0.9"/><path d="M580.1,392.8 H591.7 V384.9 L603,400.6 L591.7,418 V408.6 H580.1 Z" fill="#3b3b3f" stroke="#56648a" stroke-width="0.9"/><path d="M492.1,390.1 H507 A3.3,12.25 0 0 1 507,414.6 H492.1 A4.2,12.25 0 0 1 492.1,390.1Z" fill="#c2c2c2" stroke="#111" stroke-width="1.1"/><ellipse cx="507" cy="402.35" rx="3.3" ry="12.25" fill="#bdbdbd" stroke="#111" stroke-width="1.1"/><path d="M609.4,389.7 H636.4 A6.4,12.3 0 0 1 636.4,414.3 H609.4 A5.5,12.3 0 0 1 609.4,389.7Z" fill="#c2c2c2" stroke="#111" stroke-width="1.1"/><ellipse cx="636.4" cy="402" rx="6.4" ry="12.3" fill="#bdbdbd" stroke="#111" stroke-width="1.1"/>
<text x="489.2" y="403" font-size="8.6" fill="#3a3a3a" font-weight="normal">3<tspan font-size="5.6" dy="1.6">10</tspan></text>
<text x="514.2" y="405.5" font-size="11.5" fill="#e4e4e8" font-style="italic" font-weight="normal" textLength="12.8" lengthAdjust="spacingAndGlyphs">&#946;1</text>
<text x="551.2" y="405.5" font-size="11.5" fill="#e4e4e8" font-style="italic" font-weight="normal" textLength="12.8" lengthAdjust="spacingAndGlyphs">&#946;2</text>
<text x="583.4" y="405.5" font-size="11.5" fill="#e4e4e8" font-style="italic" font-weight="normal" textLength="12.8" lengthAdjust="spacingAndGlyphs">&#946;3</text>
<text x="611.8" y="406.6" font-size="12.5" fill="#2a2a2a" font-weight="normal">&#945;1</text>
<defs><filter id="gblur" x="-5%" y="-5%" width="110%" height="110%"><feGaussianBlur stdDeviation="0.6"/></filter><radialGradient id="gcell" cx="50%" cy="50%" r="70%"><stop offset="0" stop-color="#1f8f1f"/><stop offset="1" stop-color="#178017"/></radialGradient></defs>
<text x="3.7" y="634.3" font-size="19" text-anchor="start" fill="#111" font-weight="bold" textLength="24.2" lengthAdjust="spacingAndGlyphs">(E)</text>
<text x="108.9" y="650.3" font-size="12.8" text-anchor="middle" fill="#111" font-weight="bold" >Untreated</text>
<text x="334" y="649.7" font-size="12.8" text-anchor="middle" fill="#111" font-weight="bold" >hCCL5</text>
<text x="106.8" y="746.3" font-size="12.8" text-anchor="middle" fill="#111" font-weight="bold" >hCCL5-K25S</text>
<text x="328.7" y="745.6" font-size="12.8" text-anchor="middle" fill="#111" font-weight="bold" >Met-hCCL5-K25S</text>
<clipPath id="clipimg0"><rect x="25" y="658" width="79.2" height="59.7"/></clipPath>
<g clip-path="url(#clipimg0)"><rect x="25" y="658" width="79.2" height="59.7" fill="#138a13"/><g fill="#30b030" opacity="0.5"><circle cx="50.65" cy="667.01" r="1.09"/><circle cx="30.74" cy="689.99" r="0.83"/><circle cx="29.59" cy="688.29" r="0.53"/><circle cx="59.34" cy="662.17" r="0.58"/><circle cx="58.62" cy="707.36" r="0.61"/><circle cx="42.68" cy="695.46" r="1.35"/><circle cx="70.71" cy="681.68" r="1.38"/><circle cx="28.69" cy="709.25" r="0.76"/><circle cx="36.43" cy="665.03" r="0.78"/><circle cx="89.64" cy="668.79" r="1.02"/><circle cx="75.6" cy="680.23" r="0.99"/><circle cx="29.97" cy="661.56" r="0.69"/><circle cx="78.89" cy="683.53" r="0.78"/><circle cx="71.38" cy="685.06" r="0.77"/><circle cx="87.91" cy="699.73" r="0.72"/><circle cx="70.49" cy="689.35" r="1.29"/><circle cx="82.77" cy="675.19" r="1.38"/><circle cx="34.35" cy="682.96" r="1.18"/><circle cx="37.04" cy="687.19" r="0.54"/><circle cx="77.92" cy="703.64" r="1.02"/><circle cx="94.34" cy="676.73" r="1.13"/><circle cx="72.07" cy="692.62" r="0.91"/><circle cx="91.53" cy="714.4" r="0.93"/><circle cx="77.6" cy="661.62" r="1.13"/><circle cx="76.25" cy="717.29" r="1.24"/><circle cx="47.54" cy="681.03" r="1.1"/><circle cx="26.79" cy="685.56" r="0.65"/><circle cx="34.27" cy="661.52" r="1.19"/><circle cx="35.24" cy="672.78" r="0.85"/><circle cx="94.02" cy="662.81" r="0.9"/><circle cx="68.52" cy="710.74" r="1.24"/><circle cx="93.43" cy="674.62" r="0.87"/><circle cx="53.41" cy="710.79" r="1.36"/><circle cx="36.95" cy="668.52" r="0.71"/><circle cx="43.48" cy="686.95" r="1.03"/><circle cx="45.81" cy="658.24" r="0.88"/><circle cx="54.24" cy="691.81" r="1.36"/><circle cx="79.69" cy="688.77" r="1.06"/><circle cx="78.56" cy="661.22" r="1.31"/><circle cx="86.77" cy="710.21" r="1.22"/><circle cx="56.08" cy="681.82" r="0.59"/><circle cx="75.24" cy="661.72" r="0.56"/><circle cx="41.53" cy="667.69" r="0.81"/><circle cx="29.16" cy="658.01" r="0.64"/><circle cx="33.04" cy="679.71" r="0.52"/><circle cx="94.25" cy="694.66" r="0.63"/><circle cx="44.98" cy="678.74" r="0.83"/><circle cx="34.73" cy="708.68" r="1.39"/><circle cx="61.91" cy="686.88" r="0.58"/><circle cx="33.09" cy="678.46" r="0.74"/><circle cx="90.65" cy="667.64" r="0.52"/><circle cx="100.32" cy="689.54" r="0.63"/><circle cx="68.02" cy="659.61" r="0.98"/><circle cx="102.5" cy="709.54" r="1.13"/><circle cx="45.68" cy="679.89" r="0.65"/><circle cx="86.14" cy="689.8" r="1.2"/><circle cx="51.11" cy="671.32" r="1.23"/><circle cx="103.01" cy="708.9" r="1.23"/><circle cx="89.81" cy="702.17" r="0.7"/><circle cx="66" cy="679.23" r="0.53"/><circle cx="27.21" cy="674.68" r="0.73"/><circle cx="79.85" cy="715.1" r="0.9"/><circle cx="99.21" cy="716.99" r="1.36"/><circle cx="53.88" cy="671.16" r="0.7"/><circle cx="40.58" cy="670.2" r="1.06"/><circle cx="96.3" cy="708.17" r="0.93"/><circle cx="76.72" cy="705.74" r="0.58"/><circle cx="77.32" cy="712.31" r="1.2"/><circle cx="84.41" cy="686.54" r="0.66"/><circle cx="87.5" cy="677.85" r="1.22"/><circle cx="101.96" cy="681.63" r="0.86"/><circle cx="99.99" cy="701.27" r="0.65"/><circle cx="35.06" cy="667.02" r="1.31"/><circle cx="88.87" cy="666.73" r="1.24"/><circle cx="102.64" cy="697.24" r="0.82"/><circle cx="68.45" cy="665.82" r="0.51"/><circle cx="101.89" cy="696.79" r="0.97"/><circle cx="98.94" cy="683.9" r="1.28"/><circle cx="90.43" cy="670.6" r="0.73"/><circle cx="48.2" cy="672.36" r="1.03"/><circle cx="45.54" cy="683.02" r="0.62"/><circle cx="97.07" cy="679.12" r="0.91"/><circle cx="71.2" cy="711.99" r="0.88"/><circle cx="97.68" cy="687.95" r="0.98"/><circle cx="66.46" cy="659.12" r="0.9"/><circle cx="39.5" cy="658.23" r="1.22"/><circle cx="38.65" cy="686.27" r="1.15"/><circle cx="69.07" cy="677.46" r="0.97"/><circle cx="68.99" cy="704.82" r="0.6"/><circle cx="69.38" cy="672.84" r="0.75"/><circle cx="86.16" cy="688.31" r="1.01"/><circle cx="85.19" cy="712.48" r="0.9"/><circle cx="73.51" cy="688.18" r="0.96"/><circle cx="79.86" cy="685.01" r="0.98"/><circle cx="62.86" cy="714.21" r="1.13"/><circle cx="94.42" cy="714.25" r="0.73"/><circle cx="69.31" cy="714.31" r="1.26"/><circle cx="35.86" cy="665.26" r="0.9"/><circle cx="30.75" cy="672.37" r="0.57"/><circle cx="78.02" cy="704.8" r="1.31"/><circle cx="37.23" cy="700.75" r="1.09"/><circle cx="36.32" cy="710.71" r="1.37"/><circle cx="42.39" cy="714.86" r="0.86"/><circle cx="63.59" cy="717.1" r="1.25"/><circle cx="37.79" cy="683.76" r="0.96"/><circle cx="51.86" cy="669.69" r="0.79"/><circle cx="82.19" cy="659.16" r="1"/><circle cx="59.88" cy="659.08" r="0.8"/><circle cx="74.42" cy="688.58" r="0.56"/><circle cx="103.02" cy="705.07" r="1.37"/><circle cx="33.3" cy="673.85" r="0.54"/><circle cx="86.7" cy="674.15" r="0.62"/><circle cx="58.44" cy="712.41" r="1.24"/><circle cx="45.48" cy="666.92" r="1.33"/><circle cx="70.19" cy="699.81" r="0.58"/><circle cx="29.56" cy="699.09" r="0.88"/><circle cx="30.74" cy="714.02" r="1.07"/><circle cx="88.49" cy="663" r="1.27"/><circle cx="30.28" cy="709.51" r="0.91"/><circle cx="51.86" cy="691.02" r="1.33"/><circle cx="46.21" cy="665.71" r="0.97"/><circle cx="43.88" cy="664.53" r="0.65"/><circle cx="28.99" cy="670.05" r="0.78"/><circle cx="49.16" cy="703.34" r="0.76"/><circle cx="64.61" cy="668.62" r="0.81"/><circle cx="26.44" cy="672.95" r="0.51"/><circle cx="83.06" cy="690.9" r="0.67"/><circle cx="62.6" cy="713.8" r="0.6"/><circle cx="89.86" cy="683.8" r="0.95"/><circle cx="91.1" cy="681.47" r="0.96"/><circle cx="79.47" cy="716.65" r="0.81"/><circle cx="90.92" cy="700.19" r="1.07"/><circle cx="57.05" cy="678.75" r="0.55"/><circle cx="35.28" cy="662.22" r="1.17"/><circle cx="45.24" cy="667.75" r="0.58"/><circle cx="91.63" cy="709.97" r="1.1"/><circle cx="47.33" cy="672.46" r="0.76"/><circle cx="61.39" cy="667.4" r="0.9"/><circle cx="45.85" cy="715.42" r="1.38"/><circle cx="68.33" cy="672.59" r="1.37"/><circle cx="49.52" cy="679.29" r="0.5"/><circle cx="55.22" cy="686.34" r="0.95"/><circle cx="40.92" cy="688.13" r="0.5"/><circle cx="45.92" cy="663.36" r="0.86"/><circle cx="28.3" cy="659.34" r="0.77"/><circle cx="43.44" cy="692.96" r="0.98"/><circle cx="84.44" cy="697.26" r="1.14"/><circle cx="94.62" cy="681.25" r="0.79"/><circle cx="102.99" cy="666.92" r="1.15"/><circle cx="75.94" cy="660.61" r="1.25"/><circle cx="95.64" cy="695.45" r="1.16"/><circle cx="89.33" cy="666.32" r="0.97"/><circle cx="64.95" cy="707.85" r="1.22"/><circle cx="90.45" cy="692.87" r="1.3"/><circle cx="79.09" cy="699.39" r="0.71"/><circle cx="27.47" cy="665.95" r="0.82"/><circle cx="33.31" cy="707.9" r="1"/><circle cx="74.72" cy="695.39" r="1.11"/><circle cx="63.75" cy="658.2" r="1.22"/><circle cx="84.26" cy="688.03" r="0.98"/></g><g fill="#0c700c" opacity="0.5"><circle cx="77.22" cy="661.94" r="1.02"/><circle cx="44.97" cy="662.44" r="0.69"/><circle cx="82.76" cy="670.25" r="1.02"/><circle cx="102.28" cy="687.49" r="0.77"/><circle cx="62.94" cy="698.82" r="1.04"/><circle cx="73.86" cy="696.37" r="0.55"/><circle cx="36.68" cy="673.16" r="1.02"/><circle cx="49.11" cy="691.9" r="0.51"/><circle cx="29.8" cy="674.05" r="0.97"/><circle cx="79.82" cy="698.34" r="0.7"/><circle cx="65.91" cy="685.74" r="0.83"/><circle cx="34.39" cy="711.35" r="0.64"/><circle cx="102.47" cy="713.89" r="0.51"/><circle cx="61.35" cy="706.95" r="1.18"/><circle cx="60.6" cy="674.04" r="0.65"/><circle cx="99.89" cy="670.58" r="0.91"/><circle cx="36.23" cy="689.29" r="1.17"/><circle cx="35.5" cy="706.97" r="0.86"/><circle cx="95.24" cy="699.99" r="0.66"/><circle cx="96.1" cy="687.02" r="0.52"/><circle cx="25.28" cy="687.35" r="0.82"/><circle cx="48.91" cy="666.4" r="0.74"/><circle cx="50.03" cy="708.16" r="0.5"/><circle cx="84.46" cy="708.09" r="0.58"/><circle cx="98.37" cy="700.57" r="1.13"/><circle cx="47.95" cy="680.22" r="0.78"/><circle cx="104.1" cy="693.17" r="0.75"/><circle cx="58.9" cy="674.43" r="0.53"/><circle cx="33.06" cy="707.83" r="0.7"/><circle cx="99.1" cy="672.88" r="0.69"/><circle cx="65.47" cy="669.33" r="0.76"/><circle cx="100.73" cy="710.79" r="1.07"/><circle cx="74.97" cy="712.53" r="1.16"/><circle cx="68.5" cy="700.96" r="0.53"/><circle cx="83" cy="684.92" r="1.03"/><circle cx="76.04" cy="675.09" r="0.53"/><circle cx="98.4" cy="665.6" r="0.83"/><circle cx="52.22" cy="675.78" r="1.02"/><circle cx="102.32" cy="673.53" r="0.96"/><circle cx="48.83" cy="691.27" r="0.78"/><circle cx="38.25" cy="667.65" r="0.65"/><circle cx="96.75" cy="687.68" r="0.65"/><circle cx="96.78" cy="717.49" r="0.81"/><circle cx="36.06" cy="669.49" r="0.56"/><circle cx="52.08" cy="663.44" r="0.67"/><circle cx="45.46" cy="692.01" r="1.12"/><circle cx="84.37" cy="682.64" r="0.79"/><circle cx="66.51" cy="680.5" r="0.74"/><circle cx="29.92" cy="674.57" r="1.18"/><circle cx="34.97" cy="688.05" r="0.94"/><circle cx="93.34" cy="670.89" r="0.69"/><circle cx="44.68" cy="681.87" r="0.81"/><circle cx="100.55" cy="708.67" r="1.11"/><circle cx="26.73" cy="659.92" r="1"/><circle cx="95.94" cy="686.25" r="0.91"/><circle cx="25.01" cy="681.37" r="1.15"/><circle cx="90.39" cy="709.07" r="1.18"/><circle cx="44.68" cy="664.51" r="0.61"/><circle cx="66.37" cy="698.72" r="1.16"/><circle cx="82.16" cy="696.65" r="1.04"/><circle cx="61.22" cy="690.92" r="0.53"/><circle cx="86.96" cy="671.88" r="1.14"/><circle cx="76.12" cy="676.14" r="0.59"/><circle cx="44.94" cy="695.99" r="0.99"/><circle cx="33.88" cy="662.2" r="0.87"/><circle cx="71.16" cy="681.17" r="0.66"/><circle cx="72.6" cy="658.62" r="0.71"/><circle cx="61.49" cy="715.25" r="0.95"/><circle cx="94.99" cy="686.38" r="0.66"/><circle cx="44.57" cy="715.35" r="0.99"/><circle cx="49.35" cy="659.3" r="0.85"/><circle cx="78.42" cy="683.07" r="0.68"/><circle cx="77.85" cy="713.23" r="0.66"/><circle cx="27.7" cy="678.18" r="0.79"/><circle cx="79.06" cy="669.83" r="1.06"/><circle cx="83.54" cy="688.14" r="0.64"/><circle cx="101.81" cy="676.61" r="1.07"/><circle cx="43.28" cy="671.22" r="1.03"/><circle cx="48.36" cy="714.83" r="0.85"/><circle cx="39.84" cy="671.33" r="0.79"/><circle cx="77.69" cy="714.64" r="0.6"/><circle cx="56.16" cy="670.71" r="1.18"/><circle cx="36.24" cy="661.09" r="0.54"/><circle cx="56.15" cy="711.62" r="1.12"/><circle cx="83.03" cy="717.55" r="1.15"/><circle cx="51.08" cy="669.08" r="1.16"/><circle cx="84.11" cy="659.9" r="0.97"/><circle cx="54.99" cy="680.32" r="0.73"/><circle cx="38.41" cy="658.17" r="0.7"/><circle cx="52.84" cy="715.04" r="0.59"/></g><path d="M36.97,657.69 L36.97,658.99 L39.76,658.72 L39.32,659.13 L41.74,660.17 L42.85,659.64 L43.37,660.22 L40.79,662.53 L40.4,662.42 L38.94,664.21 L41.68,666.26 L41.67,669.02 L38.63,668.7 L38.27,669.89 L37.78,672.02 L39.23,673.3 L38.09,675.69 L40.13,677.14 L39.88,677.83 L37.7,680.18 L40.9,682.9 L40.73,683.77 L40.4,685.9 L41.26,687.17 L40.49,689.79 L41.86,691.81 L42.61,693.09 L41.54,694.79 L42.41,695.99 L40.56,698.68 L40.37,699.25 L40.14,701.98 L41.23,704.62 L43,706.6 L41.72,707.16 L40.85,709.56 L42.01,711.23 L40.33,712.94 L42.65,714.65 L44.29,716.24 L45.39,716.15 L46.28,717.8 L73.87,717.8 L74.99,715.54 L75.54,716.16 L79.06,715.56 L79.76,716.04 L82.7,717.78 L83.68,716.22 L85.86,715.8 L86.73,714.65 L87.87,711.85 L88.1,710.74 L88.68,708.05 L87.39,707.01 L85.87,704.56 L87.12,703.29 L85.21,700.78 L88.79,699.44 L87.93,697.91 L90.47,695.96 L90.31,694.83 L88.92,692.46 L88.03,690.96 L87.92,689.6 L89.15,687.16 L87.7,686.57 L89.6,684.41 L90.1,682.65 L89.72,681.33 L87,679.08 L86.31,677.6 L87.89,676.92 L87.44,675.13 L89.27,672.37 L89.29,671.59 L89,669.29 L88.38,668.83 L88.53,666.15 L87.09,665.38 L87.01,662.74 L88.5,661.01 L88.28,659.61 L89.21,657.82Z" fill="#075807"/><g fill="#1a7a1a" opacity="0.7"><circle cx="59.99" cy="706.88" r="1.12"/><circle cx="48" cy="663.74" r="1.19"/><circle cx="71.52" cy="708.22" r="0.86"/><circle cx="70.61" cy="681.43" r="1.15"/><circle cx="47.18" cy="677.08" r="1.16"/><circle cx="85.53" cy="668.41" r="1.14"/><circle cx="79.6" cy="711.05" r="0.94"/><circle cx="46.23" cy="709.87" r="1.48"/></g><path d="M36.97,657.69 L36.97,658.99 L39.76,658.72 L39.32,659.13 L41.74,660.17 L42.85,659.64 L43.37,660.22 L40.79,662.53 L40.4,662.42 L38.94,664.21 L41.68,666.26 L41.67,669.02 L38.63,668.7 L38.27,669.89 L37.78,672.02 L39.23,673.3 L38.09,675.69 L40.13,677.14 L39.88,677.83 L37.7,680.18 L40.9,682.9 L40.73,683.77 L40.4,685.9 L41.26,687.17 L40.49,689.79 L41.86,691.81 L42.61,693.09 L41.54,694.79 L42.41,695.99 L40.56,698.68 L40.37,699.25 L40.14,701.98 L41.23,704.62 L43,706.6 L41.72,707.16 L40.85,709.56 L42.01,711.23 L40.33,712.94 L42.65,714.65 L44.29,716.24 L45.39,716.15 L46.28,717.8" fill="none" stroke="#e0ec3c" stroke-width="1.3" stroke-linejoin="round"/><path d="M89.21,657.82 L88.28,659.61 L88.5,661.01 L87.01,662.74 L87.09,665.38 L88.53,666.15 L88.38,668.83 L89,669.29 L89.29,671.59 L89.27,672.37 L87.44,675.13 L87.89,676.92 L86.31,677.6 L87,679.08 L89.72,681.33 L90.1,682.65 L89.6,684.41 L87.7,686.57 L89.15,687.16 L87.92,689.6 L88.03,690.96 L88.92,692.46 L90.31,694.83 L90.47,695.96 L87.93,697.91 L88.79,699.44 L85.21,700.78 L87.12,703.29 L85.87,704.56 L87.39,707.01 L88.68,708.05 L88.1,710.74 L87.87,711.85 L86.73,714.65 L85.86,715.8 L83.68,716.22 L82.7,717.78 L79.76,716.04 L79.06,715.56 L75.54,716.16 L74.99,715.54 L73.87,717.8" fill="none" stroke="#e0ec3c" stroke-width="1.3" stroke-linejoin="round"/><g fill="none" stroke="#e0ec3c" stroke-width="0.9"><circle cx="80.76" cy="713.25" r="1.73"/><circle cx="79.43" cy="717.25" r="1.42"/><circle cx="85.54" cy="713.75" r="1.59"/><circle cx="77.11" cy="714.9" r="1.65"/><circle cx="85.61" cy="713.86" r="1.02"/><circle cx="79.6" cy="715.43" r="1.18"/><circle cx="75.72" cy="714.16" r="1.52"/><circle cx="86.56" cy="713.19" r="1.36"/></g></g>
<text x="26.5" y="710.4" font-size="11" text-anchor="start" fill="#f2f2f2" font-weight="bold" >0 hr</text>
<clipPath id="clipimg1"><rect x="119.5" y="657.6" width="79.8" height="60.3"/></clipPath>
<g clip-path="url(#clipimg1)"><rect x="119.5" y="657.6" width="79.8" height="60.3" fill="#117811"/><g fill="#30b030" opacity="0.5"><circle cx="179.95" cy="659.9" r="1.25"/><circle cx="128.89" cy="693.75" r="1"/><circle cx="169.54" cy="676.06" r="0.88"/><circle cx="165.99" cy="683.27" r="1.09"/><circle cx="155.15" cy="684.03" r="0.52"/><circle cx="168.89" cy="687.12" r="0.71"/><circle cx="180.43" cy="704.63" r="0.91"/><circle cx="133.83" cy="686.14" r="0.6"/><circle cx="129.75" cy="683.57" r="0.58"/><circle cx="154.77" cy="688.36" r="0.54"/><circle cx="170.29" cy="662.56" r="1.16"/><circle cx="181.56" cy="688.44" r="0.55"/><circle cx="159.71" cy="680.39" r="1.36"/><circle cx="130.37" cy="709.28" r="1.4"/><circle cx="177.92" cy="706.74" r="0.67"/><circle cx="197.84" cy="687.26" r="1.36"/><circle cx="192.6" cy="667.56" r="1.21"/><circle cx="193.76" cy="661.55" r="0.82"/><circle cx="179.84" cy="667.17" r="1.31"/><circle cx="141.44" cy="706.78" r="0.63"/><circle cx="159.58" cy="713.07" r="0.69"/><circle cx="140.48" cy="688.11" r="0.79"/><circle cx="122.44" cy="668.58" r="0.65"/><circle cx="194.23" cy="698.58" r="1.31"/><circle cx="132.97" cy="704.93" r="0.6"/><circle cx="161.85" cy="695.97" r="0.82"/><circle cx="189.16" cy="691.08" r="1.02"/><circle cx="189.93" cy="663.91" r="1.39"/><circle cx="169.76" cy="681.37" r="1.22"/><circle cx="140.63" cy="717.33" r="1.02"/><circle cx="148.25" cy="703.71" r="0.9"/><circle cx="133.61" cy="702.44" r="0.54"/><circle cx="184.92" cy="672.9" r="1.08"/><circle cx="198.03" cy="692.93" r="1.1"/><circle cx="144.45" cy="657.71" r="0.53"/><circle cx="131.42" cy="694.75" r="0.89"/><circle cx="160.41" cy="711.6" r="0.62"/><circle cx="137.64" cy="696.98" r="0.52"/><circle cx="119.71" cy="679" r="0.6"/><circle cx="148" cy="671.12" r="1.03"/><circle cx="166.51" cy="669.91" r="1.06"/><circle cx="157.4" cy="665.73" r="1.34"/><circle cx="138.94" cy="666.6" r="0.59"/><circle cx="170.43" cy="710.14" r="1.2"/><circle cx="151.58" cy="673.53" r="0.51"/><circle cx="170.97" cy="691.51" r="0.82"/><circle cx="171.02" cy="684.36" r="1.34"/><circle cx="178.04" cy="672.58" r="1.31"/><circle cx="123.01" cy="689.65" r="0.87"/><circle cx="138.47" cy="661.12" r="1.2"/><circle cx="120.49" cy="690.82" r="1.35"/><circle cx="130.85" cy="669.63" r="1.05"/><circle cx="159.95" cy="696.29" r="1.23"/><circle cx="133.44" cy="676.26" r="0.77"/><circle cx="123.37" cy="711.23" r="1.2"/><circle cx="176.59" cy="657.98" r="1.26"/><circle cx="178.97" cy="685.66" r="1.17"/><circle cx="155.61" cy="671.22" r="0.59"/><circle cx="138.04" cy="659.94" r="0.8"/><circle cx="179.32" cy="699.52" r="1.26"/><circle cx="176.29" cy="673.64" r="1"/><circle cx="154.3" cy="705.14" r="0.97"/><circle cx="140.67" cy="696.31" r="1.37"/><circle cx="136.82" cy="710.67" r="0.51"/><circle cx="140.28" cy="671.84" r="1.17"/><circle cx="194.89" cy="702.59" r="0.79"/><circle cx="189.74" cy="677.41" r="0.72"/><circle cx="191.92" cy="695.63" r="1.12"/><circle cx="172.59" cy="716.63" r="0.92"/><circle cx="186.51" cy="699.67" r="1.27"/><circle cx="154.39" cy="701.29" r="1.01"/><circle cx="144.06" cy="670.38" r="1.06"/><circle cx="125.71" cy="712.52" r="0.63"/><circle cx="121.65" cy="664.03" r="1.34"/><circle cx="147.02" cy="666.15" r="0.53"/><circle cx="122.82" cy="699.37" r="1.07"/><circle cx="175.12" cy="702.03" r="0.56"/><circle cx="166.62" cy="679.51" r="1.24"/><circle cx="184.9" cy="711.34" r="0.56"/><circle cx="188.75" cy="712.74" r="1.35"/><circle cx="128.05" cy="670.01" r="0.6"/><circle cx="122.25" cy="708.72" r="1.23"/><circle cx="170.11" cy="707.35" r="1.07"/><circle cx="142.43" cy="663.62" r="0.59"/><circle cx="179.94" cy="669.96" r="0.79"/><circle cx="153.32" cy="658.86" r="0.73"/><circle cx="142.05" cy="700.76" r="0.83"/><circle cx="145.1" cy="715.73" r="0.95"/><circle cx="187.44" cy="694.88" r="0.53"/><circle cx="152.45" cy="683.92" r="1.2"/><circle cx="147.17" cy="700.09" r="0.98"/><circle cx="136.78" cy="709.59" r="0.58"/><circle cx="184.92" cy="667.87" r="0.5"/><circle cx="135.62" cy="703.56" r="1.38"/><circle cx="119.85" cy="687.2" r="0.94"/><circle cx="183.08" cy="668.73" r="0.95"/><circle cx="147.21" cy="707.76" r="0.73"/><circle cx="194.82" cy="674.71" r="0.69"/><circle cx="175.32" cy="687.65" r="0.6"/><circle cx="170.3" cy="662.48" r="1.21"/><circle cx="175.13" cy="705.05" r="1.07"/><circle cx="147.88" cy="681.8" r="0.86"/><circle cx="190.55" cy="662.8" r="1.3"/><circle cx="121.51" cy="670.03" r="0.74"/><circle cx="191.42" cy="687.82" r="0.84"/><circle cx="190.04" cy="671.68" r="0.91"/><circle cx="161.92" cy="703.09" r="1.18"/><circle cx="171.07" cy="678.61" r="0.79"/><circle cx="131.9" cy="708.44" r="1.1"/><circle cx="178.71" cy="667.82" r="0.89"/><circle cx="181.22" cy="692.52" r="0.61"/><circle cx="156.37" cy="710.97" r="0.71"/><circle cx="134.79" cy="675.78" r="1.13"/><circle cx="186.82" cy="666.92" r="0.64"/><circle cx="139.26" cy="677.29" r="0.97"/><circle cx="132.34" cy="677.38" r="0.67"/><circle cx="197.32" cy="701.54" r="0.59"/><circle cx="196.3" cy="663.73" r="0.85"/><circle cx="198.01" cy="705.53" r="1.16"/><circle cx="154.21" cy="669.43" r="1.07"/><circle cx="128.03" cy="670.05" r="0.85"/><circle cx="122.21" cy="681.66" r="1.21"/><circle cx="174.84" cy="687.78" r="1.07"/><circle cx="156.47" cy="666.15" r="1.04"/><circle cx="151.8" cy="702.28" r="1.32"/><circle cx="153.82" cy="692.21" r="1.17"/><circle cx="153.11" cy="671.38" r="1.15"/><circle cx="189.73" cy="704.28" r="1.13"/><circle cx="187.53" cy="698.58" r="1.08"/><circle cx="155.72" cy="676.47" r="1.07"/><circle cx="127.31" cy="682.9" r="1.2"/><circle cx="176.41" cy="695.57" r="0.73"/><circle cx="153.3" cy="685.05" r="1.06"/><circle cx="152.17" cy="698.32" r="1.34"/><circle cx="134.11" cy="697.07" r="1.2"/><circle cx="150.52" cy="687.14" r="1.38"/><circle cx="122.54" cy="690.36" r="0.64"/><circle cx="181.89" cy="714.32" r="0.97"/><circle cx="127.57" cy="692.25" r="0.99"/><circle cx="176.74" cy="688.49" r="1.08"/><circle cx="185.65" cy="689.06" r="0.87"/><circle cx="195.15" cy="670.27" r="1.12"/><circle cx="150.82" cy="703.59" r="0.61"/><circle cx="198.06" cy="679.04" r="0.55"/><circle cx="141.39" cy="681.7" r="0.51"/><circle cx="152.9" cy="682.96" r="1.13"/><circle cx="147.6" cy="673.59" r="0.7"/><circle cx="178.67" cy="714.28" r="0.97"/><circle cx="136.97" cy="705.93" r="0.85"/><circle cx="136.42" cy="665.4" r="1.2"/><circle cx="184.1" cy="695.85" r="0.92"/><circle cx="164.35" cy="671.23" r="1.37"/><circle cx="147.68" cy="696.12" r="1.24"/><circle cx="184.63" cy="685.83" r="0.76"/><circle cx="163.25" cy="665.15" r="1.25"/><circle cx="147.81" cy="708.9" r="0.74"/><circle cx="149.52" cy="672.89" r="0.88"/><circle cx="134.33" cy="657.76" r="1.15"/><circle cx="141.94" cy="672.37" r="0.77"/><circle cx="157.77" cy="683.44" r="1.07"/></g><g fill="#0c700c" opacity="0.5"><circle cx="172.11" cy="679.45" r="1.15"/><circle cx="187.68" cy="661.04" r="1.08"/><circle cx="191.78" cy="704.88" r="0.6"/><circle cx="185.84" cy="695.78" r="0.51"/><circle cx="120.42" cy="714.99" r="0.96"/><circle cx="139.45" cy="663.72" r="0.6"/><circle cx="138.14" cy="704.41" r="0.74"/><circle cx="131.68" cy="712.12" r="1.05"/><circle cx="132.9" cy="711.34" r="0.93"/><circle cx="181.85" cy="697.91" r="1.13"/><circle cx="182.39" cy="708.18" r="0.64"/><circle cx="174.78" cy="689.61" r="1.02"/><circle cx="154.5" cy="710.83" r="0.89"/><circle cx="140.61" cy="671.72" r="0.6"/><circle cx="158.85" cy="661.12" r="0.83"/><circle cx="131.02" cy="687.23" r="0.85"/><circle cx="162.56" cy="709.63" r="0.5"/><circle cx="186.59" cy="685.82" r="0.89"/><circle cx="172.59" cy="708.29" r="0.76"/><circle cx="152.92" cy="715.52" r="0.55"/><circle cx="170.34" cy="695.96" r="0.52"/><circle cx="168.15" cy="698.76" r="1.15"/><circle cx="145.87" cy="716.8" r="0.86"/><circle cx="158.18" cy="711.72" r="0.52"/><circle cx="176.81" cy="695.3" r="0.74"/><circle cx="188.26" cy="679.68" r="0.83"/><circle cx="161.44" cy="704.07" r="0.65"/><circle cx="154.23" cy="683.07" r="0.89"/><circle cx="185.47" cy="675.26" r="1.08"/><circle cx="151.72" cy="687.98" r="0.69"/><circle cx="159.91" cy="716.39" r="0.96"/><circle cx="182.7" cy="677.55" r="0.72"/><circle cx="143.38" cy="692.96" r="0.94"/><circle cx="182.08" cy="660.02" r="1.01"/><circle cx="190.17" cy="690.49" r="0.53"/><circle cx="143.47" cy="657.97" r="0.63"/><circle cx="193.03" cy="694.3" r="0.96"/><circle cx="182.46" cy="712.46" r="0.93"/><circle cx="168.71" cy="695.4" r="0.99"/><circle cx="167.09" cy="698.66" r="0.65"/><circle cx="172.73" cy="685.21" r="1.03"/><circle cx="127.59" cy="668.53" r="0.53"/><circle cx="181.31" cy="712.72" r="0.96"/><circle cx="148.94" cy="707.2" r="1.05"/><circle cx="164.36" cy="673.16" r="0.71"/><circle cx="153.16" cy="676.8" r="0.8"/><circle cx="170.71" cy="713.91" r="0.54"/><circle cx="164.79" cy="659.97" r="0.58"/><circle cx="184.16" cy="692.29" r="1.14"/><circle cx="155.13" cy="658.45" r="0.77"/><circle cx="166.74" cy="714.14" r="1.19"/><circle cx="157.44" cy="682.47" r="0.57"/><circle cx="170.93" cy="670.4" r="0.61"/><circle cx="120.74" cy="657.89" r="0.98"/><circle cx="129.21" cy="715.87" r="0.56"/><circle cx="188.89" cy="665.38" r="0.51"/><circle cx="176.9" cy="672.21" r="1.01"/><circle cx="134.46" cy="660.62" r="1.04"/><circle cx="176.44" cy="709.19" r="1.01"/><circle cx="126.23" cy="695.51" r="1"/><circle cx="156.25" cy="713.82" r="0.68"/><circle cx="196.45" cy="700.85" r="0.51"/><circle cx="120.68" cy="696.84" r="1.07"/><circle cx="125.86" cy="676.36" r="1.01"/><circle cx="132.75" cy="709.52" r="0.84"/><circle cx="124.27" cy="679.76" r="0.9"/><circle cx="154.51" cy="698.42" r="0.6"/><circle cx="183.13" cy="679.5" r="0.95"/><circle cx="169.75" cy="682.8" r="0.77"/><circle cx="182.24" cy="714.58" r="1.05"/><circle cx="164.73" cy="675.23" r="0.54"/><circle cx="197.22" cy="700.01" r="1.08"/><circle cx="146" cy="694.13" r="1.18"/><circle cx="185.84" cy="693.85" r="0.72"/><circle cx="153.7" cy="711.15" r="0.76"/><circle cx="174.15" cy="693.89" r="1.13"/><circle cx="183.94" cy="674.68" r="0.5"/><circle cx="140.49" cy="683.08" r="0.91"/><circle cx="184.62" cy="711.11" r="0.53"/><circle cx="185.99" cy="706.55" r="1.11"/><circle cx="165.14" cy="674.11" r="1.1"/><circle cx="183.9" cy="698.88" r="1.14"/><circle cx="147.18" cy="662.73" r="0.89"/><circle cx="183.13" cy="669.69" r="1.03"/><circle cx="193.85" cy="671.71" r="0.92"/><circle cx="173.58" cy="685.66" r="0.64"/><circle cx="139.83" cy="702.89" r="1.05"/><circle cx="156.19" cy="662.89" r="1.06"/><circle cx="181.12" cy="671.64" r="0.91"/><circle cx="191.07" cy="710.97" r="0.87"/></g><path d="M144.98,657.73 L142.77,657.77 L141.29,659.22 L140.3,659.66 L138.94,660.25 L136.82,660.97 L140.49,662.21 L139.63,663.35 L142.86,663.33 L143.83,664.36 L143.92,665.6 L142.95,668.87 L145.4,669.83 L144.92,671.23 L145.76,673.24 L144.74,675.23 L142.95,677 L140.02,676.53 L138.42,677.73 L136.65,678.5 L138.62,681.97 L139.09,684.27 L139.39,684.36 L137.7,686.34 L135.58,688.67 L135.06,689.52 L135.18,691.59 L134.53,692.17 L133.22,693.26 L133.84,696.02 L131.17,696 L131.75,698.43 L133.92,701.24 L134.23,701.85 L136.29,703.61 L138.12,704.77 L138.04,704.56 L141.32,706.89 L142.58,706.99 L143.81,708.8 L141.58,709.58 L141,710.73 L140.61,712.26 L138.23,712.8 L137.62,713.18 L135.97,714.05 L132.44,715.78 L131.17,716.37 L131.39,717.47 L128.98,718.03 L152.34,718.03 L152.81,717.6 L155.11,716.54 L155.43,715.78 L157.84,715.14 L159.29,713.71 L160.77,715.24 L164.5,714.84 L166.54,715.66 L167.4,714.45 L170.26,715.29 L172.12,713.98 L172.62,712.08 L173.38,711.17 L173.46,709.91 L176.5,709.98 L177.45,709.45 L178.03,707.94 L180.84,707.9 L181.41,706.78 L185,706.46 L182.16,706.63 L181.72,704.91 L181.14,704.31 L177.8,703.91 L178.75,702.6 L176.22,700.32 L177.22,699.39 L176.94,697.42 L177.01,696.39 L178.18,694.57 L176.84,693.47 L179.91,693 L177.77,691.16 L177.01,687.98 L177.09,686.16 L177.96,684.22 L176.73,683.46 L177.25,681.77 L178.14,679.83 L179.21,677.72 L182.42,676.02 L182.1,674.46 L183.12,673.22 L183.53,672.48 L185.74,670.52 L185.19,668.29 L185.88,666.6 L186.02,665.29 L184.69,663.25 L185.34,661.88 L182.67,660.3 L182.06,657.51Z" fill="#0a6a0a"/><g fill="#1a7a1a" opacity="0.7"><circle cx="175.16" cy="706.13" r="1.02"/><circle cx="169.92" cy="681.78" r="1.33"/><circle cx="137.55" cy="706.5" r="1.47"/><circle cx="159.14" cy="688.42" r="1.17"/><circle cx="161.26" cy="663.64" r="1.48"/><circle cx="145.64" cy="671.77" r="0.87"/><circle cx="146.97" cy="703.7" r="0.82"/><circle cx="139.3" cy="697.76" r="0.94"/></g><path d="M144.98,657.73 L142.77,657.77 L141.29,659.22 L140.3,659.66 L138.94,660.25 L136.82,660.97 L140.49,662.21 L139.63,663.35 L142.86,663.33 L143.83,664.36 L143.92,665.6 L142.95,668.87 L145.4,669.83 L144.92,671.23 L145.76,673.24 L144.74,675.23 L142.95,677 L140.02,676.53 L138.42,677.73 L136.65,678.5 L138.62,681.97 L139.09,684.27 L139.39,684.36 L137.7,686.34 L135.58,688.67 L135.06,689.52 L135.18,691.59 L134.53,692.17 L133.22,693.26 L133.84,696.02 L131.17,696 L131.75,698.43 L133.92,701.24 L134.23,701.85 L136.29,703.61 L138.12,704.77 L138.04,704.56 L141.32,706.89 L142.58,706.99 L143.81,708.8 L141.58,709.58 L141,710.73 L140.61,712.26 L138.23,712.8 L137.62,713.18 L135.97,714.05 L132.44,715.78 L131.17,716.37 L131.39,717.47 L128.98,718.03" fill="none" stroke="#e0ec3c" stroke-width="1.3" stroke-linejoin="round"/><path d="M182.06,657.51 L182.67,660.3 L185.34,661.88 L184.69,663.25 L186.02,665.29 L185.88,666.6 L185.19,668.29 L185.74,670.52 L183.53,672.48 L183.12,673.22 L182.1,674.46 L182.42,676.02 L179.21,677.72 L178.14,679.83 L177.25,681.77 L176.73,683.46 L177.96,684.22 L177.09,686.16 L177.01,687.98 L177.77,691.16 L179.91,693 L176.84,693.47 L178.18,694.57 L177.01,696.39 L176.94,697.42 L177.22,699.39 L176.22,700.32 L178.75,702.6 L177.8,703.91 L181.14,704.31 L181.72,704.91 L182.16,706.63 L185,706.46 L181.41,706.78 L180.84,707.9 L178.03,707.94 L177.45,709.45 L176.5,709.98 L173.46,709.91 L173.38,711.17 L172.62,712.08 L172.12,713.98 L170.26,715.29 L167.4,714.45 L166.54,715.66 L164.5,714.84 L160.77,715.24 L159.29,713.71 L157.84,715.14 L155.43,715.78 L155.11,716.54 L152.81,717.6 L152.34,718.03" fill="none" stroke="#e0ec3c" stroke-width="1.3" stroke-linejoin="round"/><g fill="none" stroke="#e0ec3c" stroke-width="0.9"><circle cx="137.6" cy="681.04" r="1.38"/><circle cx="140.59" cy="681.65" r="0.9"/><circle cx="142.63" cy="681.73" r="0.85"/><circle cx="138.23" cy="680.41" r="1.3"/><circle cx="139.15" cy="678.22" r="1.21"/><circle cx="138.31" cy="680.99" r="1.66"/><circle cx="181.57" cy="669.81" r="1.55"/><circle cx="181.67" cy="671.58" r="1.74"/><circle cx="182.99" cy="668.74" r="1.64"/><circle cx="183.8" cy="668.57" r="1.74"/><circle cx="185.28" cy="668.17" r="1.04"/><circle cx="182.68" cy="668.85" r="1.78"/><circle cx="183.56" cy="707.17" r="1.62"/><circle cx="183.97" cy="699.01" r="1.32"/><circle cx="185" cy="707.38" r="1.05"/><circle cx="179.97" cy="704.51" r="1.16"/><circle cx="180.99" cy="699.16" r="1.23"/><circle cx="180.74" cy="698.7" r="0.94"/><circle cx="185.12" cy="705.88" r="1.74"/><circle cx="181.95" cy="706.19" r="1.68"/><circle cx="184.32" cy="698.83" r="1.44"/><circle cx="178.5" cy="704.95" r="1.07"/><circle cx="181.1" cy="707.28" r="1.42"/><circle cx="161.21" cy="714.99" r="1.23"/><circle cx="171.85" cy="713.92" r="1.11"/><circle cx="167.24" cy="713.15" r="1.39"/><circle cx="171.93" cy="714.96" r="1.07"/><circle cx="164.49" cy="715.06" r="0.95"/><circle cx="159.28" cy="713.2" r="1.09"/><circle cx="163.58" cy="713.93" r="1.04"/><circle cx="158.74" cy="715.11" r="1.64"/><circle cx="166.67" cy="715.22" r="1.45"/><circle cx="141.01" cy="710.26" r="1.26"/><circle cx="142.74" cy="709.68" r="1.27"/><circle cx="141.55" cy="707.45" r="1.02"/><circle cx="142.56" cy="708.3" r="1.39"/><circle cx="140.06" cy="708.12" r="1.66"/></g></g>
<text x="121" y="710.6" font-size="11" text-anchor="start" fill="#f2f2f2" font-weight="bold" >24 hr</text>
<clipPath id="clipimg2"><rect x="248" y="657.2" width="79.6" height="59.6"/></clipPath>
<g clip-path="url(#clipimg2)"><rect x="248" y="657.2" width="79.6" height="59.6" fill="#138a13"/><g fill="#30b030" opacity="0.5"><circle cx="266.99" cy="690.38" r="0.94"/><circle cx="270.67" cy="716.06" r="0.77"/><circle cx="309.46" cy="666.65" r="0.56"/><circle cx="317.35" cy="683.42" r="0.56"/><circle cx="278.88" cy="683.42" r="1.16"/><circle cx="256.7" cy="670.62" r="1.36"/><circle cx="306.8" cy="666.41" r="0.8"/><circle cx="276.06" cy="697.45" r="1.05"/><circle cx="315.66" cy="706.14" r="0.97"/><circle cx="306.81" cy="701.5" r="1.18"/><circle cx="285.83" cy="703.98" r="1.14"/><circle cx="320.81" cy="664.79" r="1.28"/><circle cx="248.34" cy="702.83" r="1.03"/><circle cx="287.63" cy="714.58" r="1.01"/><circle cx="281.27" cy="703.91" r="1.29"/><circle cx="296.34" cy="679.82" r="0.91"/><circle cx="284.45" cy="700.29" r="0.76"/><circle cx="279.1" cy="690.3" r="0.85"/><circle cx="273.63" cy="704.11" r="1.26"/><circle cx="287.76" cy="683.66" r="0.67"/><circle cx="272.2" cy="665.84" r="1.02"/><circle cx="294.29" cy="662.44" r="1.33"/><circle cx="273.78" cy="707.47" r="1.25"/><circle cx="324.32" cy="669.38" r="0.88"/><circle cx="320.48" cy="657.84" r="0.54"/><circle cx="292.97" cy="686.84" r="1.33"/><circle cx="309.57" cy="689.29" r="1.4"/><circle cx="289.19" cy="688.03" r="1.12"/><circle cx="279.01" cy="678.52" r="1.04"/><circle cx="275.95" cy="713.69" r="1.11"/><circle cx="289.81" cy="663.1" r="0.84"/><circle cx="279.91" cy="690.66" r="1.02"/><circle cx="318.03" cy="714.68" r="0.94"/><circle cx="283.04" cy="694.43" r="1.4"/><circle cx="275.33" cy="688.8" r="1.23"/><circle cx="261.59" cy="676.16" r="1.38"/><circle cx="313.75" cy="687.75" r="0.6"/><circle cx="319.2" cy="698.32" r="1.24"/><circle cx="326.82" cy="710.13" r="0.88"/><circle cx="260.45" cy="674.48" r="0.96"/><circle cx="288.19" cy="668.41" r="0.66"/><circle cx="298.16" cy="693.15" r="0.82"/><circle cx="327.1" cy="695.14" r="0.54"/><circle cx="280.75" cy="704.14" r="0.78"/><circle cx="302.98" cy="657.43" r="0.77"/><circle cx="315.04" cy="692.14" r="1.1"/><circle cx="263.65" cy="686.87" r="1"/><circle cx="269.18" cy="695.75" r="0.98"/><circle cx="327.37" cy="691.44" r="0.87"/><circle cx="257.67" cy="666.54" r="1.18"/><circle cx="256.49" cy="663.17" r="0.65"/><circle cx="289.59" cy="706.26" r="1.05"/><circle cx="312.21" cy="660.9" r="0.51"/><circle cx="309.34" cy="676.44" r="1.14"/><circle cx="276.17" cy="667.3" r="0.74"/><circle cx="255.92" cy="711.07" r="1.02"/><circle cx="275.77" cy="684.01" r="0.85"/><circle cx="252.35" cy="710.28" r="1.02"/><circle cx="324.39" cy="683.4" r="1.06"/><circle cx="267.85" cy="659.82" r="1.34"/><circle cx="316.04" cy="675.96" r="1.31"/><circle cx="312.95" cy="675.3" r="1.04"/><circle cx="324.42" cy="686.73" r="1.35"/><circle cx="267.34" cy="680.43" r="1.15"/><circle cx="265.62" cy="675.63" r="1.29"/><circle cx="286.56" cy="704.45" r="0.72"/><circle cx="261.81" cy="678.56" r="0.67"/><circle cx="325.34" cy="674.53" r="1.01"/><circle cx="257.14" cy="689.01" r="0.85"/><circle cx="280.09" cy="661.1" r="0.61"/><circle cx="313.74" cy="678.13" r="0.72"/><circle cx="263.22" cy="674.1" r="0.71"/><circle cx="250.78" cy="696.79" r="0.81"/><circle cx="260.41" cy="699.27" r="0.58"/><circle cx="269.47" cy="706.97" r="0.62"/><circle cx="283.29" cy="707.04" r="1.22"/><circle cx="260.67" cy="678.23" r="1.15"/><circle cx="278" cy="714.32" r="0.69"/><circle cx="323.69" cy="687.29" r="0.7"/><circle cx="284.03" cy="665" r="1.14"/><circle cx="268.76" cy="710.82" r="1.03"/><circle cx="277.29" cy="671.88" r="1.05"/><circle cx="264.92" cy="709.19" r="0.61"/><circle cx="288.84" cy="689.54" r="0.74"/><circle cx="309.43" cy="680.14" r="1.09"/><circle cx="293.19" cy="675.72" r="0.85"/><circle cx="254.85" cy="667.75" r="1.27"/><circle cx="273.55" cy="696.7" r="0.6"/><circle cx="292.73" cy="678.74" r="0.95"/><circle cx="271.64" cy="661.13" r="0.78"/><circle cx="266.02" cy="664.72" r="1.15"/><circle cx="270.48" cy="681.24" r="1.32"/><circle cx="309.69" cy="709.81" r="1.28"/><circle cx="258.52" cy="673.68" r="0.53"/><circle cx="302.1" cy="696.75" r="0.82"/><circle cx="280.84" cy="696.48" r="1.13"/><circle cx="267.77" cy="707.66" r="0.82"/><circle cx="298.05" cy="668.03" r="0.6"/><circle cx="320.65" cy="700.95" r="1.14"/><circle cx="251.22" cy="659.58" r="0.65"/><circle cx="263.77" cy="675.26" r="0.84"/><circle cx="251.12" cy="675.73" r="1.07"/><circle cx="262.3" cy="707.23" r="1.01"/><circle cx="305.04" cy="672.38" r="0.89"/><circle cx="302.47" cy="678" r="0.5"/><circle cx="314.41" cy="703.48" r="0.76"/><circle cx="251.42" cy="708.11" r="1.05"/><circle cx="251.77" cy="671.77" r="0.6"/><circle cx="311" cy="669.72" r="1.32"/><circle cx="307.66" cy="662.33" r="1.13"/><circle cx="279.33" cy="701.75" r="1.25"/><circle cx="270.38" cy="662.56" r="1.35"/><circle cx="281.75" cy="712.64" r="1.12"/><circle cx="306.79" cy="706.67" r="1.07"/><circle cx="284.04" cy="660.44" r="1.13"/><circle cx="282.1" cy="687.71" r="1.34"/><circle cx="258.16" cy="702.61" r="0.54"/><circle cx="303.94" cy="705.22" r="0.74"/><circle cx="291.49" cy="714.98" r="1.07"/><circle cx="291.3" cy="672.08" r="0.55"/><circle cx="276.48" cy="681.73" r="0.68"/><circle cx="272.72" cy="665.34" r="1.14"/><circle cx="301.36" cy="671.38" r="0.72"/><circle cx="289.02" cy="683.72" r="1.34"/><circle cx="275.98" cy="675.04" r="1.3"/><circle cx="259.29" cy="690.77" r="0.8"/><circle cx="312.91" cy="689.88" r="1.18"/><circle cx="261.47" cy="696.93" r="1.04"/><circle cx="284.71" cy="702.86" r="1.25"/><circle cx="257.11" cy="674.44" r="0.82"/><circle cx="264.43" cy="660.8" r="0.75"/><circle cx="263.69" cy="699.02" r="0.9"/><circle cx="256.99" cy="676.54" r="0.92"/><circle cx="276.89" cy="667.22" r="0.56"/><circle cx="248.86" cy="716.33" r="1.18"/><circle cx="254.68" cy="699.94" r="1.38"/><circle cx="292.87" cy="663.68" r="0.94"/><circle cx="282.57" cy="668.51" r="0.99"/><circle cx="248.66" cy="712.01" r="1.08"/><circle cx="297.97" cy="712.94" r="1.09"/><circle cx="268.01" cy="671.86" r="0.62"/><circle cx="250.2" cy="703.36" r="1.26"/><circle cx="271.59" cy="668.27" r="1.07"/><circle cx="315.32" cy="712.43" r="0.65"/><circle cx="310.46" cy="706.69" r="1.17"/><circle cx="274" cy="668.2" r="1.24"/><circle cx="273.48" cy="679.16" r="1"/><circle cx="277.39" cy="706.75" r="0.72"/><circle cx="251.28" cy="690.99" r="1.07"/><circle cx="313.25" cy="699.25" r="1.31"/><circle cx="323.22" cy="686.67" r="0.95"/><circle cx="260.54" cy="675.05" r="1.02"/><circle cx="254.39" cy="698.2" r="0.65"/><circle cx="283.28" cy="715" r="0.58"/><circle cx="251.18" cy="683.39" r="0.67"/><circle cx="305.55" cy="657.37" r="1.26"/><circle cx="316.08" cy="704.1" r="0.88"/><circle cx="270.55" cy="696.63" r="0.96"/><circle cx="281.53" cy="677.38" r="0.89"/><circle cx="301.02" cy="706.43" r="1.31"/></g><g fill="#0c700c" opacity="0.5"><circle cx="261.09" cy="674.83" r="0.81"/><circle cx="292.84" cy="677.95" r="0.64"/><circle cx="254.77" cy="676.49" r="0.82"/><circle cx="325.32" cy="711.36" r="1.11"/><circle cx="325.56" cy="714.52" r="0.93"/><circle cx="312.57" cy="660.78" r="0.97"/><circle cx="296.49" cy="674.9" r="0.9"/><circle cx="323.84" cy="685.85" r="0.95"/><circle cx="271.83" cy="677.67" r="1.12"/><circle cx="250.22" cy="668.46" r="0.98"/><circle cx="283.61" cy="662.28" r="0.96"/><circle cx="277.61" cy="691.81" r="0.79"/><circle cx="290.19" cy="690.86" r="0.78"/><circle cx="257.09" cy="667.96" r="1.12"/><circle cx="291.63" cy="663.89" r="1.1"/><circle cx="268.18" cy="662.86" r="0.87"/><circle cx="268.02" cy="686.36" r="0.89"/><circle cx="266.03" cy="691.33" r="0.58"/><circle cx="288.85" cy="692.27" r="0.56"/><circle cx="280.48" cy="661.58" r="0.81"/><circle cx="316.73" cy="690.01" r="1"/><circle cx="308.25" cy="664.03" r="1.19"/><circle cx="305.44" cy="663.28" r="1.08"/><circle cx="279.2" cy="667.41" r="1.17"/><circle cx="292.82" cy="703.39" r="0.6"/><circle cx="309.78" cy="660.63" r="0.67"/><circle cx="277.64" cy="658.1" r="0.92"/><circle cx="264.97" cy="675.08" r="1"/><circle cx="281.91" cy="710.16" r="0.93"/><circle cx="317.42" cy="690.75" r="1.14"/><circle cx="317.31" cy="667.21" r="1.02"/><circle cx="275.18" cy="702.71" r="0.98"/><circle cx="313.72" cy="664.51" r="0.76"/><circle cx="306.69" cy="713.7" r="1.01"/><circle cx="251.46" cy="693.19" r="0.57"/><circle cx="291.69" cy="705.06" r="0.58"/><circle cx="321.66" cy="697.44" r="0.68"/><circle cx="263.37" cy="683.83" r="1.09"/><circle cx="294.28" cy="663.97" r="0.51"/><circle cx="256.79" cy="704.92" r="0.63"/><circle cx="292.12" cy="674.49" r="0.98"/><circle cx="278.31" cy="665.8" r="1.11"/><circle cx="290.86" cy="698.3" r="1.07"/><circle cx="323.52" cy="658.02" r="0.74"/><circle cx="260.01" cy="687.11" r="1.11"/><circle cx="311.72" cy="659.31" r="0.63"/><circle cx="313.14" cy="697.7" r="0.77"/><circle cx="285.87" cy="666.63" r="1.09"/><circle cx="279.32" cy="709.23" r="0.93"/><circle cx="254.04" cy="676.82" r="0.65"/><circle cx="319.16" cy="692.32" r="0.53"/><circle cx="261.51" cy="678.71" r="0.83"/><circle cx="293.93" cy="680.32" r="0.75"/><circle cx="248.48" cy="691.72" r="0.73"/><circle cx="249.63" cy="684.58" r="1.19"/><circle cx="251.61" cy="665.89" r="0.97"/><circle cx="269.7" cy="673.49" r="0.85"/><circle cx="268.86" cy="691.11" r="0.87"/><circle cx="324.17" cy="716.33" r="0.52"/><circle cx="292.63" cy="703.15" r="1.11"/><circle cx="309.63" cy="694.93" r="0.94"/><circle cx="276.89" cy="673.98" r="1.06"/><circle cx="317.48" cy="713.14" r="0.98"/><circle cx="272.2" cy="702.69" r="1.02"/><circle cx="288.51" cy="695.06" r="0.75"/><circle cx="291.84" cy="681.4" r="0.54"/><circle cx="274.84" cy="676.46" r="1.19"/><circle cx="286.32" cy="679.09" r="0.67"/><circle cx="266.69" cy="678.01" r="0.59"/><circle cx="248.58" cy="709.11" r="0.82"/><circle cx="283.46" cy="691.1" r="0.71"/><circle cx="261.45" cy="661.15" r="0.71"/><circle cx="272.56" cy="700.51" r="0.89"/><circle cx="322.62" cy="677.49" r="1.14"/><circle cx="294.43" cy="661.97" r="0.63"/><circle cx="294.21" cy="716.05" r="0.75"/><circle cx="309.65" cy="682.72" r="1.11"/><circle cx="253.39" cy="686.08" r="1.13"/><circle cx="269.96" cy="672.55" r="0.52"/><circle cx="261.1" cy="673.18" r="0.99"/><circle cx="265.38" cy="681.01" r="0.64"/><circle cx="295.99" cy="708.7" r="0.95"/><circle cx="263.66" cy="700.94" r="1.17"/><circle cx="295.84" cy="661.93" r="1.07"/><circle cx="317.69" cy="677.53" r="0.6"/><circle cx="262.98" cy="689.2" r="1.11"/><circle cx="298.94" cy="712.2" r="0.65"/><circle cx="274.01" cy="701.86" r="0.95"/><circle cx="280.26" cy="697.67" r="0.74"/><circle cx="252.57" cy="681.89" r="0.53"/></g><path d="M265,656.91 L265.01,659.26 L264.74,660.99 L264.45,663.65 L266.23,665.69 L265.46,666.77 L267.75,667.99 L266.67,669.39 L267.35,672 L267.77,673.74 L268.08,674.98 L267.96,676.67 L267.58,678.4 L266.18,680.29 L265.43,681.9 L266.47,683.67 L265.01,685.33 L266.47,686.49 L264.37,688.27 L265.82,689.32 L263.12,691.52 L264.52,693.65 L263.48,695.65 L262.86,696.95 L262.22,697.48 L262.57,699.38 L263.75,702 L263.15,704.45 L263.86,705.07 L263.6,707.84 L265.77,708.79 L264.49,711.13 L266.09,712.84 L267.79,713.69 L268.43,715.33 L270.4,714.31 L273.21,713.69 L274.43,713.35 L275.87,713.6 L278.1,712.79 L278.99,714 L281.58,715.5 L282.48,715.04 L283.17,715.77 L285.48,716.8 L313.22,716.8 L312.3,715.42 L314.46,714.06 L312.98,712.27 L313.55,709.57 L314.77,708.16 L315.84,706.28 L313.7,705.14 L314.31,704.06 L315.19,701.46 L316.97,699.73 L315.52,698.09 L316.95,699.65 L318.04,701.97 L317.31,703.27 L317.97,704.63 L316.7,706.44 L318.52,707.51 L318.79,709.17 L316.06,709.2 L314.76,710.14 L314.61,710.74 L313.64,712.29 L310.45,711.84 L309.25,713.53 L306.66,713.25 L307.83,711.86 L307.23,709.69 L306.1,708.12 L305.79,706.43 L306.34,704.79 L306.17,703.48 L305.26,701.63 L306.97,700.88 L307.86,699.61 L311.2,698.51 L311.08,696.88 L315.14,697.12 L317.08,695.78 L314.53,693.61 L314.34,692.56 L315.42,690.06 L315.48,688.56 L315.24,686.75 L312.38,685.33 L314.5,684.03 L312.95,683.25 L315.05,681.59 L315.88,679.14 L316.43,677.24 L315.87,676.15 L316.24,674.56 L316.55,672.26 L314.86,671.15 L315.91,669.21 L314.23,668.33 L315.55,666.89 L314.51,663.95 L315.34,662.21 L314.14,660.51 L312.72,659.4 L313.05,656.74Z" fill="#075807"/><g fill="#1a7a1a" opacity="0.7"><circle cx="279.09" cy="694.25" r="1.18"/><circle cx="278.65" cy="710.39" r="0.8"/><circle cx="300.01" cy="704.53" r="1.16"/><circle cx="292.38" cy="711.54" r="0.96"/><circle cx="294.22" cy="699.07" r="1.07"/><circle cx="298.32" cy="681.72" r="1.17"/><circle cx="293.4" cy="695.79" r="1.03"/><circle cx="294.19" cy="689.14" r="0.96"/></g><path d="M265,656.91 L265.01,659.26 L264.74,660.99 L264.45,663.65 L266.23,665.69 L265.46,666.77 L267.75,667.99 L266.67,669.39 L267.35,672 L267.77,673.74 L268.08,674.98 L267.96,676.67 L267.58,678.4 L266.18,680.29 L265.43,681.9 L266.47,683.67 L265.01,685.33 L266.47,686.49 L264.37,688.27 L265.82,689.32 L263.12,691.52 L264.52,693.65 L263.48,695.65 L262.86,696.95 L262.22,697.48 L262.57,699.38 L263.75,702 L263.15,704.45 L263.86,705.07 L263.6,707.84 L265.77,708.79 L264.49,711.13 L266.09,712.84 L267.79,713.69 L268.43,715.33 L270.4,714.31 L273.21,713.69 L274.43,713.35 L275.87,713.6 L278.1,712.79 L278.99,714 L281.58,715.5 L282.48,715.04 L283.17,715.77 L285.48,716.8" fill="none" stroke="#e0ec3c" stroke-width="1.3" stroke-linejoin="round"/><path d="M313.05,656.74 L312.72,659.4 L314.14,660.51 L315.34,662.21 L314.51,663.95 L315.55,666.89 L314.23,668.33 L315.91,669.21 L314.86,671.15 L316.55,672.26 L316.24,674.56 L315.87,676.15 L316.43,677.24 L315.88,679.14 L315.05,681.59 L312.95,683.25 L314.5,684.03 L312.38,685.33 L315.24,686.75 L315.48,688.56 L315.42,690.06 L314.34,692.56 L314.53,693.61 L317.08,695.78 L315.14,697.12 L311.08,696.88 L311.2,698.51 L307.86,699.61 L306.97,700.88 L305.26,701.63 L306.17,703.48 L306.34,704.79 L305.79,706.43 L306.1,708.12 L307.23,709.69 L307.83,711.86 L306.66,713.25 L309.25,713.53 L310.45,711.84 L313.64,712.29 L314.61,710.74 L314.76,710.14 L316.06,709.2 L318.79,709.17 L318.52,707.51 L316.7,706.44 L317.97,704.63 L317.31,703.27 L318.04,701.97 L316.95,699.65 L315.52,698.09 L316.97,699.73 L315.19,701.46 L314.31,704.06 L313.7,705.14 L315.84,706.28 L314.77,708.16 L313.55,709.57 L312.98,712.27 L314.46,714.06 L312.3,715.42 L313.22,716.8" fill="none" stroke="#e0ec3c" stroke-width="1.3" stroke-linejoin="round"/><g fill="none" stroke="#e0ec3c" stroke-width="0.9"><circle cx="312.87" cy="700.57" r="1.71"/><circle cx="310.74" cy="709.47" r="1.32"/><circle cx="310.79" cy="699.71" r="0.94"/><circle cx="317.69" cy="705.71" r="1.32"/><circle cx="311.57" cy="711.26" r="1.04"/><circle cx="306.14" cy="711.43" r="1.26"/><circle cx="313.3" cy="711.54" r="1.69"/><circle cx="316.78" cy="696.24" r="1.18"/><circle cx="316.23" cy="711.35" r="0.92"/><circle cx="305.85" cy="700.3" r="0.9"/><circle cx="308.96" cy="711.06" r="1.32"/><circle cx="310.43" cy="697.12" r="1.2"/><circle cx="318.75" cy="708.95" r="1.25"/><circle cx="310.82" cy="710.97" r="1.56"/><circle cx="305.79" cy="708.66" r="1.17"/><circle cx="311.47" cy="700.03" r="1.17"/><circle cx="308.7" cy="702.83" r="0.82"/><circle cx="306.57" cy="706.53" r="0.86"/><circle cx="306.23" cy="709.4" r="1.07"/><circle cx="308.46" cy="700.12" r="1.63"/><circle cx="304.9" cy="707.8" r="1.66"/><circle cx="306.59" cy="703.65" r="1.59"/><circle cx="312.95" cy="702.65" r="0.84"/><circle cx="310.27" cy="702.56" r="1.51"/><circle cx="308.02" cy="703.35" r="1.45"/><circle cx="315.91" cy="702.27" r="1.19"/><circle cx="312.35" cy="713.43" r="0.99"/><circle cx="318.36" cy="709.28" r="1.17"/><circle cx="313.68" cy="701.82" r="0.87"/><circle cx="315.07" cy="702.8" r="1.33"/><circle cx="262.95" cy="716.42" r="1.56"/><circle cx="256.36" cy="715.25" r="1.26"/><circle cx="262.47" cy="716.19" r="1.21"/><circle cx="262.63" cy="716.38" r="1.24"/><circle cx="262.88" cy="714.94" r="1.62"/><circle cx="265.39" cy="715.81" r="1.2"/><circle cx="256.57" cy="715.58" r="1.35"/></g></g>
<text x="249.5" y="709.5" font-size="11" text-anchor="start" fill="#f2f2f2" font-weight="bold" >0 hr</text>
<clipPath id="clipimg3"><rect x="342" y="657.5" width="81.7" height="60.8"/></clipPath>
<g clip-path="url(#clipimg3)"><rect x="342" y="657.5" width="81.7" height="60.8" fill="#117811"/><g fill="#30b030" opacity="0.5"><circle cx="404.85" cy="704.31" r="0.61"/><circle cx="360.03" cy="662.19" r="1.24"/><circle cx="350.31" cy="662.87" r="1.18"/><circle cx="388.11" cy="660.84" r="1.11"/><circle cx="400.09" cy="686.85" r="0.55"/><circle cx="398.46" cy="682.91" r="1.03"/><circle cx="423.54" cy="707.16" r="1.28"/><circle cx="353.89" cy="677.83" r="0.97"/><circle cx="342.49" cy="717.61" r="0.75"/><circle cx="363.43" cy="676.53" r="0.73"/><circle cx="412.17" cy="691.29" r="0.96"/><circle cx="376.33" cy="660.61" r="0.77"/><circle cx="412.82" cy="706.26" r="1.27"/><circle cx="363" cy="669.78" r="0.55"/><circle cx="385.86" cy="680.23" r="0.92"/><circle cx="381.95" cy="692.99" r="0.83"/><circle cx="407.48" cy="669.68" r="1.33"/><circle cx="387.44" cy="660.61" r="0.78"/><circle cx="385.55" cy="682.36" r="1.01"/><circle cx="368.43" cy="674.13" r="1.22"/><circle cx="365.82" cy="700.7" r="1.22"/><circle cx="390.37" cy="685.14" r="1.34"/><circle cx="378.35" cy="710.89" r="0.55"/><circle cx="377.43" cy="696.37" r="0.54"/><circle cx="412.48" cy="661.87" r="1.04"/><circle cx="356.72" cy="713.58" r="1"/><circle cx="407.42" cy="687.79" r="1.11"/><circle cx="397.14" cy="675.43" r="0.69"/><circle cx="410.49" cy="666.36" r="1.33"/><circle cx="358.9" cy="663.63" r="0.59"/><circle cx="406.07" cy="715.31" r="0.87"/><circle cx="395.83" cy="673.16" r="1.32"/><circle cx="398.04" cy="666.91" r="0.55"/><circle cx="398.84" cy="660.04" r="1.25"/><circle cx="365.99" cy="671.65" r="1.02"/><circle cx="368.04" cy="691.58" r="0.64"/><circle cx="416.5" cy="677.22" r="1.26"/><circle cx="354.41" cy="706.1" r="1.38"/><circle cx="373.99" cy="659.5" r="0.84"/><circle cx="394.35" cy="671.08" r="0.99"/><circle cx="349.65" cy="685.74" r="1.16"/><circle cx="377.12" cy="698.78" r="0.6"/><circle cx="409.69" cy="664.93" r="1.33"/><circle cx="423.38" cy="714.62" r="0.97"/><circle cx="365.75" cy="678.66" r="1.18"/><circle cx="382.57" cy="714.03" r="0.58"/><circle cx="381.6" cy="710.03" r="1.04"/><circle cx="386.18" cy="662.88" r="0.63"/><circle cx="364.15" cy="711.8" r="1.26"/><circle cx="360.56" cy="713.72" r="0.53"/><circle cx="390.92" cy="716.32" r="0.81"/><circle cx="419.16" cy="697.42" r="0.55"/><circle cx="369.22" cy="684.84" r="0.72"/><circle cx="402.65" cy="668.37" r="1.21"/><circle cx="366.37" cy="661.72" r="1"/><circle cx="349.82" cy="691.04" r="1.21"/><circle cx="390.66" cy="685.55" r="0.53"/><circle cx="383.94" cy="663.41" r="1.08"/><circle cx="352.78" cy="692.64" r="0.82"/><circle cx="372.61" cy="697.82" r="0.65"/><circle cx="355.86" cy="714.75" r="0.8"/><circle cx="410.82" cy="710.6" r="0.93"/><circle cx="354.18" cy="663.22" r="1.29"/><circle cx="351.56" cy="687.66" r="0.98"/><circle cx="351.61" cy="685.94" r="0.65"/><circle cx="385.75" cy="688.31" r="0.83"/><circle cx="358.15" cy="682.05" r="0.68"/><circle cx="352.39" cy="672.08" r="1.28"/><circle cx="383" cy="711.65" r="0.51"/><circle cx="419.07" cy="687.19" r="1.21"/><circle cx="388.6" cy="699.39" r="0.71"/><circle cx="403.28" cy="666.84" r="0.74"/><circle cx="344.53" cy="681.41" r="0.97"/><circle cx="365.85" cy="711.64" r="0.58"/><circle cx="389.26" cy="671.72" r="1.04"/><circle cx="406.05" cy="700.72" r="0.56"/><circle cx="362.08" cy="693.93" r="1.38"/><circle cx="345.37" cy="695.09" r="1.12"/><circle cx="408.56" cy="678.3" r="1.23"/><circle cx="379.73" cy="713.49" r="0.51"/><circle cx="418.82" cy="682.55" r="0.87"/><circle cx="349.19" cy="672.39" r="1.16"/><circle cx="397.46" cy="666.7" r="0.81"/><circle cx="353.47" cy="669.55" r="0.7"/><circle cx="369.05" cy="716.84" r="1.4"/><circle cx="406.67" cy="686.67" r="0.95"/><circle cx="405.67" cy="712.71" r="1.18"/><circle cx="393.99" cy="669.6" r="1.06"/><circle cx="411.1" cy="705.33" r="0.58"/><circle cx="400.62" cy="678.73" r="0.65"/><circle cx="420.9" cy="698.4" r="1.17"/><circle cx="353.02" cy="707.87" r="1.34"/><circle cx="415.92" cy="702.79" r="1.25"/><circle cx="407.54" cy="693.4" r="0.89"/><circle cx="409.42" cy="705.19" r="1.28"/><circle cx="366.43" cy="715.92" r="0.98"/><circle cx="419.28" cy="664.54" r="1.37"/><circle cx="406.34" cy="672.82" r="1.25"/><circle cx="360.96" cy="669.54" r="0.91"/><circle cx="361.33" cy="687.45" r="1.32"/><circle cx="397.99" cy="700.69" r="0.85"/><circle cx="406.04" cy="705.75" r="1.11"/><circle cx="418.94" cy="707.71" r="0.87"/><circle cx="349.12" cy="697.17" r="1.25"/><circle cx="369.74" cy="693.67" r="1.25"/><circle cx="406.78" cy="657.77" r="0.94"/><circle cx="343.34" cy="664.22" r="1.23"/><circle cx="376.2" cy="694.27" r="0.91"/><circle cx="369.4" cy="670.49" r="0.82"/><circle cx="411" cy="695.15" r="0.76"/><circle cx="349.19" cy="673.98" r="1.13"/><circle cx="378.11" cy="697.69" r="1.23"/><circle cx="351.86" cy="699.02" r="0.54"/><circle cx="409.23" cy="668.69" r="0.74"/><circle cx="420.24" cy="679.53" r="0.7"/><circle cx="414.7" cy="694.6" r="1.3"/><circle cx="374.22" cy="687.88" r="1.36"/><circle cx="383.4" cy="717.6" r="0.67"/><circle cx="409.86" cy="667.36" r="0.97"/><circle cx="342.03" cy="668.16" r="1.35"/><circle cx="379.14" cy="706.71" r="0.73"/><circle cx="370.78" cy="663.64" r="1"/><circle cx="412.45" cy="688.74" r="0.84"/><circle cx="417.87" cy="711.84" r="1.1"/><circle cx="348.2" cy="695.44" r="0.9"/><circle cx="420.26" cy="679.5" r="1.1"/><circle cx="393.63" cy="680.35" r="0.97"/><circle cx="397.27" cy="712.66" r="0.95"/><circle cx="371.72" cy="716.85" r="0.55"/><circle cx="410.2" cy="699.06" r="1"/><circle cx="378.58" cy="703.17" r="1.3"/><circle cx="401.55" cy="703.09" r="0.53"/><circle cx="368.57" cy="665.83" r="1.36"/><circle cx="414.83" cy="666.29" r="1.03"/><circle cx="389.12" cy="660.34" r="0.85"/><circle cx="403.06" cy="696.5" r="0.75"/><circle cx="404.29" cy="675.2" r="0.99"/><circle cx="376.37" cy="716.97" r="1.08"/><circle cx="407.76" cy="698.63" r="0.84"/><circle cx="420.68" cy="700.65" r="1.12"/><circle cx="364.67" cy="667.34" r="1.02"/><circle cx="409.47" cy="705.75" r="0.81"/><circle cx="353.43" cy="688.87" r="1.29"/><circle cx="355.25" cy="702.39" r="0.65"/><circle cx="367.49" cy="660.75" r="0.77"/><circle cx="373.29" cy="716.29" r="1.37"/><circle cx="357.29" cy="676.31" r="1.35"/><circle cx="358.12" cy="677.01" r="0.89"/><circle cx="350.86" cy="673.32" r="0.85"/><circle cx="373.5" cy="716.09" r="0.74"/><circle cx="358.66" cy="712.75" r="0.91"/><circle cx="410.39" cy="696.24" r="1.2"/><circle cx="367.72" cy="666.75" r="1.18"/><circle cx="380.42" cy="691.47" r="1.1"/><circle cx="403.49" cy="674.24" r="0.83"/><circle cx="416.96" cy="689.68" r="0.76"/><circle cx="393.49" cy="673.29" r="1.19"/><circle cx="345.38" cy="707.76" r="1.01"/><circle cx="370.89" cy="714.65" r="0.74"/><circle cx="361.88" cy="661.75" r="0.99"/></g><g fill="#0c700c" opacity="0.5"><circle cx="403.58" cy="698.73" r="0.79"/><circle cx="407.99" cy="664.27" r="0.71"/><circle cx="394.68" cy="716.31" r="0.94"/><circle cx="398.54" cy="704.6" r="0.78"/><circle cx="418.83" cy="702.64" r="0.74"/><circle cx="374.07" cy="706.49" r="0.74"/><circle cx="357.17" cy="710.49" r="0.87"/><circle cx="384.58" cy="698.2" r="1.13"/><circle cx="352.91" cy="678.09" r="0.55"/><circle cx="375.76" cy="688.03" r="1.1"/><circle cx="396.56" cy="692.63" r="0.78"/><circle cx="388.87" cy="674.15" r="1.09"/><circle cx="406.42" cy="708.47" r="0.61"/><circle cx="396.87" cy="703.35" r="0.85"/><circle cx="415.39" cy="712.15" r="1.02"/><circle cx="409.07" cy="696.95" r="1.12"/><circle cx="352.73" cy="700.31" r="0.99"/><circle cx="392.03" cy="674.22" r="0.55"/><circle cx="391.29" cy="707.61" r="0.69"/><circle cx="359.41" cy="671.11" r="0.57"/><circle cx="397.23" cy="716.77" r="1.06"/><circle cx="371.39" cy="700.03" r="0.55"/><circle cx="410.51" cy="677.27" r="0.5"/><circle cx="393.41" cy="665.94" r="0.69"/><circle cx="346.83" cy="684.6" r="0.89"/><circle cx="407.96" cy="659.91" r="1.08"/><circle cx="351.03" cy="671.15" r="0.94"/><circle cx="369.79" cy="677.63" r="0.9"/><circle cx="359.8" cy="705.74" r="0.65"/><circle cx="410.58" cy="706.67" r="0.88"/><circle cx="344.49" cy="704.81" r="0.52"/><circle cx="383.23" cy="683.27" r="0.54"/><circle cx="393.47" cy="701.55" r="0.91"/><circle cx="374.69" cy="688.63" r="0.91"/><circle cx="360.49" cy="710.25" r="1.2"/><circle cx="407.7" cy="715.95" r="0.73"/><circle cx="422.58" cy="661.84" r="0.83"/><circle cx="352.93" cy="685.1" r="0.98"/><circle cx="399.88" cy="685.14" r="0.74"/><circle cx="357.52" cy="681.99" r="0.7"/><circle cx="357.87" cy="702.25" r="0.86"/><circle cx="377.83" cy="669.52" r="0.99"/><circle cx="358.07" cy="673.65" r="0.89"/><circle cx="399.29" cy="716.66" r="1.02"/><circle cx="419.48" cy="713.43" r="1.01"/><circle cx="400.78" cy="661.31" r="0.64"/><circle cx="343.06" cy="710" r="1.01"/><circle cx="393.49" cy="673.54" r="0.75"/><circle cx="355.37" cy="695.94" r="1.19"/><circle cx="366.98" cy="660.19" r="0.62"/><circle cx="371.02" cy="712.16" r="1.06"/><circle cx="379.18" cy="663.71" r="0.57"/><circle cx="354.57" cy="704.77" r="0.83"/><circle cx="422.93" cy="712.93" r="1.06"/><circle cx="380.91" cy="707.47" r="0.59"/><circle cx="350.89" cy="691.76" r="0.86"/><circle cx="359.1" cy="672.82" r="0.51"/><circle cx="416.25" cy="700.68" r="1.16"/><circle cx="422.11" cy="684.05" r="1.01"/><circle cx="373.39" cy="706.86" r="1.09"/><circle cx="352.93" cy="658.28" r="0.65"/><circle cx="389.82" cy="680.54" r="0.51"/><circle cx="409.84" cy="705.29" r="0.82"/><circle cx="345.53" cy="711.55" r="0.87"/><circle cx="347.8" cy="677.16" r="0.94"/><circle cx="414.33" cy="686.96" r="0.95"/><circle cx="358.81" cy="672.3" r="1.13"/><circle cx="373.26" cy="663.82" r="0.91"/><circle cx="352.31" cy="669.65" r="0.82"/><circle cx="389.84" cy="696.19" r="0.99"/><circle cx="377.92" cy="661.61" r="1.01"/><circle cx="346.39" cy="686.12" r="0.78"/><circle cx="396.98" cy="700.9" r="0.67"/><circle cx="395.07" cy="699.58" r="0.83"/><circle cx="353.58" cy="712.77" r="0.92"/><circle cx="347.13" cy="672.01" r="1.19"/><circle cx="360.69" cy="681.35" r="1.05"/><circle cx="409.31" cy="696.04" r="1.02"/><circle cx="345.13" cy="663.2" r="1.18"/><circle cx="407.58" cy="659.81" r="0.53"/><circle cx="361.64" cy="714.09" r="0.65"/><circle cx="396.89" cy="714.07" r="0.95"/><circle cx="417.11" cy="673.49" r="0.61"/><circle cx="343.49" cy="703.53" r="0.57"/><circle cx="421.51" cy="700.67" r="0.63"/><circle cx="407.94" cy="667.4" r="0.86"/><circle cx="350.64" cy="705.35" r="1.12"/><circle cx="416.87" cy="657.64" r="1.1"/><circle cx="387.42" cy="707.44" r="0.85"/><circle cx="392.64" cy="693.65" r="1.06"/></g><path d="M374.45,656.82 L376.25,658.95 L376.45,660.26 L377.94,662.03 L376.41,663.26 L373.69,662.19 L372.44,662.32 L370.11,662.17 L369.78,662.67 L366.41,661.79 L365.64,662.8 L364.19,661.45 L361.19,661.59 L361.34,663.54 L360.06,667.03 L360.92,667.26 L359.55,669.18 L361.6,671.69 L361.59,673.22 L363.05,674.04 L365.42,675.1 L367.4,675.5 L369.18,676.88 L369.98,676.93 L371.2,679.53 L371.87,680.88 L371.8,682.74 L373.06,684.12 L373.16,685.24 L371.87,686.15 L369.68,687.21 L370.45,688.42 L368.79,689.46 L369.2,691.58 L369.64,692.21 L368.99,694.17 L369.05,695.64 L371.74,698.47 L370.72,699.99 L372.32,701.93 L372.81,703.12 L371.31,705.33 L372.15,706.77 L372.58,708.38 L375.01,709.55 L374.75,712.06 L375.65,714.26 L376.19,715.98 L378.23,717.55 L379.05,718.31 L382.56,718.31 L384.37,717.4 L385.42,717.49 L386.87,717.84 L389.21,717.43 L390.36,716.64 L391.81,715.3 L394.1,712.9 L396.97,712.52 L399.58,711.06 L399.15,709.45 L399.97,707.83 L399.44,706.71 L399.55,704.29 L396.7,702.59 L397.89,700.97 L396.91,700.62 L395.38,698.55 L393.93,697.08 L393.32,695.82 L391.91,693.68 L390.93,692.47 L390.81,690.66 L391.36,688.43 L392.48,687.72 L395.17,685.84 L393.81,683.79 L395.34,681.49 L395.45,679.54 L396.76,677.86 L398.23,677.09 L398.91,675.28 L400.58,673.51 L399.32,671.16 L400.02,670.08 L401.76,667.65 L404.22,666.67 L405.38,665.26 L405.37,663.55 L408.08,663.1 L407.57,660.65 L407.41,659.91 L406.02,657.07Z" fill="#0a6a0a"/><g fill="#1a7a1a" opacity="0.7"><circle cx="369.84" cy="702.94" r="1"/><circle cx="376.69" cy="701.35" r="0.96"/><circle cx="367.03" cy="673.63" r="1.07"/><circle cx="375.89" cy="695.08" r="1.13"/><circle cx="401.96" cy="665.07" r="1.26"/><circle cx="400.24" cy="674.43" r="0.82"/><circle cx="379.66" cy="668.38" r="1.12"/><circle cx="393.79" cy="667.26" r="0.88"/></g><path d="M374.45,656.82 L376.25,658.95 L376.45,660.26 L377.94,662.03 L376.41,663.26 L373.69,662.19 L372.44,662.32 L370.11,662.17 L369.78,662.67 L366.41,661.79 L365.64,662.8 L364.19,661.45 L361.19,661.59 L361.34,663.54 L360.06,667.03 L360.92,667.26 L359.55,669.18 L361.6,671.69 L361.59,673.22 L363.05,674.04 L365.42,675.1 L367.4,675.5 L369.18,676.88 L369.98,676.93 L371.2,679.53 L371.87,680.88 L371.8,682.74 L373.06,684.12 L373.16,685.24 L371.87,686.15 L369.68,687.21 L370.45,688.42 L368.79,689.46 L369.2,691.58 L369.64,692.21 L368.99,694.17 L369.05,695.64 L371.74,698.47 L370.72,699.99 L372.32,701.93 L372.81,703.12 L371.31,705.33 L372.15,706.77 L372.58,708.38 L375.01,709.55 L374.75,712.06 L375.65,714.26 L376.19,715.98 L378.23,717.55 L379.05,718.31" fill="none" stroke="#e0ec3c" stroke-width="1.3" stroke-linejoin="round"/><path d="M406.02,657.07 L407.41,659.91 L407.57,660.65 L408.08,663.1 L405.37,663.55 L405.38,665.26 L404.22,666.67 L401.76,667.65 L400.02,670.08 L399.32,671.16 L400.58,673.51 L398.91,675.28 L398.23,677.09 L396.76,677.86 L395.45,679.54 L395.34,681.49 L393.81,683.79 L395.17,685.84 L392.48,687.72 L391.36,688.43 L390.81,690.66 L390.93,692.47 L391.91,693.68 L393.32,695.82 L393.93,697.08 L395.38,698.55 L396.91,700.62 L397.89,700.97 L396.7,702.59 L399.55,704.29 L399.44,706.71 L399.97,707.83 L399.15,709.45 L399.58,711.06 L396.97,712.52 L394.1,712.9 L391.81,715.3 L390.36,716.64 L389.21,717.43 L386.87,717.84 L385.42,717.49 L384.37,717.4 L382.56,718.31" fill="none" stroke="#e0ec3c" stroke-width="1.3" stroke-linejoin="round"/><g fill="none" stroke="#e0ec3c" stroke-width="0.9"><circle cx="368.19" cy="663.43" r="1.03"/><circle cx="367.5" cy="662.66" r="0.87"/><circle cx="366.12" cy="667.57" r="1.74"/><circle cx="369.51" cy="662" r="1.02"/><circle cx="372.82" cy="668.88" r="1.67"/><circle cx="376.64" cy="673.01" r="0.91"/><circle cx="376.31" cy="668.35" r="1.04"/><circle cx="362.79" cy="673.11" r="1.01"/><circle cx="361.25" cy="664.71" r="1.72"/><circle cx="367.87" cy="671.24" r="0.87"/><circle cx="367.73" cy="665.45" r="1.01"/><circle cx="371.4" cy="666.06" r="0.92"/><circle cx="377.02" cy="667.74" r="0.98"/><circle cx="359.99" cy="670.14" r="1.31"/><circle cx="360.23" cy="667.58" r="1.54"/><circle cx="369.2" cy="664.28" r="1.3"/><circle cx="370.39" cy="670.12" r="0.95"/><circle cx="373.86" cy="674.24" r="1.54"/><circle cx="374.8" cy="666.15" r="1.7"/><circle cx="362.98" cy="664.18" r="1.4"/><circle cx="375.58" cy="662.15" r="1.02"/><circle cx="360.43" cy="667.15" r="0.94"/><circle cx="363.15" cy="671.49" r="1.38"/><circle cx="376.24" cy="666.63" r="1.48"/><circle cx="360.02" cy="674.28" r="1.03"/><circle cx="387.16" cy="715.07" r="1.75"/><circle cx="387.38" cy="717.95" r="1.42"/><circle cx="383.25" cy="717" r="1"/><circle cx="394.99" cy="714.74" r="1.03"/><circle cx="394.42" cy="713.93" r="1.21"/><circle cx="385.15" cy="716.01" r="0.82"/><circle cx="385.61" cy="712.97" r="1.63"/><circle cx="380" cy="715.65" r="1.06"/><circle cx="386.81" cy="715.37" r="1.51"/><circle cx="382.07" cy="713.44" r="0.92"/><circle cx="394.4" cy="712.89" r="0.94"/><circle cx="413.13" cy="663.49" r="1.69"/><circle cx="410.34" cy="661.41" r="0.97"/><circle cx="413.51" cy="662.71" r="1.21"/><circle cx="415.33" cy="663.97" r="1.66"/><circle cx="415.74" cy="661.61" r="1.74"/><circle cx="412.45" cy="660.31" r="1.71"/></g></g>
<text x="343.5" y="711" font-size="11" text-anchor="start" fill="#f2f2f2" font-weight="bold" >24 hr</text>
<clipPath id="clipimg4"><rect x="25.1" y="748.9" width="79.1" height="60.4"/></clipPath>
<g clip-path="url(#clipimg4)"><rect x="25.1" y="748.9" width="79.1" height="60.4" fill="#138a13"/><g fill="#30b030" opacity="0.5"><circle cx="33.33" cy="749.96" r="0.76"/><circle cx="47.96" cy="807.3" r="1.28"/><circle cx="58.33" cy="780.87" r="1.26"/><circle cx="88.94" cy="788.37" r="0.96"/><circle cx="34.32" cy="763.62" r="1.09"/><circle cx="71.48" cy="797.28" r="1.31"/><circle cx="101.22" cy="760.54" r="0.57"/><circle cx="96.1" cy="783.35" r="0.66"/><circle cx="79.85" cy="764.34" r="0.71"/><circle cx="54.07" cy="780.54" r="1.11"/><circle cx="30.91" cy="793.67" r="1.06"/><circle cx="62.41" cy="789.5" r="1.22"/><circle cx="25.86" cy="777.61" r="1.11"/><circle cx="81.19" cy="788.01" r="0.66"/><circle cx="100.92" cy="796.36" r="0.71"/><circle cx="59.16" cy="806.76" r="0.69"/><circle cx="57.46" cy="806.98" r="1.31"/><circle cx="43.49" cy="793.31" r="0.82"/><circle cx="77.57" cy="795.22" r="0.61"/><circle cx="42.71" cy="761.88" r="0.74"/><circle cx="27.92" cy="757.11" r="0.87"/><circle cx="58.38" cy="753.6" r="1.02"/><circle cx="99.64" cy="783.75" r="0.82"/><circle cx="80.82" cy="775.31" r="0.66"/><circle cx="63.2" cy="749.96" r="1.11"/><circle cx="37.83" cy="771.23" r="1.37"/><circle cx="85.75" cy="799.37" r="1.08"/><circle cx="75.3" cy="791.48" r="1.37"/><circle cx="40.63" cy="795.18" r="0.77"/><circle cx="45.33" cy="798.52" r="1.04"/><circle cx="92.31" cy="801.76" r="1.03"/><circle cx="40.79" cy="749.81" r="0.98"/><circle cx="82.5" cy="765.36" r="0.56"/><circle cx="25.48" cy="759.36" r="1.13"/><circle cx="25.41" cy="762.79" r="0.74"/><circle cx="81.35" cy="808.53" r="0.52"/><circle cx="34.14" cy="805.35" r="1.37"/><circle cx="36.86" cy="769.16" r="0.97"/><circle cx="50.42" cy="774.11" r="0.93"/><circle cx="45.55" cy="752.22" r="0.58"/><circle cx="37.95" cy="754.42" r="1.06"/><circle cx="80.2" cy="764.78" r="1.21"/><circle cx="82.75" cy="769.54" r="0.94"/><circle cx="40" cy="805.01" r="1"/><circle cx="29.15" cy="758.2" r="1.12"/><circle cx="55.57" cy="792.21" r="0.71"/><circle cx="88.15" cy="797.34" r="0.58"/><circle cx="71.47" cy="760.45" r="1.14"/><circle cx="88.7" cy="796.69" r="0.71"/><circle cx="32.48" cy="788.97" r="1.01"/><circle cx="36.03" cy="760.54" r="1.02"/><circle cx="33.63" cy="787.19" r="0.72"/><circle cx="45.55" cy="774.48" r="0.98"/><circle cx="82.4" cy="750.77" r="1.15"/><circle cx="42.58" cy="766.46" r="1.08"/><circle cx="79.77" cy="786.03" r="1.31"/><circle cx="41.29" cy="767.69" r="1.1"/><circle cx="45.73" cy="758.4" r="0.7"/><circle cx="86.11" cy="798.85" r="1.14"/><circle cx="100.93" cy="796.88" r="0.78"/><circle cx="50.05" cy="792.46" r="0.55"/><circle cx="73.29" cy="754.28" r="0.54"/><circle cx="65.74" cy="758.04" r="1.34"/><circle cx="94.49" cy="776.79" r="0.68"/><circle cx="34.56" cy="779.51" r="0.97"/><circle cx="53.8" cy="792.17" r="0.98"/><circle cx="86.44" cy="755.32" r="0.56"/><circle cx="55.71" cy="778.11" r="0.73"/><circle cx="77.98" cy="762.3" r="0.79"/><circle cx="62.82" cy="791.93" r="1.19"/><circle cx="54.5" cy="775.89" r="1.33"/><circle cx="98.97" cy="786.27" r="0.59"/><circle cx="61.15" cy="787.36" r="0.75"/><circle cx="28.06" cy="808.16" r="1.32"/><circle cx="35.3" cy="777.04" r="1.06"/><circle cx="48.83" cy="753.04" r="1.18"/><circle cx="86.07" cy="775.32" r="0.58"/><circle cx="56.25" cy="754.58" r="1.37"/><circle cx="29.15" cy="766.3" r="1.19"/><circle cx="35.78" cy="755.34" r="0.56"/><circle cx="38.07" cy="781.02" r="1.25"/><circle cx="38.48" cy="759.39" r="1.19"/><circle cx="58.78" cy="769.32" r="0.61"/><circle cx="44.31" cy="807.59" r="0.61"/><circle cx="45.63" cy="793.64" r="1.3"/><circle cx="96.63" cy="777.46" r="1.36"/><circle cx="72.88" cy="766.34" r="0.92"/><circle cx="81.74" cy="793.23" r="0.62"/><circle cx="40.42" cy="806.78" r="0.6"/><circle cx="89.44" cy="769.37" r="0.72"/><circle cx="45.28" cy="777.24" r="1.39"/><circle cx="36.85" cy="800.51" r="0.79"/><circle cx="38.77" cy="793.88" r="0.81"/><circle cx="39.93" cy="774.17" r="1.24"/><circle cx="93.37" cy="783.62" r="0.51"/><circle cx="85.49" cy="785.53" r="1.31"/><circle cx="100.4" cy="768.65" r="1.26"/><circle cx="89.88" cy="764.96" r="0.83"/><circle cx="54.73" cy="770.21" r="0.84"/><circle cx="33.82" cy="762.62" r="1.32"/><circle cx="57.58" cy="787.3" r="1.3"/><circle cx="84.87" cy="763.66" r="1.33"/><circle cx="88.71" cy="808.73" r="1.16"/><circle cx="84.81" cy="798.01" r="0.73"/><circle cx="76.98" cy="771.89" r="1.26"/><circle cx="35.67" cy="781.46" r="0.8"/><circle cx="90.01" cy="769.75" r="1.26"/><circle cx="92.17" cy="801.98" r="0.63"/><circle cx="99.32" cy="793.85" r="1.11"/><circle cx="76.71" cy="751.8" r="1.28"/><circle cx="68.43" cy="776.42" r="0.81"/><circle cx="87.03" cy="796.15" r="1.28"/><circle cx="42.04" cy="769.46" r="0.72"/><circle cx="33.04" cy="768.66" r="0.52"/><circle cx="88.11" cy="762.62" r="0.56"/><circle cx="30.45" cy="793.66" r="0.68"/><circle cx="61.65" cy="773.17" r="1.22"/><circle cx="100.57" cy="767.62" r="1.07"/><circle cx="95.87" cy="777.32" r="1.31"/><circle cx="83.14" cy="767.72" r="1.29"/><circle cx="70.45" cy="755.3" r="1.03"/><circle cx="90.69" cy="780.22" r="0.94"/><circle cx="58.04" cy="802.08" r="1.1"/><circle cx="41.55" cy="770.79" r="0.83"/><circle cx="100.93" cy="790.93" r="0.61"/><circle cx="97.42" cy="751.01" r="1.03"/><circle cx="59.3" cy="792.24" r="0.89"/><circle cx="32.4" cy="780.53" r="1.24"/><circle cx="87.5" cy="770.44" r="0.7"/><circle cx="84.01" cy="797.32" r="0.7"/><circle cx="94.95" cy="808.84" r="0.89"/><circle cx="55.2" cy="791.78" r="1.34"/><circle cx="41.06" cy="767.13" r="0.8"/><circle cx="83.02" cy="760.18" r="0.99"/><circle cx="64.67" cy="789.27" r="0.63"/><circle cx="100.77" cy="809.3" r="1"/><circle cx="88" cy="759.97" r="1.32"/><circle cx="68.71" cy="794.78" r="1.28"/><circle cx="53.71" cy="804.71" r="0.69"/><circle cx="26.95" cy="779.25" r="1.31"/><circle cx="96.33" cy="806.58" r="0.96"/><circle cx="98.87" cy="782.72" r="0.63"/><circle cx="75.02" cy="797.43" r="0.88"/><circle cx="72.73" cy="764.55" r="0.75"/><circle cx="58.34" cy="779.9" r="0.92"/><circle cx="32.41" cy="749.24" r="0.81"/><circle cx="81.81" cy="794.1" r="0.71"/><circle cx="45.32" cy="780.11" r="0.66"/><circle cx="72.79" cy="803.51" r="0.68"/><circle cx="71.41" cy="792.44" r="1.17"/><circle cx="81.43" cy="791.82" r="0.75"/><circle cx="91.41" cy="804.78" r="0.55"/><circle cx="99.78" cy="775.63" r="0.58"/><circle cx="30.61" cy="797.03" r="1.11"/><circle cx="36.34" cy="776.68" r="1.07"/><circle cx="104.01" cy="769.2" r="1.19"/><circle cx="44.49" cy="760.91" r="0.65"/><circle cx="57.54" cy="786.24" r="0.77"/><circle cx="37.91" cy="762.1" r="0.58"/><circle cx="40.38" cy="767.97" r="0.95"/></g><g fill="#0c700c" opacity="0.5"><circle cx="39.62" cy="777.87" r="0.81"/><circle cx="102.06" cy="778.27" r="1.16"/><circle cx="62.39" cy="760.86" r="0.91"/><circle cx="36.54" cy="759.12" r="0.55"/><circle cx="80.58" cy="807.31" r="0.78"/><circle cx="53.11" cy="774.58" r="0.75"/><circle cx="79.73" cy="772.57" r="0.61"/><circle cx="93.47" cy="783.48" r="0.5"/><circle cx="92.3" cy="792.9" r="0.75"/><circle cx="74.93" cy="804.48" r="0.78"/><circle cx="59.32" cy="766.91" r="0.89"/><circle cx="77.52" cy="793.3" r="1.16"/><circle cx="36.59" cy="771" r="1.1"/><circle cx="87.67" cy="784.54" r="0.97"/><circle cx="52" cy="805.97" r="0.88"/><circle cx="56.94" cy="759.92" r="0.58"/><circle cx="96.09" cy="797.25" r="0.52"/><circle cx="50.67" cy="777.87" r="0.85"/><circle cx="53.85" cy="802.97" r="0.74"/><circle cx="67.18" cy="805.04" r="0.95"/><circle cx="62.82" cy="768.99" r="0.77"/><circle cx="73.28" cy="796.37" r="0.68"/><circle cx="54.41" cy="772.32" r="0.75"/><circle cx="97.32" cy="781.45" r="0.69"/><circle cx="51.39" cy="798.52" r="0.61"/><circle cx="79.68" cy="750.21" r="0.64"/><circle cx="29.8" cy="797.56" r="0.6"/><circle cx="43.13" cy="752.38" r="0.68"/><circle cx="83.11" cy="792.4" r="1.14"/><circle cx="100" cy="782.17" r="1.15"/><circle cx="32.19" cy="804.78" r="0.8"/><circle cx="40.36" cy="794.08" r="1.1"/><circle cx="55.61" cy="754.53" r="1.11"/><circle cx="84.7" cy="784.96" r="1.18"/><circle cx="28.11" cy="752.28" r="0.59"/><circle cx="26.82" cy="791.68" r="0.94"/><circle cx="33.99" cy="758.69" r="0.63"/><circle cx="73.29" cy="789.52" r="1.18"/><circle cx="53.63" cy="808.03" r="0.8"/><circle cx="56.02" cy="764.2" r="0.66"/><circle cx="102.19" cy="808.99" r="0.99"/><circle cx="38.95" cy="759.77" r="0.61"/><circle cx="52.87" cy="793.43" r="0.54"/><circle cx="67.04" cy="790.01" r="0.52"/><circle cx="59.87" cy="796.67" r="0.9"/><circle cx="60.82" cy="802.14" r="0.92"/><circle cx="51.76" cy="772.81" r="1.16"/><circle cx="93.08" cy="804.16" r="0.89"/><circle cx="36.37" cy="759.47" r="0.77"/><circle cx="79.73" cy="749.18" r="1.06"/><circle cx="87.27" cy="780" r="0.5"/><circle cx="88.23" cy="773.91" r="0.97"/><circle cx="70.18" cy="792.89" r="0.79"/><circle cx="101.03" cy="806.61" r="1.15"/><circle cx="73.76" cy="768.01" r="0.76"/><circle cx="46.37" cy="803.49" r="1.05"/><circle cx="87.44" cy="798.5" r="1.19"/><circle cx="79.52" cy="768.12" r="1.03"/><circle cx="45.85" cy="785.8" r="0.61"/><circle cx="92.94" cy="778.42" r="0.69"/><circle cx="98.1" cy="753.91" r="1.15"/><circle cx="84.97" cy="757.9" r="1.03"/><circle cx="70.45" cy="803.7" r="0.91"/><circle cx="58.9" cy="805.27" r="0.56"/><circle cx="86.57" cy="755.12" r="0.69"/><circle cx="34.09" cy="801.52" r="0.81"/><circle cx="82.56" cy="764.4" r="1.01"/><circle cx="76.42" cy="754.79" r="0.85"/><circle cx="82.19" cy="761.86" r="0.96"/><circle cx="47.08" cy="771.28" r="1.14"/><circle cx="99.7" cy="809.17" r="0.8"/><circle cx="70.33" cy="797.73" r="1.03"/><circle cx="61.19" cy="801.06" r="0.78"/><circle cx="100.25" cy="777.46" r="0.58"/><circle cx="84.35" cy="757.65" r="0.98"/><circle cx="29.33" cy="808.59" r="0.88"/><circle cx="83.66" cy="756.82" r="0.95"/><circle cx="54.88" cy="763.95" r="1.07"/><circle cx="27.73" cy="777.77" r="0.56"/><circle cx="92.45" cy="802.85" r="0.52"/><circle cx="61.85" cy="777.23" r="1"/><circle cx="82.78" cy="769.63" r="1.15"/><circle cx="39.76" cy="757.15" r="1.07"/><circle cx="34.6" cy="760.13" r="0.85"/><circle cx="51.7" cy="758.79" r="1.15"/><circle cx="62.58" cy="796.37" r="0.68"/><circle cx="97.29" cy="762.26" r="1.13"/><circle cx="73.58" cy="807.55" r="1.04"/><circle cx="75" cy="781.09" r="1.1"/><circle cx="60.18" cy="754.84" r="1.14"/></g><path d="M36.97,749.2 L36.4,750.13 L35.26,752.69 L36.15,754.48 L33.66,755.74 L34.27,756.94 L32.86,758.16 L34.08,760.46 L33.99,762.02 L35.18,764.39 L35.71,765.2 L36.92,767.27 L37.54,769.98 L35.85,771.11 L37.83,772.51 L36.57,774.1 L35.05,775.63 L35.13,777.46 L36.27,779.6 L36.93,781.49 L35.24,783.61 L35.77,784.68 L36.2,786.58 L35.11,788.23 L35.17,790.55 L35.25,792.31 L35,792.55 L36.49,794.61 L36.59,796.23 L37.66,798.84 L36.65,800.93 L36.84,802.22 L35.5,802.86 L33.16,805.2 L37.22,805.29 L37.84,805.08 L39.11,806.74 L41.22,806.88 L41.39,806.17 L43.49,807.41 L44.95,807.83 L47.22,807.38 L49.7,806.15 L52.71,805.91 L53.85,805.01 L56.04,806.07 L55.92,805.97 L58.09,805.3 L60.08,806.36 L63.37,807.14 L65.22,806.82 L66.09,806.37 L67.44,807.16 L76.64,806.55 L77.85,807.09 L79.87,806.47 L81.61,806.24 L84.01,806.08 L85.12,804.83 L88.15,804.71 L86.57,803.97 L88.34,802.69 L89,800.57 L88.86,797.99 L88.4,796.26 L89.15,795.56 L88.39,792.99 L87.59,791.56 L86.68,789.34 L85.23,788.07 L87.11,786.97 L85.16,784.63 L86.53,782.27 L86.89,781.35 L88.03,778.87 L87.6,777.19 L88.95,776.57 L88.12,773.41 L87.96,772.14 L89.51,769.77 L88.66,768.16 L88.47,766.94 L87.84,764.77 L88.22,763.88 L86.94,761.17 L86,760.05 L86.04,758.48 L87.62,756.76 L85.31,754.19 L86.09,752.51 L87.12,751.6 L85.33,749.25 L83.56,749.15 L82.64,750.54 L80.79,749.73 L78.3,750.43 L76.67,750.1 L75.31,749.86 L75.62,750.86 L72.78,750.87 L71.73,751.55 L70.36,750.76 L67.76,751.11 L65.31,751.02 L65.53,750.35 L63.67,750.04 L61.11,749.73 L58.35,749.31 L57.68,749.93 L56.4,749.82 L53.62,749.6 L53.03,749.93 L50.2,748.77 L48.75,748.63 L47.32,749.67 L46.57,748.99Z" fill="#075807"/><g fill="#1a7a1a" opacity="0.7"><circle cx="61.6" cy="754.08" r="0.86"/><circle cx="75.75" cy="797.48" r="1.25"/><circle cx="47.73" cy="797.85" r="1.3"/><circle cx="45.76" cy="773.08" r="1.27"/><circle cx="40.28" cy="756.03" r="1.05"/><circle cx="83.05" cy="804.12" r="1.02"/><circle cx="84.73" cy="793.52" r="1.41"/><circle cx="68.98" cy="802.76" r="1.25"/></g><path d="M36.97,749.2 L36.4,750.13 L35.26,752.69 L36.15,754.48 L33.66,755.74 L34.27,756.94 L32.86,758.16 L34.08,760.46 L33.99,762.02 L35.18,764.39 L35.71,765.2 L36.92,767.27 L37.54,769.98 L35.85,771.11 L37.83,772.51 L36.57,774.1 L35.05,775.63 L35.13,777.46 L36.27,779.6 L36.93,781.49 L35.24,783.61 L35.77,784.68 L36.2,786.58 L35.11,788.23 L35.17,790.55 L35.25,792.31 L35,792.55 L36.49,794.61 L36.59,796.23 L37.66,798.84 L36.65,800.93 L36.84,802.22 L35.5,802.86 L33.16,805.2 L37.22,805.29 L37.84,805.08 L39.11,806.74 L41.22,806.88 L41.39,806.17 L43.49,807.41 L44.95,807.83 L47.22,807.38 L49.7,806.15 L52.71,805.91 L53.85,805.01 L56.04,806.07 L55.92,805.97 L58.09,805.3 L60.08,806.36 L63.37,807.14 L65.22,806.82 L66.09,806.37 L67.44,807.16" fill="none" stroke="#e0ec3c" stroke-width="1.3" stroke-linejoin="round"/><path d="M46.57,748.99 L47.32,749.67 L48.75,748.63 L50.2,748.77 L53.03,749.93 L53.62,749.6 L56.4,749.82 L57.68,749.93 L58.35,749.31 L61.11,749.73 L63.67,750.04 L65.53,750.35 L65.31,751.02 L67.76,751.11 L70.36,750.76 L71.73,751.55 L72.78,750.87 L75.62,750.86 L75.31,749.86 L76.67,750.1 L78.3,750.43 L80.79,749.73 L82.64,750.54 L83.56,749.15 L85.33,749.25 L87.12,751.6 L86.09,752.51 L85.31,754.19 L87.62,756.76 L86.04,758.48 L86,760.05 L86.94,761.17 L88.22,763.88 L87.84,764.77 L88.47,766.94 L88.66,768.16 L89.51,769.77 L87.96,772.14 L88.12,773.41 L88.95,776.57 L87.6,777.19 L88.03,778.87 L86.89,781.35 L86.53,782.27 L85.16,784.63 L87.11,786.97 L85.23,788.07 L86.68,789.34 L87.59,791.56 L88.39,792.99 L89.15,795.56 L88.4,796.26 L88.86,797.99 L89,800.57 L88.34,802.69 L86.57,803.97 L88.15,804.71 L85.12,804.83 L84.01,806.08 L81.61,806.24 L79.87,806.47 L77.85,807.09 L76.64,806.55" fill="none" stroke="#e0ec3c" stroke-width="1.3" stroke-linejoin="round"/></g>
<text x="26.6" y="805" font-size="11" text-anchor="start" fill="#f2f2f2" font-weight="bold" >0 hr</text>
<clipPath id="clipimg5"><rect x="120.5" y="748.9" width="80.9" height="60.4"/></clipPath>
<g clip-path="url(#clipimg5)"><rect x="120.5" y="748.9" width="80.9" height="60.4" fill="#117811"/><g fill="#30b030" opacity="0.5"><circle cx="197.18" cy="783.08" r="0.68"/><circle cx="162.47" cy="778.07" r="0.8"/><circle cx="150.73" cy="779.73" r="1.03"/><circle cx="138.5" cy="765.66" r="0.95"/><circle cx="161.26" cy="774.19" r="1.1"/><circle cx="135.5" cy="781.02" r="0.75"/><circle cx="182.8" cy="791.4" r="1.2"/><circle cx="162.36" cy="763.94" r="1.33"/><circle cx="161.83" cy="771.56" r="0.76"/><circle cx="153.02" cy="791.7" r="1.24"/><circle cx="159.54" cy="793.06" r="0.69"/><circle cx="157.07" cy="770.52" r="0.78"/><circle cx="149.58" cy="794.48" r="1.16"/><circle cx="137.28" cy="763.02" r="1.21"/><circle cx="173.46" cy="789.74" r="1.07"/><circle cx="176.6" cy="765.38" r="0.55"/><circle cx="149.67" cy="750.85" r="1.37"/><circle cx="162.95" cy="789.38" r="1.37"/><circle cx="185.58" cy="762.75" r="0.8"/><circle cx="129.28" cy="796.96" r="1.16"/><circle cx="159.95" cy="771.2" r="0.74"/><circle cx="159.91" cy="791.91" r="1.31"/><circle cx="189.17" cy="801.31" r="0.9"/><circle cx="154.58" cy="767.87" r="1.38"/><circle cx="135.33" cy="758.43" r="0.75"/><circle cx="195.1" cy="800.41" r="0.8"/><circle cx="189.4" cy="802.7" r="0.88"/><circle cx="136.06" cy="795.57" r="0.84"/><circle cx="130.15" cy="803.43" r="0.9"/><circle cx="152.66" cy="784.85" r="0.73"/><circle cx="122.14" cy="772.46" r="0.84"/><circle cx="121.4" cy="771.35" r="1.19"/><circle cx="147.44" cy="789.95" r="1.06"/><circle cx="135.74" cy="750.13" r="1.11"/><circle cx="169.93" cy="766.65" r="0.68"/><circle cx="189.7" cy="803.82" r="0.71"/><circle cx="167.91" cy="783.61" r="0.79"/><circle cx="123.44" cy="768.55" r="1.08"/><circle cx="169.2" cy="779.71" r="0.61"/><circle cx="137.72" cy="767.7" r="0.87"/><circle cx="149.88" cy="803.4" r="0.6"/><circle cx="200.3" cy="763.42" r="1.27"/><circle cx="140.21" cy="784.37" r="0.84"/><circle cx="123.57" cy="797" r="1.23"/><circle cx="142.28" cy="795.78" r="0.93"/><circle cx="200.35" cy="752.18" r="0.84"/><circle cx="138.93" cy="786.65" r="1.2"/><circle cx="188.63" cy="782.02" r="0.85"/><circle cx="185.19" cy="755.22" r="0.73"/><circle cx="181.39" cy="775.5" r="1.39"/><circle cx="127.86" cy="776.8" r="0.69"/><circle cx="120.67" cy="754.55" r="0.58"/><circle cx="150.35" cy="775.03" r="0.96"/><circle cx="143.9" cy="791.3" r="0.96"/><circle cx="199.93" cy="759.12" r="0.96"/><circle cx="160.44" cy="771.36" r="1.28"/><circle cx="137.45" cy="801.91" r="0.82"/><circle cx="147.64" cy="786.04" r="1.01"/><circle cx="143.47" cy="754" r="1.36"/><circle cx="150.38" cy="755.81" r="1.09"/><circle cx="163.54" cy="768.68" r="0.8"/><circle cx="188.86" cy="769.35" r="0.88"/><circle cx="197.91" cy="770.7" r="0.86"/><circle cx="133.6" cy="788.91" r="1.1"/><circle cx="156.61" cy="773.42" r="0.71"/><circle cx="184.41" cy="776.52" r="1.25"/><circle cx="150.83" cy="793.2" r="0.53"/><circle cx="138.27" cy="806.92" r="1.11"/><circle cx="175.16" cy="778.92" r="0.93"/><circle cx="136.48" cy="759.35" r="1.08"/><circle cx="176.63" cy="764.53" r="1.08"/><circle cx="131.52" cy="785.93" r="0.65"/><circle cx="161.72" cy="767.86" r="1"/><circle cx="131.34" cy="778.1" r="1.05"/><circle cx="131.4" cy="767.54" r="1.11"/><circle cx="164.69" cy="786.15" r="1.2"/><circle cx="166.73" cy="762.32" r="0.9"/><circle cx="187.66" cy="783.13" r="1.18"/><circle cx="149.95" cy="775.99" r="1.37"/><circle cx="187.01" cy="788.33" r="0.6"/><circle cx="170" cy="750.9" r="1.34"/><circle cx="199.14" cy="792.88" r="0.74"/><circle cx="188.93" cy="759.6" r="1.25"/><circle cx="162.63" cy="749.85" r="1.3"/><circle cx="156.1" cy="799.04" r="1.12"/><circle cx="163.6" cy="800.99" r="0.68"/><circle cx="193.19" cy="769.36" r="0.52"/><circle cx="147.73" cy="752.89" r="0.56"/><circle cx="170.99" cy="756.2" r="0.64"/><circle cx="144.17" cy="765.74" r="1.33"/><circle cx="193.75" cy="801.45" r="1.39"/><circle cx="156.11" cy="796.97" r="0.75"/><circle cx="195.45" cy="797.87" r="1.16"/><circle cx="138.92" cy="754.43" r="1.33"/><circle cx="165.17" cy="785.89" r="1.28"/><circle cx="132.11" cy="791.14" r="0.92"/><circle cx="184.09" cy="776.44" r="0.68"/><circle cx="197.87" cy="765.88" r="1.17"/><circle cx="187.75" cy="763.87" r="1.13"/><circle cx="152.54" cy="762.43" r="0.7"/><circle cx="197.68" cy="771.14" r="0.96"/><circle cx="161.05" cy="750.5" r="1.18"/><circle cx="180.78" cy="801.81" r="0.82"/><circle cx="137.47" cy="769.89" r="1.16"/><circle cx="173.73" cy="773.43" r="0.97"/><circle cx="132.97" cy="804.38" r="0.92"/><circle cx="161.5" cy="796.43" r="0.68"/><circle cx="178.95" cy="770.24" r="1.23"/><circle cx="128.13" cy="765.57" r="1.07"/><circle cx="159.53" cy="771.66" r="1.02"/><circle cx="138.12" cy="775.32" r="0.5"/><circle cx="185.11" cy="764.24" r="1.25"/><circle cx="165.17" cy="785.23" r="1.06"/><circle cx="130.65" cy="795.84" r="0.76"/><circle cx="190.3" cy="796.4" r="1.11"/><circle cx="186.45" cy="775.28" r="1.11"/><circle cx="197.58" cy="760.32" r="0.59"/><circle cx="153.83" cy="779.68" r="0.63"/><circle cx="138.39" cy="801.24" r="0.85"/><circle cx="132.55" cy="759.95" r="1.02"/><circle cx="135.87" cy="777.59" r="0.98"/><circle cx="156.07" cy="779.32" r="1.25"/><circle cx="121.85" cy="805.07" r="0.68"/><circle cx="123.6" cy="795.26" r="1.01"/><circle cx="164.02" cy="762.04" r="1.2"/><circle cx="145.29" cy="792.81" r="0.71"/><circle cx="166.84" cy="788.05" r="0.83"/><circle cx="159.33" cy="752.84" r="1.08"/><circle cx="176.42" cy="758.16" r="1"/><circle cx="179.81" cy="755.01" r="1.26"/><circle cx="190.92" cy="751.95" r="0.72"/><circle cx="127.3" cy="764.16" r="0.58"/><circle cx="160.09" cy="764.02" r="0.77"/><circle cx="157.84" cy="771.34" r="1.21"/><circle cx="178.97" cy="755.79" r="0.7"/><circle cx="121.17" cy="768.79" r="0.6"/><circle cx="176.9" cy="796.03" r="1.4"/><circle cx="137.41" cy="751.11" r="1.18"/><circle cx="153.81" cy="805.14" r="0.85"/><circle cx="145.78" cy="753.29" r="1.35"/><circle cx="161.93" cy="775.52" r="0.89"/><circle cx="182.68" cy="799.08" r="0.93"/><circle cx="134.91" cy="773.44" r="1.3"/><circle cx="153.48" cy="788.82" r="1"/><circle cx="157.82" cy="783.62" r="0.72"/><circle cx="165.6" cy="801.13" r="0.57"/><circle cx="150.35" cy="802.09" r="1.38"/><circle cx="121.57" cy="786.77" r="1.07"/><circle cx="188.71" cy="777.29" r="0.62"/><circle cx="144.79" cy="791.95" r="1.16"/><circle cx="137.05" cy="787.71" r="1.09"/><circle cx="173.72" cy="750.22" r="0.9"/><circle cx="146.79" cy="784.97" r="0.8"/><circle cx="130.87" cy="789.39" r="0.76"/><circle cx="184.46" cy="767.37" r="0.99"/><circle cx="185.88" cy="755.88" r="1.16"/><circle cx="126.01" cy="805.45" r="0.52"/><circle cx="179.08" cy="771.17" r="0.66"/><circle cx="152.45" cy="779.18" r="0.87"/><circle cx="130.4" cy="780.48" r="0.77"/></g><g fill="#0c700c" opacity="0.5"><circle cx="198.75" cy="772.04" r="0.8"/><circle cx="138.95" cy="807.42" r="0.73"/><circle cx="172.78" cy="799.19" r="0.78"/><circle cx="181.6" cy="765.74" r="0.58"/><circle cx="123.91" cy="776.02" r="1.11"/><circle cx="136.93" cy="775.51" r="1.03"/><circle cx="142.84" cy="758.12" r="0.86"/><circle cx="154.91" cy="805.59" r="1.13"/><circle cx="139.76" cy="782.78" r="0.79"/><circle cx="123.24" cy="775.74" r="1.14"/><circle cx="145" cy="784.3" r="1"/><circle cx="125.6" cy="804.72" r="0.58"/><circle cx="144.89" cy="792.14" r="0.51"/><circle cx="150.87" cy="756.55" r="0.83"/><circle cx="121.78" cy="758.03" r="0.66"/><circle cx="127.09" cy="754.37" r="0.64"/><circle cx="162.38" cy="757.17" r="1.07"/><circle cx="154.22" cy="764.11" r="0.67"/><circle cx="188.42" cy="751.73" r="1.02"/><circle cx="128.39" cy="805.95" r="0.79"/><circle cx="168.85" cy="801.04" r="0.57"/><circle cx="125.68" cy="790.79" r="0.91"/><circle cx="178.83" cy="765.68" r="0.85"/><circle cx="135.6" cy="775.3" r="0.7"/><circle cx="167.88" cy="766.96" r="0.69"/><circle cx="172.48" cy="754.07" r="1.06"/><circle cx="160.61" cy="762.72" r="0.58"/><circle cx="161.66" cy="779.33" r="1"/><circle cx="150.75" cy="773.8" r="1.12"/><circle cx="142.65" cy="808.16" r="1.12"/><circle cx="200.61" cy="805.87" r="0.68"/><circle cx="186.38" cy="785.86" r="0.64"/><circle cx="201.2" cy="788.02" r="1.07"/><circle cx="165.64" cy="753.7" r="1.1"/><circle cx="134.69" cy="764.55" r="0.93"/><circle cx="136.19" cy="776.84" r="1"/><circle cx="128.26" cy="788.8" r="0.57"/><circle cx="158.98" cy="788.13" r="0.98"/><circle cx="123.99" cy="760.44" r="1.17"/><circle cx="152.13" cy="774.56" r="0.76"/><circle cx="176.82" cy="793.62" r="0.96"/><circle cx="153.05" cy="783.3" r="0.86"/><circle cx="135.7" cy="806.25" r="1.18"/><circle cx="183.39" cy="808.85" r="0.83"/><circle cx="188.38" cy="763.44" r="1.02"/><circle cx="178.34" cy="805.59" r="1.08"/><circle cx="191.64" cy="765.07" r="1.05"/><circle cx="158.95" cy="767.77" r="0.76"/><circle cx="185.13" cy="799.8" r="1.09"/><circle cx="174.66" cy="759.19" r="0.61"/><circle cx="166.45" cy="761.71" r="0.74"/><circle cx="128.79" cy="758.25" r="1"/><circle cx="138.59" cy="800.11" r="0.73"/><circle cx="189.17" cy="767.18" r="0.69"/><circle cx="152.44" cy="749.63" r="0.8"/><circle cx="151.23" cy="749.66" r="1.1"/><circle cx="150.85" cy="748.93" r="1.17"/><circle cx="138.98" cy="764.18" r="0.52"/><circle cx="128.55" cy="791.77" r="0.91"/><circle cx="161.28" cy="763.77" r="0.7"/><circle cx="198.98" cy="771.38" r="1.19"/><circle cx="192.23" cy="756.43" r="1.09"/><circle cx="122.2" cy="791.85" r="1.07"/><circle cx="176.77" cy="782.11" r="1.07"/><circle cx="132.99" cy="781.5" r="0.69"/><circle cx="152.79" cy="760.45" r="1"/><circle cx="166.87" cy="795.97" r="0.94"/><circle cx="168.97" cy="804.58" r="1.07"/><circle cx="166.35" cy="768.6" r="1.15"/><circle cx="150.52" cy="755.07" r="0.73"/><circle cx="177.65" cy="805.15" r="0.95"/><circle cx="174.1" cy="805.51" r="1.04"/><circle cx="156.54" cy="776.79" r="1.03"/><circle cx="146.2" cy="755.53" r="0.93"/><circle cx="185.95" cy="763.89" r="0.98"/><circle cx="192.71" cy="756.61" r="0.6"/><circle cx="160.38" cy="769.09" r="1.16"/><circle cx="201.13" cy="775.82" r="1.06"/><circle cx="171.61" cy="759.38" r="1.18"/><circle cx="134.62" cy="753.49" r="0.82"/><circle cx="121.94" cy="777.94" r="0.79"/><circle cx="197.71" cy="773.88" r="1.09"/><circle cx="183.58" cy="784.31" r="0.67"/><circle cx="145.16" cy="778.59" r="0.78"/><circle cx="172.73" cy="779.42" r="0.73"/><circle cx="169.59" cy="809.09" r="0.64"/><circle cx="147.65" cy="749.63" r="0.57"/><circle cx="124.99" cy="774.44" r="1.09"/><circle cx="176.95" cy="807.25" r="1.09"/><circle cx="167.9" cy="783.96" r="0.51"/></g><path d="M146.85,748.54 L148.23,749.92 L148.79,752.09 L149.43,753.82 L149.18,756.02 L150.78,757.56 L148.78,759.31 L150.52,761.67 L150.01,761.95 L150.1,764.67 L148.32,766.82 L149.53,768.53 L148.6,769.57 L149.52,770.67 L151.09,772.7 L150.54,774.12 L152.67,775.69 L153.21,777.22 L153.99,777.91 L153.18,780.26 L155.4,782.06 L156.67,782.45 L158.23,783.68 L159.94,785.48 L157.53,786.03 L159.16,787.16 L158.33,788.65 L157.34,791.38 L155.66,792.26 L154.87,794.3 L154.89,795.67 L153.59,797.18 L154.46,799.01 L155.07,799.9 L154.55,801.83 L154.72,804.2 L154.89,805.53 L157.06,807.84 L156.93,807.05 L160.01,808.33 L160.99,808.43 L163.44,808.21 L165.54,808.38 L167.08,808.38 L169.7,807.84 L170.09,805.74 L172.62,804.92 L170.71,802.83 L171.27,801.19 L169.6,799.77 L168.66,798.4 L169.2,797.35 L169.17,795.95 L168.45,794.43 L168.41,792.19 L169.9,790.83 L171.08,789.96 L170.08,787.45 L170.61,786.57 L171.79,785.48 L175.11,783.33 L174.33,782.4 L177.4,780.88 L178.51,780.13 L178.29,779.23 L181.56,778.65 L181.42,778.78 L184.45,778 L186.48,776.71 L182.99,777.17 L181.76,776.16 L181.04,775.23 L179.82,774.98 L177.32,773.57 L177.14,772.79 L176,770.72 L175.31,769.75 L175.87,767.91 L176.24,765.1 L174.32,764.55 L176.64,761.8 L175.32,761.16 L177.11,759.22 L176.04,756.53 L174.78,755.92 L176.03,753.94 L174.3,751.88 L174.55,750.01 L175.85,748.23Z" fill="#0a6a0a"/><g fill="#1a7a1a" opacity="0.7"><circle cx="158.39" cy="782.47" r="1.4"/><circle cx="148.55" cy="766.94" r="0.87"/><circle cx="161.05" cy="792.63" r="0.91"/><circle cx="157.51" cy="803.83" r="1.14"/><circle cx="154.96" cy="796.21" r="1.42"/><circle cx="154.64" cy="760.13" r="1.25"/><circle cx="173.19" cy="800.43" r="1.26"/><circle cx="151.16" cy="779.85" r="1"/></g><path d="M146.85,748.54 L148.23,749.92 L148.79,752.09 L149.43,753.82 L149.18,756.02 L150.78,757.56 L148.78,759.31 L150.52,761.67 L150.01,761.95 L150.1,764.67 L148.32,766.82 L149.53,768.53 L148.6,769.57 L149.52,770.67 L151.09,772.7 L150.54,774.12 L152.67,775.69 L153.21,777.22 L153.99,777.91 L153.18,780.26 L155.4,782.06 L156.67,782.45 L158.23,783.68 L159.94,785.48 L157.53,786.03 L159.16,787.16 L158.33,788.65 L157.34,791.38 L155.66,792.26 L154.87,794.3 L154.89,795.67 L153.59,797.18 L154.46,799.01 L155.07,799.9 L154.55,801.83 L154.72,804.2 L154.89,805.53 L157.06,807.84 L156.93,807.05 L160.01,808.33 L160.99,808.43 L163.44,808.21 L165.54,808.38" fill="none" stroke="#e0ec3c" stroke-width="1.3" stroke-linejoin="round"/><path d="M175.85,748.23 L174.55,750.01 L174.3,751.88 L176.03,753.94 L174.78,755.92 L176.04,756.53 L177.11,759.22 L175.32,761.16 L176.64,761.8 L174.32,764.55 L176.24,765.1 L175.87,767.91 L175.31,769.75 L176,770.72 L177.14,772.79 L177.32,773.57 L179.82,774.98 L181.04,775.23 L181.76,776.16 L182.99,777.17 L186.48,776.71 L184.45,778 L181.42,778.78 L181.56,778.65 L178.29,779.23 L178.51,780.13 L177.4,780.88 L174.33,782.4 L175.11,783.33 L171.79,785.48 L170.61,786.57 L170.08,787.45 L171.08,789.96 L169.9,790.83 L168.41,792.19 L168.45,794.43 L169.17,795.95 L169.2,797.35 L168.66,798.4 L169.6,799.77 L171.27,801.19 L170.71,802.83 L172.62,804.92 L170.09,805.74 L169.7,807.84 L167.08,808.38" fill="none" stroke="#e0ec3c" stroke-width="1.3" stroke-linejoin="round"/><g fill="none" stroke="#e0ec3c" stroke-width="0.9"><circle cx="178.52" cy="775.21" r="1.71"/><circle cx="185.56" cy="779.34" r="1.28"/><circle cx="186.46" cy="772.25" r="1.72"/><circle cx="181.5" cy="778.85" r="1.21"/><circle cx="186.86" cy="771.23" r="1.65"/><circle cx="184.24" cy="774.37" r="1.63"/><circle cx="174.97" cy="777.77" r="1.27"/><circle cx="177.99" cy="772.77" r="1.6"/><circle cx="182.88" cy="771.8" r="1.78"/><circle cx="175.09" cy="774.38" r="1.21"/><circle cx="180.52" cy="779.01" r="1.75"/><circle cx="181.39" cy="774.29" r="0.91"/><circle cx="172.75" cy="775.67" r="1.38"/><circle cx="178.54" cy="779.84" r="1.21"/><circle cx="177.07" cy="774.76" r="0.97"/></g></g>
<text x="122" y="805" font-size="11" text-anchor="start" fill="#f2f2f2" font-weight="bold" >24 hr</text>
<clipPath id="clipimg6"><rect x="247.5" y="752" width="79.1" height="56.4"/></clipPath>
<g clip-path="url(#clipimg6)"><rect x="247.5" y="752" width="79.1" height="56.4" fill="#138a13"/><g fill="#30b030" opacity="0.5"><circle cx="321.79" cy="785.33" r="0.99"/><circle cx="281.18" cy="766.1" r="0.78"/><circle cx="286.54" cy="777.17" r="1.38"/><circle cx="292.04" cy="763.67" r="0.55"/><circle cx="260.09" cy="771.5" r="1.2"/><circle cx="317.84" cy="765.33" r="1.2"/><circle cx="282.43" cy="782.32" r="0.98"/><circle cx="250.87" cy="755.73" r="1.1"/><circle cx="302.01" cy="773.45" r="1.33"/><circle cx="312.36" cy="769.03" r="0.56"/><circle cx="291.27" cy="788.9" r="0.7"/><circle cx="250.97" cy="779.47" r="0.53"/><circle cx="305.78" cy="787.28" r="0.75"/><circle cx="282.75" cy="765.14" r="0.67"/><circle cx="261.85" cy="798" r="0.91"/><circle cx="304.1" cy="771.6" r="1.23"/><circle cx="294.63" cy="788.89" r="0.85"/><circle cx="291.94" cy="762.75" r="1.38"/><circle cx="300.67" cy="782.03" r="1.07"/><circle cx="255.42" cy="770.86" r="0.71"/><circle cx="314.19" cy="752.73" r="0.9"/><circle cx="316.2" cy="796.14" r="1.15"/><circle cx="271.35" cy="765.1" r="1.13"/><circle cx="271.12" cy="792.78" r="0.81"/><circle cx="307.66" cy="784.32" r="1.23"/><circle cx="325.46" cy="773.35" r="1.39"/><circle cx="248.29" cy="801.48" r="0.53"/><circle cx="290.63" cy="773.9" r="1.19"/><circle cx="272.42" cy="763.74" r="1.21"/><circle cx="291.03" cy="794.62" r="0.94"/><circle cx="250.39" cy="795.5" r="0.7"/><circle cx="284.82" cy="752.03" r="0.73"/><circle cx="300.15" cy="795.1" r="1.07"/><circle cx="282.56" cy="793.33" r="1.1"/><circle cx="263.79" cy="782.18" r="1.04"/><circle cx="305.15" cy="763.15" r="0.78"/><circle cx="274.63" cy="757.41" r="0.81"/><circle cx="305.21" cy="784.58" r="0.66"/><circle cx="305.37" cy="758.59" r="1.18"/><circle cx="259.18" cy="757.44" r="0.73"/><circle cx="288.24" cy="767.23" r="1.3"/><circle cx="321.73" cy="767.98" r="1.17"/><circle cx="302.52" cy="783.65" r="0.73"/><circle cx="322.61" cy="805.95" r="0.51"/><circle cx="273.61" cy="770.11" r="0.68"/><circle cx="281.53" cy="802.66" r="0.52"/><circle cx="313.61" cy="769.43" r="0.51"/><circle cx="318.67" cy="767.36" r="0.69"/><circle cx="256.73" cy="772.71" r="0.61"/><circle cx="261.71" cy="766.1" r="1.02"/><circle cx="282.79" cy="769.2" r="0.97"/><circle cx="308.73" cy="792.84" r="0.81"/><circle cx="320.11" cy="796.63" r="1.01"/><circle cx="285.12" cy="770.59" r="0.62"/><circle cx="317.55" cy="786.31" r="0.59"/><circle cx="320.71" cy="802.03" r="0.53"/><circle cx="302.92" cy="765.43" r="0.98"/><circle cx="313.49" cy="771.77" r="0.95"/><circle cx="300.12" cy="762.85" r="1.06"/><circle cx="281.14" cy="807.41" r="0.67"/><circle cx="303.74" cy="754.32" r="0.75"/><circle cx="256.81" cy="760.4" r="0.98"/><circle cx="261.3" cy="796.83" r="0.59"/><circle cx="296.78" cy="800.56" r="0.61"/><circle cx="264.7" cy="795.14" r="0.92"/><circle cx="321.23" cy="771.06" r="0.86"/><circle cx="323.24" cy="771.39" r="1.37"/><circle cx="317.98" cy="763.3" r="0.99"/><circle cx="321.95" cy="758.62" r="1.26"/><circle cx="308.74" cy="794.26" r="1.04"/><circle cx="255.41" cy="806.05" r="0.59"/><circle cx="309.48" cy="792.79" r="0.79"/><circle cx="301.66" cy="775.16" r="1.18"/><circle cx="250.93" cy="804.65" r="0.85"/><circle cx="311.03" cy="778.6" r="1.23"/><circle cx="271.32" cy="782.74" r="0.52"/><circle cx="286.2" cy="756.47" r="1.27"/><circle cx="301.07" cy="775.97" r="1.38"/><circle cx="322.39" cy="805.96" r="0.57"/><circle cx="303.19" cy="793.03" r="1.05"/><circle cx="248.75" cy="804.11" r="0.89"/><circle cx="294.57" cy="797.95" r="0.75"/><circle cx="249.81" cy="804.08" r="0.74"/><circle cx="250.75" cy="759.71" r="1.4"/><circle cx="306.02" cy="763.84" r="0.63"/><circle cx="318.51" cy="789.5" r="1.02"/><circle cx="257.88" cy="775.31" r="1.35"/><circle cx="247.76" cy="775.64" r="0.55"/><circle cx="326.42" cy="757.89" r="1.36"/><circle cx="314.04" cy="793.27" r="0.54"/><circle cx="302.51" cy="779.8" r="0.94"/><circle cx="258.99" cy="780.89" r="1.22"/><circle cx="257.9" cy="801.41" r="0.88"/><circle cx="268.55" cy="765.49" r="0.91"/><circle cx="298.72" cy="784.14" r="1.3"/><circle cx="287.96" cy="780.91" r="1.39"/><circle cx="264.52" cy="752.94" r="0.8"/><circle cx="272.27" cy="758.99" r="0.88"/><circle cx="250.24" cy="803.93" r="0.94"/><circle cx="317.01" cy="791.34" r="1.16"/><circle cx="307.5" cy="769.01" r="1.16"/><circle cx="263.8" cy="783.29" r="1.04"/><circle cx="308.85" cy="761.46" r="0.81"/><circle cx="312.7" cy="797.38" r="1.38"/><circle cx="256.86" cy="763.85" r="0.6"/><circle cx="304.75" cy="794.04" r="1.08"/><circle cx="309.16" cy="781.1" r="1.01"/><circle cx="320.35" cy="788.56" r="1.09"/><circle cx="294.07" cy="779.86" r="1.18"/><circle cx="292.79" cy="759.27" r="0.88"/><circle cx="280.83" cy="776.38" r="1"/><circle cx="276.11" cy="774.06" r="0.88"/><circle cx="276.88" cy="806.81" r="0.58"/><circle cx="248.84" cy="792.69" r="0.86"/><circle cx="283.01" cy="785.38" r="0.83"/><circle cx="266.42" cy="752.87" r="1.29"/><circle cx="321.77" cy="768.13" r="0.92"/><circle cx="273.12" cy="755.29" r="1.3"/><circle cx="313.66" cy="765.6" r="0.73"/><circle cx="302.73" cy="796.94" r="0.92"/><circle cx="278.15" cy="765.17" r="1.22"/><circle cx="315.81" cy="800.39" r="0.6"/><circle cx="294.47" cy="807.57" r="1.14"/><circle cx="283.83" cy="760.18" r="0.55"/><circle cx="305.39" cy="755.87" r="1.23"/><circle cx="300.15" cy="778.7" r="1.3"/><circle cx="321.27" cy="786.78" r="0.59"/><circle cx="294.06" cy="775.74" r="0.72"/><circle cx="320.96" cy="793.19" r="0.61"/><circle cx="265.61" cy="771.32" r="1.02"/><circle cx="273.19" cy="776.79" r="1.23"/><circle cx="261.88" cy="792.61" r="0.8"/><circle cx="322.21" cy="805.68" r="0.79"/><circle cx="295.44" cy="758.25" r="0.87"/><circle cx="296.8" cy="787.99" r="0.81"/><circle cx="250.18" cy="759.01" r="1"/><circle cx="261.04" cy="769.26" r="1.06"/><circle cx="318.75" cy="781.06" r="0.73"/><circle cx="293.84" cy="767.55" r="1.2"/><circle cx="259.84" cy="766.78" r="0.89"/><circle cx="319.33" cy="761.33" r="0.67"/><circle cx="257.92" cy="764.05" r="0.8"/><circle cx="278.75" cy="794.84" r="0.86"/><circle cx="285.08" cy="774.36" r="1.2"/><circle cx="318.94" cy="776" r="1.33"/><circle cx="267.33" cy="807.15" r="0.97"/><circle cx="301.44" cy="773.51" r="0.74"/><circle cx="258.19" cy="801.93" r="0.82"/><circle cx="302.76" cy="777.99" r="0.97"/><circle cx="263.86" cy="761.99" r="0.8"/><circle cx="301.41" cy="782.65" r="0.5"/><circle cx="303.72" cy="776.43" r="0.56"/><circle cx="268.06" cy="763.94" r="1.24"/><circle cx="291.01" cy="770.43" r="0.72"/><circle cx="270.53" cy="767.8" r="0.81"/><circle cx="310.04" cy="796.47" r="1.13"/><circle cx="317.5" cy="788.88" r="0.6"/><circle cx="251.02" cy="761.27" r="0.73"/><circle cx="289.29" cy="798.36" r="1.03"/><circle cx="281.49" cy="765.66" r="1.38"/></g><g fill="#0c700c" opacity="0.5"><circle cx="307.09" cy="771.25" r="0.53"/><circle cx="325.17" cy="766.44" r="1.09"/><circle cx="256.78" cy="788.83" r="0.75"/><circle cx="317.81" cy="768.76" r="0.57"/><circle cx="263.23" cy="797.44" r="1.19"/><circle cx="298.36" cy="790.45" r="0.7"/><circle cx="269.05" cy="756.89" r="1.19"/><circle cx="250.93" cy="786.54" r="0.74"/><circle cx="262.27" cy="776.59" r="1.15"/><circle cx="267.1" cy="761.28" r="0.94"/><circle cx="299.47" cy="780.8" r="0.63"/><circle cx="316.65" cy="758.25" r="0.62"/><circle cx="266.62" cy="780.98" r="0.83"/><circle cx="291.29" cy="793" r="1.13"/><circle cx="284.54" cy="754.37" r="1.08"/><circle cx="248.96" cy="769.93" r="0.6"/><circle cx="295.14" cy="796.1" r="0.59"/><circle cx="270.78" cy="800" r="0.98"/><circle cx="256.08" cy="790.71" r="1.06"/><circle cx="279.82" cy="760.76" r="0.96"/><circle cx="272.75" cy="759.55" r="0.62"/><circle cx="279.34" cy="759.16" r="0.77"/><circle cx="291.12" cy="783.14" r="0.78"/><circle cx="310.79" cy="756.95" r="0.73"/><circle cx="321.33" cy="800.75" r="1.14"/><circle cx="308.03" cy="782.22" r="1.05"/><circle cx="292.79" cy="758.63" r="0.68"/><circle cx="255.21" cy="801.36" r="0.73"/><circle cx="279.73" cy="782.36" r="0.57"/><circle cx="303.33" cy="796.87" r="1.06"/><circle cx="317.19" cy="769.9" r="0.6"/><circle cx="307.74" cy="791.1" r="0.76"/><circle cx="274.66" cy="760.67" r="1.08"/><circle cx="283.94" cy="797.8" r="0.74"/><circle cx="272.91" cy="780.95" r="1.02"/><circle cx="317.32" cy="771.92" r="0.99"/><circle cx="279.43" cy="800.59" r="1.03"/><circle cx="291.42" cy="772.45" r="0.69"/><circle cx="317.5" cy="797.17" r="0.71"/><circle cx="254.2" cy="763" r="1.17"/><circle cx="250.6" cy="797.68" r="0.87"/><circle cx="291.32" cy="782.43" r="0.79"/><circle cx="291.58" cy="757.08" r="1.14"/><circle cx="255.64" cy="759.83" r="0.97"/><circle cx="298.19" cy="797.5" r="0.98"/><circle cx="321.12" cy="754.92" r="0.51"/><circle cx="266.24" cy="795.93" r="0.61"/><circle cx="289.52" cy="795.45" r="0.61"/><circle cx="289.22" cy="802.8" r="1.02"/><circle cx="278.98" cy="779.01" r="0.69"/><circle cx="323.48" cy="796.14" r="0.98"/><circle cx="271.56" cy="793.28" r="0.84"/><circle cx="310.64" cy="772.52" r="1.12"/><circle cx="301.66" cy="777.42" r="0.89"/><circle cx="311.17" cy="781.84" r="1.17"/><circle cx="248.07" cy="802.61" r="1"/><circle cx="286.21" cy="799.93" r="0.6"/><circle cx="274.21" cy="792.26" r="1.08"/><circle cx="277" cy="808.07" r="0.95"/><circle cx="251.08" cy="758.95" r="0.55"/><circle cx="292.58" cy="770.15" r="0.68"/><circle cx="282.91" cy="756.41" r="1.14"/><circle cx="313.8" cy="783.51" r="0.81"/><circle cx="271.89" cy="786" r="0.74"/><circle cx="324.66" cy="805.93" r="1.01"/><circle cx="312.84" cy="756.25" r="0.59"/><circle cx="274.83" cy="759.12" r="0.8"/><circle cx="325.5" cy="799.06" r="1.17"/><circle cx="265.03" cy="764.51" r="0.52"/><circle cx="269.15" cy="755.19" r="0.87"/><circle cx="271.28" cy="790" r="0.89"/><circle cx="294.75" cy="768.91" r="1.01"/><circle cx="302.01" cy="792.29" r="0.83"/><circle cx="284.19" cy="768.13" r="0.53"/><circle cx="284.36" cy="786.75" r="0.63"/><circle cx="315.53" cy="801.58" r="1.1"/><circle cx="312.05" cy="779.54" r="0.62"/><circle cx="268.95" cy="793.6" r="1.19"/><circle cx="256.3" cy="752.35" r="0.75"/><circle cx="275.13" cy="785.71" r="0.58"/><circle cx="314.25" cy="771.07" r="1.14"/><circle cx="273.54" cy="769.22" r="0.62"/><circle cx="323.89" cy="785.25" r="1.08"/><circle cx="252.49" cy="782.62" r="1.01"/><circle cx="325.32" cy="804.82" r="0.57"/><circle cx="277.02" cy="808.33" r="0.87"/><circle cx="323.19" cy="766.3" r="0.52"/><circle cx="322.34" cy="766.88" r="0.89"/><circle cx="276.02" cy="784.57" r="1.15"/><circle cx="322.4" cy="801.47" r="0.68"/></g><path d="M270.69,751.23 L268.76,754.07 L267.46,754.57 L267.44,755.77 L266.89,757.82 L264.42,759.64 L263.48,760.69 L263.33,761.23 L262.11,764.1 L263.48,764.79 L262.95,767.12 L262.79,767.97 L260.58,769.48 L261.91,771.34 L262.25,773.05 L262.72,774.14 L265.01,775.11 L266.19,776.37 L265.04,779.07 L263.72,781.45 L264.18,782.14 L263.8,784.62 L263.54,785.54 L262.97,788.48 L263.38,789.61 L265.44,792.39 L265.94,793.16 L263.97,795.91 L264.75,796.83 L262.47,798.47 L262.27,800.24 L263.44,801.19 L262,803.29 L263.01,803.91 L264.79,806.44 L265.41,806.75 L266.79,808.38 L309.71,808.38 L311.47,806.7 L310.59,804.73 L312.73,802.55 L312.88,801.27 L312.1,799.99 L311.93,798.68 L311.08,796.68 L311.61,794.49 L311.06,791.71 L310.63,790.19 L312.7,788.6 L313.11,788.52 L313.22,786.69 L312.66,784.48 L313.9,784 L314.75,781.25 L313.12,780.42 L312.49,779.33 L312.76,777.89 L312.37,775.19 L310.52,774.25 L311.69,771.94 L312.88,771.14 L312.06,768.61 L312.27,766.2 L313.25,765.02 L313.47,763.28 L314.59,762.19 L314.73,759.67 L316.48,758.99 L317.69,756.57 L317.7,755.58 L315.02,754.11 L313.85,754.28 L312.52,753.21 L311.17,751.45Z" fill="#075807"/><g fill="#1a7a1a" opacity="0.7"><circle cx="264.29" cy="770.88" r="1.23"/><circle cx="302.21" cy="762.06" r="1.35"/><circle cx="281.68" cy="781.32" r="1.09"/><circle cx="284.03" cy="802.96" r="1.44"/><circle cx="307.57" cy="791.14" r="1.29"/><circle cx="269.45" cy="758.64" r="1.38"/><circle cx="295.55" cy="786.26" r="1.02"/><circle cx="275.61" cy="799.73" r="1.17"/></g><path d="M270.69,751.23 L268.76,754.07 L267.46,754.57 L267.44,755.77 L266.89,757.82 L264.42,759.64 L263.48,760.69 L263.33,761.23 L262.11,764.1 L263.48,764.79 L262.95,767.12 L262.79,767.97 L260.58,769.48 L261.91,771.34 L262.25,773.05 L262.72,774.14 L265.01,775.11 L266.19,776.37 L265.04,779.07 L263.72,781.45 L264.18,782.14 L263.8,784.62 L263.54,785.54 L262.97,788.48 L263.38,789.61 L265.44,792.39 L265.94,793.16 L263.97,795.91 L264.75,796.83 L262.47,798.47 L262.27,800.24 L263.44,801.19 L262,803.29 L263.01,803.91 L264.79,806.44 L265.41,806.75 L266.79,808.38" fill="none" stroke="#e0ec3c" stroke-width="1.3" stroke-linejoin="round"/><path d="M311.17,751.45 L312.52,753.21 L313.85,754.28 L315.02,754.11 L317.7,755.58 L317.69,756.57 L316.48,758.99 L314.73,759.67 L314.59,762.19 L313.47,763.28 L313.25,765.02 L312.27,766.2 L312.06,768.61 L312.88,771.14 L311.69,771.94 L310.52,774.25 L312.37,775.19 L312.76,777.89 L312.49,779.33 L313.12,780.42 L314.75,781.25 L313.9,784 L312.66,784.48 L313.22,786.69 L313.11,788.52 L312.7,788.6 L310.63,790.19 L311.06,791.71 L311.61,794.49 L311.08,796.68 L311.93,798.68 L312.1,799.99 L312.88,801.27 L312.73,802.55 L310.59,804.73 L311.47,806.7 L309.71,808.38" fill="none" stroke="#e0ec3c" stroke-width="1.3" stroke-linejoin="round"/><g fill="none" stroke="#e0ec3c" stroke-width="0.9"><circle cx="259.18" cy="766.02" r="1.15"/><circle cx="259.61" cy="785.34" r="1.7"/><circle cx="266.33" cy="755.83" r="1.22"/><circle cx="260" cy="777.69" r="1.61"/><circle cx="266.1" cy="779.69" r="0.92"/><circle cx="259.12" cy="758.51" r="1.64"/><circle cx="266.46" cy="771.34" r="1.03"/><circle cx="266.71" cy="759.35" r="1.12"/><circle cx="259.02" cy="785.48" r="1.22"/><circle cx="265.94" cy="779.99" r="1.38"/><circle cx="267.88" cy="779.17" r="1.73"/><circle cx="267.67" cy="758.19" r="1.55"/><circle cx="261.04" cy="765.54" r="1.14"/><circle cx="267.9" cy="757.53" r="1.23"/><circle cx="260.15" cy="785.92" r="1.3"/><circle cx="265.32" cy="771.46" r="1.57"/><circle cx="262.03" cy="768.23" r="1.54"/><circle cx="265.32" cy="782.6" r="1.11"/><circle cx="266.63" cy="778.04" r="1.37"/><circle cx="262.67" cy="772.88" r="0.88"/><circle cx="259.87" cy="765.13" r="0.92"/><circle cx="259.44" cy="777.42" r="1.53"/><circle cx="264.54" cy="761.94" r="1.52"/><circle cx="266.43" cy="774.46" r="1.03"/><circle cx="264.08" cy="767.66" r="1.07"/><circle cx="260.34" cy="781.9" r="1.43"/><circle cx="267.39" cy="760.91" r="1.06"/><circle cx="314.06" cy="752.96" r="1.1"/><circle cx="314.24" cy="755.54" r="1.71"/><circle cx="314.46" cy="756.49" r="1.39"/><circle cx="315.71" cy="754.83" r="0.8"/><circle cx="316.88" cy="757.43" r="0.93"/><circle cx="311.67" cy="753.96" r="1.46"/><circle cx="277.97" cy="798.78" r="1.29"/><circle cx="276.09" cy="800.98" r="1.18"/><circle cx="279.08" cy="798.62" r="1.06"/><circle cx="279.66" cy="801.58" r="1.21"/><circle cx="281.4" cy="801.58" r="0.82"/><circle cx="288.56" cy="805.39" r="1.29"/><circle cx="276.04" cy="800.75" r="1.7"/><circle cx="282.86" cy="800.49" r="1.62"/><circle cx="289.37" cy="799.72" r="1.3"/><circle cx="284.42" cy="799.68" r="1.12"/><circle cx="285.27" cy="804.8" r="1.43"/><circle cx="285.3" cy="802.08" r="0.87"/><circle cx="276.24" cy="806.31" r="1.66"/><circle cx="289.58" cy="799.3" r="1.57"/><circle cx="278.58" cy="801.79" r="1"/></g></g>
<text x="249" y="804.1" font-size="11" text-anchor="start" fill="#f2f2f2" font-weight="bold" >0 hr</text>
<clipPath id="clipimg7"><rect x="345" y="752" width="77.5" height="56.4"/></clipPath>
<g clip-path="url(#clipimg7)"><rect x="345" y="752" width="77.5" height="56.4" fill="#117811"/><g fill="#30b030" opacity="0.5"><circle cx="411.65" cy="798.2" r="1.25"/><circle cx="374.56" cy="804.79" r="0.73"/><circle cx="389.5" cy="789.98" r="0.71"/><circle cx="374.58" cy="757.65" r="1.22"/><circle cx="359.28" cy="759.67" r="0.75"/><circle cx="394.62" cy="787.94" r="0.97"/><circle cx="411.15" cy="794.44" r="0.69"/><circle cx="386.44" cy="761.55" r="0.72"/><circle cx="356.39" cy="756.34" r="0.82"/><circle cx="413.7" cy="789.01" r="0.58"/><circle cx="361.98" cy="785.36" r="0.98"/><circle cx="347.06" cy="757.3" r="1.01"/><circle cx="391.59" cy="756.53" r="1.2"/><circle cx="363.63" cy="785.23" r="0.98"/><circle cx="371.35" cy="805.37" r="0.86"/><circle cx="377.8" cy="782.47" r="1.26"/><circle cx="421.54" cy="795.4" r="0.98"/><circle cx="400.56" cy="787.99" r="1.36"/><circle cx="420.22" cy="794.86" r="0.69"/><circle cx="389.06" cy="776.79" r="0.71"/><circle cx="405.56" cy="764.47" r="1.14"/><circle cx="382.92" cy="776.08" r="1.14"/><circle cx="401.17" cy="807.82" r="1.4"/><circle cx="407" cy="766.88" r="1.1"/><circle cx="383.4" cy="805.04" r="0.9"/><circle cx="372.7" cy="753.46" r="0.92"/><circle cx="386.27" cy="769.39" r="0.59"/><circle cx="382.51" cy="755.98" r="0.65"/><circle cx="379.41" cy="771.64" r="0.95"/><circle cx="386.08" cy="773.91" r="0.62"/><circle cx="346.43" cy="783.55" r="1.37"/><circle cx="366.8" cy="771.84" r="0.79"/><circle cx="402.54" cy="779.82" r="1.22"/><circle cx="345.4" cy="759.48" r="0.69"/><circle cx="373.59" cy="774.53" r="0.85"/><circle cx="419.84" cy="776.77" r="1.02"/><circle cx="419.67" cy="788.2" r="1.04"/><circle cx="409.19" cy="770.86" r="0.53"/><circle cx="419.22" cy="782.14" r="1.02"/><circle cx="350.16" cy="794.02" r="0.84"/><circle cx="394.83" cy="768" r="1.33"/><circle cx="373.58" cy="767.54" r="1.3"/><circle cx="362.26" cy="767.28" r="0.94"/><circle cx="421.02" cy="758.52" r="0.69"/><circle cx="406.67" cy="756.24" r="0.87"/><circle cx="405.69" cy="792.2" r="1.21"/><circle cx="354.09" cy="802.19" r="0.82"/><circle cx="408.1" cy="778.6" r="1.3"/><circle cx="382.04" cy="766.54" r="0.64"/><circle cx="383.48" cy="754.81" r="0.65"/><circle cx="412.78" cy="784.36" r="1.28"/><circle cx="356.69" cy="779.09" r="0.92"/><circle cx="353.36" cy="766.86" r="1.33"/><circle cx="401.08" cy="780.71" r="1.05"/><circle cx="411.72" cy="805.8" r="1.04"/><circle cx="348.9" cy="801.17" r="0.65"/><circle cx="363.61" cy="759.73" r="0.96"/><circle cx="390.15" cy="777.96" r="0.92"/><circle cx="355.92" cy="792.5" r="0.98"/><circle cx="368.94" cy="799.02" r="1.35"/><circle cx="416.49" cy="807.55" r="0.56"/><circle cx="375.12" cy="777.38" r="0.73"/><circle cx="402.64" cy="803.04" r="0.62"/><circle cx="384.23" cy="806.57" r="1.3"/><circle cx="379.94" cy="757.9" r="0.91"/><circle cx="385.11" cy="796.31" r="0.67"/><circle cx="366.66" cy="807.54" r="0.51"/><circle cx="392.35" cy="757.36" r="1.18"/><circle cx="377.82" cy="804.19" r="0.7"/><circle cx="413" cy="764.83" r="0.54"/><circle cx="351.68" cy="756.29" r="0.85"/><circle cx="420.33" cy="772.01" r="1.15"/><circle cx="347.66" cy="781.09" r="0.99"/><circle cx="352.59" cy="784.7" r="0.9"/><circle cx="370.38" cy="798.84" r="1.12"/><circle cx="354.33" cy="757.99" r="0.55"/><circle cx="365.42" cy="787.9" r="1.37"/><circle cx="420.08" cy="800.76" r="0.61"/><circle cx="406.37" cy="794.99" r="0.93"/><circle cx="422.17" cy="785.78" r="0.61"/><circle cx="361.73" cy="759.31" r="1.05"/><circle cx="393.37" cy="800.38" r="0.51"/><circle cx="345.76" cy="806.86" r="0.74"/><circle cx="365.48" cy="800.88" r="0.6"/><circle cx="406.45" cy="802.58" r="1.01"/><circle cx="392.16" cy="752.33" r="1.05"/><circle cx="392.57" cy="795.49" r="0.97"/><circle cx="353.83" cy="764.55" r="1.09"/><circle cx="351.16" cy="758.03" r="0.73"/><circle cx="406.72" cy="782.82" r="0.82"/><circle cx="419.7" cy="784.77" r="0.71"/><circle cx="388.82" cy="800.25" r="0.83"/><circle cx="378.68" cy="784.57" r="1.39"/><circle cx="394.49" cy="762.22" r="1.02"/><circle cx="369.9" cy="778.7" r="1.14"/><circle cx="346.57" cy="780.63" r="0.78"/><circle cx="391.43" cy="798.29" r="0.92"/><circle cx="393.81" cy="768.28" r="0.73"/><circle cx="384.53" cy="782.03" r="0.7"/><circle cx="404.29" cy="780.18" r="0.82"/><circle cx="364.66" cy="799.2" r="1.31"/><circle cx="417.71" cy="765.99" r="0.56"/><circle cx="393.95" cy="753.4" r="1.27"/><circle cx="397.63" cy="771" r="0.9"/><circle cx="397.93" cy="761.04" r="0.83"/><circle cx="405.98" cy="790.39" r="1.03"/><circle cx="353" cy="764.24" r="0.73"/><circle cx="347.44" cy="788.09" r="1.02"/><circle cx="416.63" cy="783.27" r="1.33"/><circle cx="381.34" cy="781.19" r="0.75"/><circle cx="380.98" cy="804.84" r="0.94"/><circle cx="345.17" cy="771.95" r="0.68"/><circle cx="393.33" cy="780.72" r="0.93"/><circle cx="416.85" cy="795" r="0.58"/><circle cx="347.37" cy="791.52" r="1.04"/><circle cx="395.56" cy="780.22" r="0.53"/><circle cx="380.01" cy="799.12" r="1.04"/><circle cx="348.42" cy="759.02" r="1.31"/><circle cx="387.23" cy="761.28" r="1.14"/><circle cx="416.67" cy="800.79" r="1.08"/><circle cx="407.56" cy="756.94" r="0.92"/><circle cx="407.8" cy="771.26" r="0.63"/><circle cx="412.09" cy="791.74" r="0.51"/><circle cx="349.93" cy="783.43" r="1.36"/><circle cx="392.87" cy="801.41" r="0.59"/><circle cx="389.64" cy="762.25" r="0.8"/><circle cx="356.57" cy="778.16" r="0.54"/><circle cx="395.89" cy="788.46" r="1.31"/><circle cx="404.53" cy="756.26" r="1.28"/><circle cx="387.08" cy="804.8" r="0.94"/><circle cx="351.3" cy="791.71" r="0.66"/><circle cx="421.26" cy="782.41" r="1.31"/><circle cx="383.17" cy="770.41" r="1.1"/><circle cx="400.01" cy="777.95" r="0.75"/><circle cx="377.58" cy="792.31" r="0.71"/><circle cx="357.23" cy="779.3" r="1.09"/><circle cx="350.17" cy="767.31" r="1.37"/><circle cx="365.7" cy="795.53" r="0.78"/><circle cx="351.65" cy="779.42" r="1.28"/><circle cx="405.23" cy="754.71" r="1.13"/><circle cx="393.12" cy="779.2" r="1.1"/><circle cx="385.44" cy="762.32" r="1.13"/><circle cx="354.99" cy="769.48" r="1.27"/><circle cx="389.04" cy="780.83" r="1.14"/><circle cx="383.17" cy="773.66" r="1"/><circle cx="346.73" cy="771.83" r="0.54"/><circle cx="422.17" cy="803.21" r="1.09"/><circle cx="357.26" cy="800.23" r="0.75"/><circle cx="407.37" cy="788.72" r="1.04"/><circle cx="402.46" cy="767.08" r="1.25"/><circle cx="387.05" cy="794.7" r="1.26"/><circle cx="364.73" cy="775.16" r="0.83"/><circle cx="350.97" cy="801.38" r="1.12"/><circle cx="382.96" cy="782.75" r="1.29"/><circle cx="350.41" cy="772.18" r="1.12"/><circle cx="386.44" cy="780.05" r="0.73"/><circle cx="362.28" cy="789.8" r="0.81"/><circle cx="417.65" cy="802.87" r="1.37"/><circle cx="366.43" cy="781.02" r="0.59"/><circle cx="372.84" cy="756.2" r="0.95"/></g><g fill="#0c700c" opacity="0.5"><circle cx="419.17" cy="795" r="0.75"/><circle cx="366.41" cy="804.54" r="0.54"/><circle cx="410.49" cy="800.28" r="0.55"/><circle cx="418.71" cy="788.44" r="0.77"/><circle cx="377.96" cy="786.32" r="0.87"/><circle cx="412.26" cy="802.49" r="0.73"/><circle cx="345.67" cy="795.92" r="0.95"/><circle cx="395.76" cy="756.19" r="0.55"/><circle cx="414.64" cy="772.52" r="0.83"/><circle cx="420.43" cy="763" r="0.94"/><circle cx="349.77" cy="783.65" r="1.02"/><circle cx="357.2" cy="794.85" r="1.18"/><circle cx="409.02" cy="796.59" r="1.16"/><circle cx="400.54" cy="782.88" r="1.08"/><circle cx="407.49" cy="787.48" r="0.97"/><circle cx="358.83" cy="771.08" r="0.73"/><circle cx="411.56" cy="796.08" r="0.7"/><circle cx="422.03" cy="755.34" r="0.54"/><circle cx="370.4" cy="756.36" r="1.16"/><circle cx="372.8" cy="773.9" r="1.1"/><circle cx="386.3" cy="787.56" r="0.81"/><circle cx="380.66" cy="805.98" r="0.69"/><circle cx="385.72" cy="778.99" r="0.6"/><circle cx="356.34" cy="780.58" r="1.06"/><circle cx="378.49" cy="755.33" r="1.15"/><circle cx="355.66" cy="801.88" r="0.53"/><circle cx="395.35" cy="760.24" r="0.68"/><circle cx="377.67" cy="794.61" r="0.8"/><circle cx="377.42" cy="774.69" r="0.86"/><circle cx="366.76" cy="805.75" r="0.63"/><circle cx="355.27" cy="782.94" r="0.75"/><circle cx="400.91" cy="754.23" r="0.97"/><circle cx="373.24" cy="804.3" r="0.71"/><circle cx="378.55" cy="769.9" r="0.87"/><circle cx="366.77" cy="789.77" r="0.79"/><circle cx="399.88" cy="768.44" r="0.82"/><circle cx="388.17" cy="792.52" r="0.96"/><circle cx="378.25" cy="756.84" r="0.58"/><circle cx="356.37" cy="762.37" r="0.63"/><circle cx="396.3" cy="771.22" r="1.14"/><circle cx="363.13" cy="765.86" r="0.63"/><circle cx="356.19" cy="790.47" r="0.9"/><circle cx="364.48" cy="797.7" r="0.97"/><circle cx="378.22" cy="786.28" r="0.96"/><circle cx="379.17" cy="757.17" r="0.76"/><circle cx="418.32" cy="773.06" r="0.95"/><circle cx="351.85" cy="795.65" r="1.1"/><circle cx="373.92" cy="772.98" r="0.86"/><circle cx="364.56" cy="763.84" r="0.59"/><circle cx="398.24" cy="780.73" r="1.17"/><circle cx="419.59" cy="801.3" r="1.16"/><circle cx="409.96" cy="753.38" r="0.59"/><circle cx="420.63" cy="801.28" r="0.93"/><circle cx="393.02" cy="776.61" r="0.8"/><circle cx="356.29" cy="782.91" r="0.69"/><circle cx="354.45" cy="801.09" r="0.9"/><circle cx="412.9" cy="768.58" r="0.9"/><circle cx="366.45" cy="798.85" r="0.65"/><circle cx="395.2" cy="783.3" r="0.73"/><circle cx="351.2" cy="779.45" r="0.87"/><circle cx="408.4" cy="763.46" r="0.63"/><circle cx="368.68" cy="797.26" r="0.66"/><circle cx="394.13" cy="753.81" r="0.56"/><circle cx="399.89" cy="780.02" r="0.58"/><circle cx="381.66" cy="805.04" r="0.77"/><circle cx="388.17" cy="775.71" r="0.85"/><circle cx="348.36" cy="801.8" r="0.91"/><circle cx="371.9" cy="768.04" r="0.63"/><circle cx="417.36" cy="799.43" r="0.76"/><circle cx="391.74" cy="783.16" r="0.64"/><circle cx="347.57" cy="793.47" r="0.61"/><circle cx="388.79" cy="752.97" r="0.52"/><circle cx="357.72" cy="788.86" r="0.93"/><circle cx="421.81" cy="789.23" r="0.87"/><circle cx="346.02" cy="806.03" r="0.84"/><circle cx="411.49" cy="754.37" r="1.08"/><circle cx="381.88" cy="764.23" r="0.78"/><circle cx="350.82" cy="784.76" r="0.65"/><circle cx="399.38" cy="761.8" r="0.98"/><circle cx="392.86" cy="792.14" r="1.17"/><circle cx="367.89" cy="790.52" r="0.78"/><circle cx="414.29" cy="798.54" r="1.03"/><circle cx="391.5" cy="766.75" r="1.14"/><circle cx="420.08" cy="805.58" r="0.74"/><circle cx="408.7" cy="790.29" r="1.09"/><circle cx="407.16" cy="777.63" r="0.78"/><circle cx="406.66" cy="788.92" r="0.88"/><circle cx="412.71" cy="753.79" r="0.51"/><circle cx="381.02" cy="757.49" r="1.09"/><circle cx="351.83" cy="801.75" r="0.66"/></g><path d="M371.6,752.37 L372.5,753.47 L371.78,755.33 L372.18,756.89 L370.61,758.46 L369.77,760.45 L368.47,762.09 L370.02,763.73 L368.45,764.62 L366.71,765.75 L367.29,768.51 L367.56,768.96 L366.68,771.46 L365.41,773.08 L364.07,773.79 L363.39,775.94 L361.69,776.81 L363.54,778.48 L363.14,779.75 L364.08,782.04 L364.53,783.5 L364.36,784.02 L365.07,785.98 L363.47,788.56 L362.08,788.7 L361.57,790.37 L362.73,792.47 L361.65,793.62 L363.89,795 L364.38,797.67 L365.76,798.16 L367.18,799.5 L368,801.87 L368.11,803.06 L369.91,804.72 L371.93,806.33 L373.14,806.54 L374.08,808.38 L377.15,808.38 L377.98,808.08 L379.59,806.09 L381.12,805.76 L382.17,804.72 L384.94,804.71 L386.28,803.9 L388.57,803.89 L388.92,803.38 L391.38,803.18 L393.85,801.85 L395.11,802.37 L396.4,801.95 L397.86,800.31 L397.54,799.12 L399.56,797.55 L399.68,795.93 L399.86,794.15 L400.7,792.01 L401.74,790.4 L403.21,789.48 L401.84,788.5 L404.42,786.85 L404.13,784.46 L403.74,782.39 L403.76,780.15 L403.15,778.37 L403.86,777.51 L403.97,775.77 L406.8,773.15 L407.23,771.14 L407.75,769.9 L406.44,768.9 L408.25,766.08 L408.24,764.34 L407.55,763.29 L407.73,761.44 L407.92,759.68 L407.19,758.8 L406.76,757.39 L406.44,754.86 L407.27,752.9 L405.45,752.3Z" fill="#0a6a0a"/><g fill="#1a7a1a" opacity="0.7"><circle cx="377.27" cy="797.84" r="1.31"/><circle cx="372.77" cy="782.71" r="0.81"/><circle cx="404.31" cy="786.28" r="0.88"/><circle cx="384.65" cy="779.97" r="1.27"/><circle cx="373.74" cy="799.21" r="1.24"/><circle cx="363.45" cy="794.99" r="1.42"/><circle cx="374.46" cy="790.01" r="1.4"/><circle cx="401.89" cy="760.26" r="1.39"/></g><path d="M371.6,752.37 L372.5,753.47 L371.78,755.33 L372.18,756.89 L370.61,758.46 L369.77,760.45 L368.47,762.09 L370.02,763.73 L368.45,764.62 L366.71,765.75 L367.29,768.51 L367.56,768.96 L366.68,771.46 L365.41,773.08 L364.07,773.79 L363.39,775.94 L361.69,776.81 L363.54,778.48 L363.14,779.75 L364.08,782.04 L364.53,783.5 L364.36,784.02 L365.07,785.98 L363.47,788.56 L362.08,788.7 L361.57,790.37 L362.73,792.47 L361.65,793.62 L363.89,795 L364.38,797.67 L365.76,798.16 L367.18,799.5 L368,801.87 L368.11,803.06 L369.91,804.72 L371.93,806.33 L373.14,806.54 L374.08,808.38" fill="none" stroke="#e0ec3c" stroke-width="1.3" stroke-linejoin="round"/><path d="M405.45,752.3 L407.27,752.9 L406.44,754.86 L406.76,757.39 L407.19,758.8 L407.92,759.68 L407.73,761.44 L407.55,763.29 L408.24,764.34 L408.25,766.08 L406.44,768.9 L407.75,769.9 L407.23,771.14 L406.8,773.15 L403.97,775.77 L403.86,777.51 L403.15,778.37 L403.76,780.15 L403.74,782.39 L404.13,784.46 L404.42,786.85 L401.84,788.5 L403.21,789.48 L401.74,790.4 L400.7,792.01 L399.86,794.15 L399.68,795.93 L399.56,797.55 L397.54,799.12 L397.86,800.31 L396.4,801.95 L395.11,802.37 L393.85,801.85 L391.38,803.18 L388.92,803.38 L388.57,803.89 L386.28,803.9 L384.94,804.71 L382.17,804.72 L381.12,805.76 L379.59,806.09 L377.98,808.08 L377.15,808.38" fill="none" stroke="#e0ec3c" stroke-width="1.3" stroke-linejoin="round"/><g fill="none" stroke="#e0ec3c" stroke-width="0.9"><circle cx="370.17" cy="805.98" r="1.49"/><circle cx="377.49" cy="806.9" r="1.6"/><circle cx="395.31" cy="807.42" r="1.37"/><circle cx="386.57" cy="804.77" r="1.2"/><circle cx="378.61" cy="803.27" r="1.02"/><circle cx="370.6" cy="806.37" r="1.65"/><circle cx="385.3" cy="804.93" r="1.31"/><circle cx="381.11" cy="804.73" r="0.81"/><circle cx="376.75" cy="807.52" r="1.01"/><circle cx="377.55" cy="799.31" r="1.05"/><circle cx="389.57" cy="798.9" r="1.6"/><circle cx="388.69" cy="806.59" r="1.06"/><circle cx="393.19" cy="802.02" r="1.25"/><circle cx="393.84" cy="803.61" r="1.48"/><circle cx="365.52" cy="798.64" r="1.06"/><circle cx="365.36" cy="806.18" r="1.05"/><circle cx="394.07" cy="804.84" r="0.99"/><circle cx="385.75" cy="801.53" r="1.33"/><circle cx="364.36" cy="806.26" r="1.59"/><circle cx="381.38" cy="804.95" r="1.14"/><circle cx="366.1" cy="801.59" r="1.54"/><circle cx="380.78" cy="799.84" r="1.04"/><circle cx="377.81" cy="798.73" r="0.84"/><circle cx="376.96" cy="799.83" r="1.69"/><circle cx="366.14" cy="805.49" r="1.59"/><circle cx="372.43" cy="803.59" r="1.79"/><circle cx="382.6" cy="802.16" r="1.78"/><circle cx="370.55" cy="807.39" r="1.11"/><circle cx="376" cy="801.5" r="1.45"/><circle cx="391.54" cy="804.94" r="0.98"/><circle cx="395.17" cy="805.25" r="1.31"/><circle cx="365.71" cy="774.97" r="1.4"/><circle cx="365.41" cy="780.99" r="1.47"/><circle cx="362.09" cy="778.31" r="1.07"/><circle cx="364.6" cy="777.57" r="1.26"/><circle cx="364.27" cy="779.29" r="1.69"/><circle cx="363.1" cy="776.47" r="0.98"/></g></g>
<text x="346.5" y="804.1" font-size="11" text-anchor="start" fill="#f2f2f2" font-weight="bold" >24 hr</text>
<path d="M481.2,672.8 L527.1,680.1 L573,691.42 L618.9,698.36 L664.8,707.85" fill="none" stroke="#9e9e9e" stroke-width="0.9"/>
<path d="M527.1,677.67V682.54M524.9,677.67h4.4M524.9,682.54h4.4M573,688.38V694.46M570.8,688.38h4.4M570.8,694.46h4.4M618.9,693.49V703.23M616.7,693.49h4.4M616.7,703.23h4.4M664.8,704.81V710.89M662.6,704.81h4.4M662.6,710.89h4.4" stroke="#9e9e9e" stroke-width="0.8" fill="none"/>
<circle cx="481.2" cy="672.8" r="2.4" fill="#9e9e9e"/><circle cx="527.1" cy="680.1" r="2.4" fill="#9e9e9e"/><circle cx="573" cy="691.42" r="2.4" fill="#9e9e9e"/><circle cx="618.9" cy="698.36" r="2.4" fill="#9e9e9e"/><circle cx="664.8" cy="707.85" r="2.4" fill="#9e9e9e"/>
<path d="M481.2,672.8 L527.1,687.4 L573,688.86 L618.9,708.46 L664.8,711.62" fill="none" stroke="#f6b26b" stroke-width="0.9"/>
<path d="M527.1,673.41V701.4M524.9,673.41h4.4M524.9,701.4h4.4M573,682.41V695.31M570.8,682.41h4.4M570.8,695.31h4.4M618.9,689.11V727.81M616.7,689.11h4.4M616.7,727.81h4.4M664.8,701.52V721.72M662.6,701.52h4.4M662.6,721.72h4.4" stroke="#f6b26b" stroke-width="0.8" fill="none"/>
<circle cx="481.2" cy="672.8" r="2.4" fill="#f6b26b"/><circle cx="527.1" cy="687.4" r="2.4" fill="#f6b26b"/><circle cx="573" cy="688.86" r="2.4" fill="#f6b26b"/><circle cx="618.9" cy="708.46" r="2.4" fill="#f6b26b"/><circle cx="664.8" cy="711.62" r="2.4" fill="#f6b26b"/>
<path d="M481.2,672.8 L527.1,690.45 L573,706.02 L618.9,727.93 L664.8,743.63" fill="none" stroke="#f08c8c" stroke-width="0.9"/>
<path d="M527.1,686.19V694.71M524.9,686.19h4.4M524.9,694.71h4.4M573,701.16V710.89M570.8,701.16h4.4M570.8,710.89h4.4M618.9,719.41V736.45M616.7,719.41h4.4M616.7,736.45h4.4M664.8,735.6V751.66M662.6,735.6h4.4M662.6,751.66h4.4" stroke="#f08c8c" stroke-width="0.8" fill="none"/>
<circle cx="481.2" cy="672.8" r="2.4" fill="#f08c8c"/><circle cx="527.1" cy="690.45" r="2.4" fill="#f08c8c"/><circle cx="573" cy="706.02" r="2.4" fill="#f08c8c"/><circle cx="618.9" cy="727.93" r="2.4" fill="#f08c8c"/><circle cx="664.8" cy="743.63" r="2.4" fill="#f08c8c"/>
<path d="M481.2,672.8 L527.1,672.8 L573,677.91 L618.9,684.36 L664.8,698.72" fill="none" stroke="#111111" stroke-width="0.9"/>
<path d="M573,675.48V680.35M570.8,675.48h4.4M570.8,680.35h4.4M618.9,681.93V686.8M616.7,681.93h4.4M616.7,686.8h4.4M664.8,696.04V701.4M662.6,696.04h4.4M662.6,701.4h4.4" stroke="#111111" stroke-width="0.8" fill="none"/>
<circle cx="481.2" cy="672.8" r="2.4" fill="#111111"/><circle cx="527.1" cy="672.8" r="2.4" fill="#111111"/><circle cx="573" cy="677.91" r="2.4" fill="#111111"/><circle cx="618.9" cy="684.36" r="2.4" fill="#111111"/><circle cx="664.8" cy="698.72" r="2.4" fill="#111111"/>
<path d="M481.2,672.8V682.6M479,682.6h4.4" stroke="#c09060" stroke-width="0.9" fill="none"/>
<path d="M481.2,672.8V794.5H664.8M481.2,794.5h-3.5M481.2,782.33h-3M481.2,770.16h-3M481.2,757.99h-3M481.2,745.82h-3M481.2,733.65h-3.5M481.2,721.48h-3M481.2,709.31h-3M481.2,697.14h-3M481.2,684.97h-3M481.2,672.8h-3.5M481.2,794.5v3.2M527.1,794.5v3.2M573,794.5v3.2M618.9,794.5v3.2M664.8,794.5v3.2" stroke="#111" stroke-width="1.3" fill="none"/>
<text x="474.6" y="798.1" font-size="10" text-anchor="end" fill="#111" font-weight="bold" letter-spacing="-0.4">0</text>
<text x="474.6" y="737.25" font-size="10" text-anchor="end" fill="#111" font-weight="bold" letter-spacing="-0.4">50</text>
<text x="474.6" y="676.4" font-size="10" text-anchor="end" fill="#111" font-weight="bold" letter-spacing="-0.4">100</text>
<text x="481.2" y="809.4" font-size="8.8" text-anchor="middle" fill="#111" font-weight="bold" >0</text>
<text x="527.1" y="809.4" font-size="8.8" text-anchor="middle" fill="#111" font-weight="bold" >6</text>
<text x="573" y="809.4" font-size="8.8" text-anchor="middle" fill="#111" font-weight="bold" >12</text>
<text x="618.9" y="809.4" font-size="8.8" text-anchor="middle" fill="#111" font-weight="bold" >18</text>
<text x="664.8" y="809.4" font-size="8.8" text-anchor="middle" fill="#111" font-weight="bold" >24</text>
<text x="572.6" y="826.4" font-size="10.8" text-anchor="middle" fill="#111" font-weight="bold" >Hours</text>
<text transform="translate(452.4,730.6) rotate(-90)" font-size="10" text-anchor="middle" font-weight="bold" fill="#111">Wound healing gap (%)</text>
<path d="M495.4,739.2H506.2" stroke="#111111" stroke-width="0.9"/><circle cx="500.8" cy="739.2" r="2.3" fill="#111111"/>
<text x="513.3" y="742.3" font-size="8.5" text-anchor="start" fill="#111" font-weight="bold" >Untreated</text>
<path d="M495.4,754.3H506.2" stroke="#f6b26b" stroke-width="0.9"/><circle cx="500.8" cy="754.3" r="2.3" fill="#f6b26b"/>
<text x="513.3" y="757.4" font-size="8.5" text-anchor="start" fill="#111" font-weight="bold" >hCCL5</text>
<path d="M495.4,768.8H506.2" stroke="#f08c8c" stroke-width="0.9"/><circle cx="500.8" cy="768.8" r="2.3" fill="#f08c8c"/>
<text x="513.3" y="771.9" font-size="8.5" text-anchor="start" fill="#111" font-weight="bold" >hCCL5-K25S</text>
<path d="M495.4,783.6H506.2" stroke="#9e9e9e" stroke-width="0.9"/><circle cx="500.8" cy="783.6" r="2.3" fill="#9e9e9e"/>
<text x="513.3" y="786.7" font-size="8.5" text-anchor="start" fill="#111" font-weight="bold" >Met-hCCL5-K25S</text>
<path d="M670,698.7H676.2V744H670" stroke="#111" stroke-width="1.1" fill="none"/>
<text x="676.6" y="696.2" font-size="11.5" text-anchor="middle" fill="#111" font-weight="bold" letter-spacing="1.2">**</text>
</svg>
</body></html>
